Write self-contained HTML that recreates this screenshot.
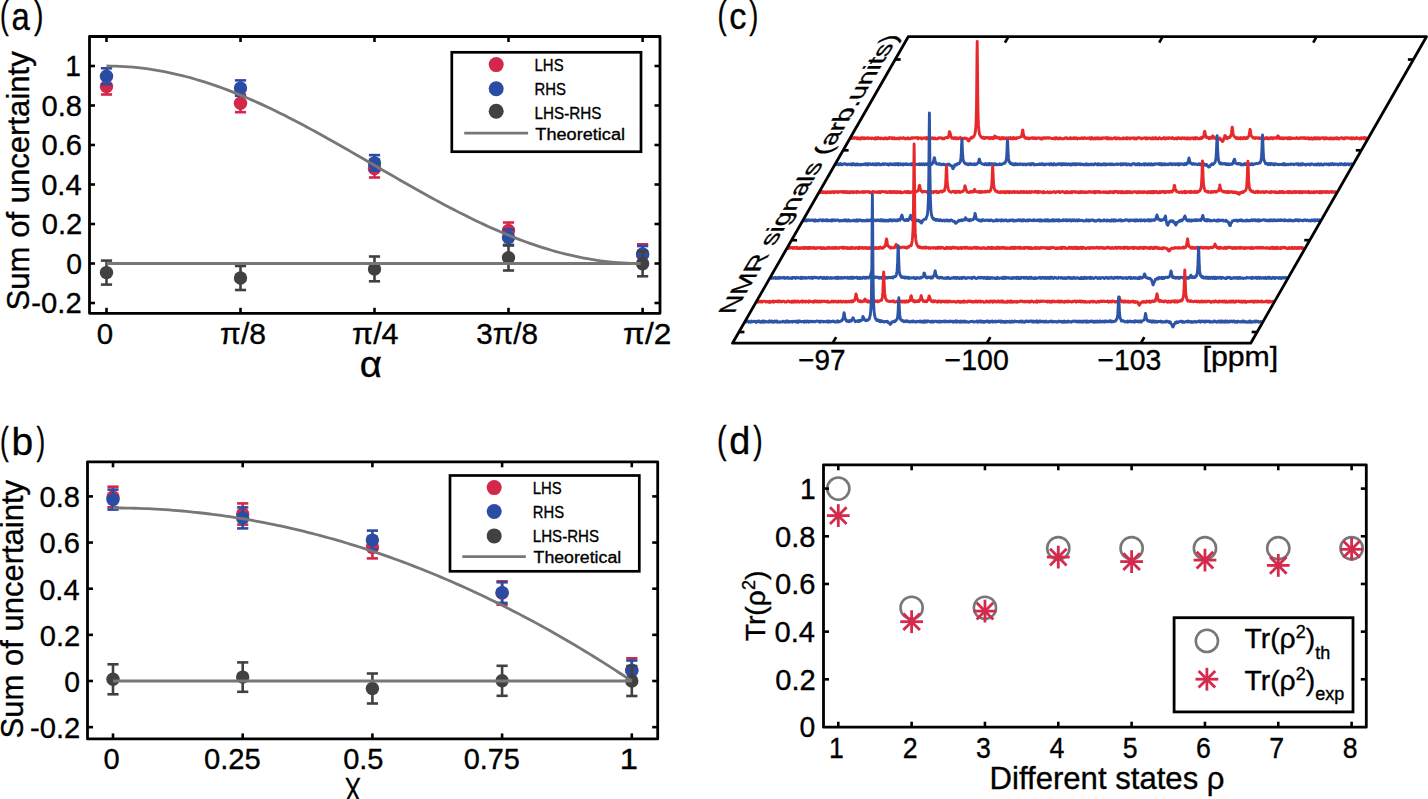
<!DOCTYPE html>
<html><head><meta charset="utf-8"><title>Figure</title>
<style>html,body{margin:0;padding:0;background:#fff;}svg{display:block;}text{font-family:"Liberation Sans", sans-serif;stroke:#000;stroke-width:0.35px;}</style>
</head><body>
<svg width="1428" height="799" viewBox="0 0 1428 799">
<rect width="1428" height="799" fill="#fff"/>
<line x1="106.50" y1="78.70" x2="106.50" y2="94.50" stroke="#D3284A" stroke-width="2.6" stroke-linecap="butt"/>
<line x1="100.90" y1="78.70" x2="112.10" y2="78.70" stroke="#D3284A" stroke-width="2.6" stroke-linecap="butt"/>
<line x1="100.90" y1="94.50" x2="112.10" y2="94.50" stroke="#D3284A" stroke-width="2.6" stroke-linecap="butt"/>
<circle cx="106.50" cy="86.60" r="6.7" fill="#D3284A"/>
<line x1="240.50" y1="94.40" x2="240.50" y2="112.20" stroke="#D3284A" stroke-width="2.6" stroke-linecap="butt"/>
<line x1="234.90" y1="94.40" x2="246.10" y2="94.40" stroke="#D3284A" stroke-width="2.6" stroke-linecap="butt"/>
<line x1="234.90" y1="112.20" x2="246.10" y2="112.20" stroke="#D3284A" stroke-width="2.6" stroke-linecap="butt"/>
<circle cx="240.50" cy="103.30" r="6.7" fill="#D3284A"/>
<line x1="374.50" y1="159.50" x2="374.50" y2="177.50" stroke="#D3284A" stroke-width="2.6" stroke-linecap="butt"/>
<line x1="368.90" y1="159.50" x2="380.10" y2="159.50" stroke="#D3284A" stroke-width="2.6" stroke-linecap="butt"/>
<line x1="368.90" y1="177.50" x2="380.10" y2="177.50" stroke="#D3284A" stroke-width="2.6" stroke-linecap="butt"/>
<circle cx="374.50" cy="168.50" r="6.7" fill="#D3284A"/>
<line x1="508.50" y1="222.50" x2="508.50" y2="238.50" stroke="#D3284A" stroke-width="2.6" stroke-linecap="butt"/>
<line x1="502.90" y1="222.50" x2="514.10" y2="222.50" stroke="#D3284A" stroke-width="2.6" stroke-linecap="butt"/>
<line x1="502.90" y1="238.50" x2="514.10" y2="238.50" stroke="#D3284A" stroke-width="2.6" stroke-linecap="butt"/>
<circle cx="508.50" cy="230.50" r="6.7" fill="#D3284A"/>
<line x1="642.60" y1="244.30" x2="642.60" y2="264.70" stroke="#D3284A" stroke-width="2.6" stroke-linecap="butt"/>
<line x1="637.00" y1="244.30" x2="648.20" y2="244.30" stroke="#D3284A" stroke-width="2.6" stroke-linecap="butt"/>
<line x1="637.00" y1="264.70" x2="648.20" y2="264.70" stroke="#D3284A" stroke-width="2.6" stroke-linecap="butt"/>
<circle cx="642.60" cy="254.50" r="6.7" fill="#D3284A"/>
<line x1="106.50" y1="68.30" x2="106.50" y2="84.30" stroke="#2A4DA3" stroke-width="2.6" stroke-linecap="butt"/>
<line x1="100.90" y1="68.30" x2="112.10" y2="68.30" stroke="#2A4DA3" stroke-width="2.6" stroke-linecap="butt"/>
<line x1="100.90" y1="84.30" x2="112.10" y2="84.30" stroke="#2A4DA3" stroke-width="2.6" stroke-linecap="butt"/>
<circle cx="106.50" cy="76.30" r="6.7" fill="#2A4DA3"/>
<line x1="240.50" y1="80.40" x2="240.50" y2="95.80" stroke="#2A4DA3" stroke-width="2.6" stroke-linecap="butt"/>
<line x1="234.90" y1="80.40" x2="246.10" y2="80.40" stroke="#2A4DA3" stroke-width="2.6" stroke-linecap="butt"/>
<line x1="234.90" y1="95.80" x2="246.10" y2="95.80" stroke="#2A4DA3" stroke-width="2.6" stroke-linecap="butt"/>
<circle cx="240.50" cy="88.10" r="6.7" fill="#2A4DA3"/>
<line x1="374.50" y1="155.10" x2="374.50" y2="170.70" stroke="#2A4DA3" stroke-width="2.6" stroke-linecap="butt"/>
<line x1="368.90" y1="155.10" x2="380.10" y2="155.10" stroke="#2A4DA3" stroke-width="2.6" stroke-linecap="butt"/>
<line x1="368.90" y1="170.70" x2="380.10" y2="170.70" stroke="#2A4DA3" stroke-width="2.6" stroke-linecap="butt"/>
<circle cx="374.50" cy="162.90" r="6.7" fill="#2A4DA3"/>
<line x1="508.50" y1="229.50" x2="508.50" y2="245.50" stroke="#2A4DA3" stroke-width="2.6" stroke-linecap="butt"/>
<line x1="502.90" y1="229.50" x2="514.10" y2="229.50" stroke="#2A4DA3" stroke-width="2.6" stroke-linecap="butt"/>
<line x1="502.90" y1="245.50" x2="514.10" y2="245.50" stroke="#2A4DA3" stroke-width="2.6" stroke-linecap="butt"/>
<circle cx="508.50" cy="237.50" r="6.7" fill="#2A4DA3"/>
<line x1="642.60" y1="246.00" x2="642.60" y2="262.00" stroke="#2A4DA3" stroke-width="2.6" stroke-linecap="butt"/>
<line x1="637.00" y1="246.00" x2="648.20" y2="246.00" stroke="#2A4DA3" stroke-width="2.6" stroke-linecap="butt"/>
<line x1="637.00" y1="262.00" x2="648.20" y2="262.00" stroke="#2A4DA3" stroke-width="2.6" stroke-linecap="butt"/>
<circle cx="642.60" cy="254.00" r="6.7" fill="#2A4DA3"/>
<line x1="106.50" y1="260.60" x2="106.50" y2="284.60" stroke="#414141" stroke-width="2.6" stroke-linecap="butt"/>
<line x1="100.90" y1="260.60" x2="112.10" y2="260.60" stroke="#414141" stroke-width="2.6" stroke-linecap="butt"/>
<line x1="100.90" y1="284.60" x2="112.10" y2="284.60" stroke="#414141" stroke-width="2.6" stroke-linecap="butt"/>
<circle cx="106.50" cy="272.60" r="6.7" fill="#414141"/>
<line x1="240.50" y1="266.00" x2="240.50" y2="290.00" stroke="#414141" stroke-width="2.6" stroke-linecap="butt"/>
<line x1="234.90" y1="266.00" x2="246.10" y2="266.00" stroke="#414141" stroke-width="2.6" stroke-linecap="butt"/>
<line x1="234.90" y1="290.00" x2="246.10" y2="290.00" stroke="#414141" stroke-width="2.6" stroke-linecap="butt"/>
<circle cx="240.50" cy="278.00" r="6.7" fill="#414141"/>
<line x1="374.50" y1="256.50" x2="374.50" y2="281.30" stroke="#414141" stroke-width="2.6" stroke-linecap="butt"/>
<line x1="368.90" y1="256.50" x2="380.10" y2="256.50" stroke="#414141" stroke-width="2.6" stroke-linecap="butt"/>
<line x1="368.90" y1="281.30" x2="380.10" y2="281.30" stroke="#414141" stroke-width="2.6" stroke-linecap="butt"/>
<circle cx="374.50" cy="268.90" r="6.7" fill="#414141"/>
<line x1="508.50" y1="244.90" x2="508.50" y2="270.50" stroke="#414141" stroke-width="2.6" stroke-linecap="butt"/>
<line x1="502.90" y1="244.90" x2="514.10" y2="244.90" stroke="#414141" stroke-width="2.6" stroke-linecap="butt"/>
<line x1="502.90" y1="270.50" x2="514.10" y2="270.50" stroke="#414141" stroke-width="2.6" stroke-linecap="butt"/>
<circle cx="508.50" cy="257.70" r="6.7" fill="#414141"/>
<line x1="642.60" y1="251.30" x2="642.60" y2="276.30" stroke="#414141" stroke-width="2.6" stroke-linecap="butt"/>
<line x1="637.00" y1="251.30" x2="648.20" y2="251.30" stroke="#414141" stroke-width="2.6" stroke-linecap="butt"/>
<line x1="637.00" y1="276.30" x2="648.20" y2="276.30" stroke="#414141" stroke-width="2.6" stroke-linecap="butt"/>
<circle cx="642.60" cy="263.80" r="6.7" fill="#414141"/>
<polyline points="106.50,66.00 110.95,66.03 115.40,66.14 119.85,66.30 124.30,66.54 128.75,66.84 133.20,67.22 137.65,67.65 142.10,68.16 146.55,68.73 151.00,69.36 155.45,70.07 159.90,70.83 164.35,71.66 168.80,72.56 173.25,73.52 177.70,74.54 182.15,75.62 186.60,76.76 191.05,77.97 195.50,79.23 199.95,80.55 204.40,81.93 208.85,83.37 213.30,84.86 217.75,86.41 222.20,88.01 226.65,89.66 231.10,91.36 235.55,93.12 240.00,94.92 244.45,96.77 248.90,98.67 253.35,100.62 257.80,102.60 262.25,104.63 266.70,106.71 271.15,108.82 275.60,110.97 280.05,113.15 284.50,115.37 288.95,117.63 293.40,119.92 297.85,122.24 302.30,124.58 306.75,126.96 311.20,129.36 315.65,131.79 320.10,134.23 324.55,136.70 329.00,139.19 333.45,141.70 337.90,144.22 342.35,146.75 346.80,149.30 351.25,151.86 355.70,154.43 360.15,157.00 364.60,159.58 369.05,162.17 373.50,164.75 377.95,167.33 382.40,169.92 386.85,172.50 391.30,175.07 395.75,177.64 400.20,180.20 404.65,182.75 409.10,185.28 413.55,187.80 418.00,190.31 422.45,192.80 426.90,195.27 431.35,197.71 435.80,200.14 440.25,202.54 444.70,204.92 449.15,207.26 453.60,209.58 458.05,211.87 462.50,214.12 466.95,216.35 471.40,218.53 475.85,220.68 480.30,222.79 484.75,224.87 489.20,226.90 493.65,228.88 498.10,230.83 502.55,232.73 507.00,234.58 511.45,236.38 515.90,238.14 520.35,239.84 524.80,241.49 529.25,243.09 533.70,244.64 538.15,246.13 542.60,247.57 547.05,248.95 551.50,250.27 555.95,251.53 560.40,252.74 564.85,253.88 569.30,254.96 573.75,255.98 578.20,256.94 582.65,257.84 587.10,258.67 591.55,259.43 596.00,260.14 600.45,260.77 604.90,261.34 609.35,261.85 613.80,262.28 618.25,262.66 622.70,262.96 627.15,263.20 631.60,263.36 636.05,263.47 640.50,263.50" fill="none" stroke="#777777" stroke-width="2.8" stroke-linejoin="round" />
<line x1="106.50" y1="263.50" x2="640.50" y2="263.50" stroke="#777777" stroke-width="2.8" stroke-linecap="butt"/>
<rect x="89.50" y="36.50" width="570.50" height="276.80" fill="none" stroke="#000" stroke-width="2.8" stroke-linejoin="round"/>
<line x1="106.50" y1="313.30" x2="106.50" y2="307.80" stroke="#000" stroke-width="2.6" stroke-linecap="butt"/>
<line x1="106.50" y1="36.50" x2="106.50" y2="42.00" stroke="#000" stroke-width="2.6" stroke-linecap="butt"/>
<line x1="240.50" y1="313.30" x2="240.50" y2="307.80" stroke="#000" stroke-width="2.6" stroke-linecap="butt"/>
<line x1="240.50" y1="36.50" x2="240.50" y2="42.00" stroke="#000" stroke-width="2.6" stroke-linecap="butt"/>
<line x1="374.50" y1="313.30" x2="374.50" y2="307.80" stroke="#000" stroke-width="2.6" stroke-linecap="butt"/>
<line x1="374.50" y1="36.50" x2="374.50" y2="42.00" stroke="#000" stroke-width="2.6" stroke-linecap="butt"/>
<line x1="508.50" y1="313.30" x2="508.50" y2="307.80" stroke="#000" stroke-width="2.6" stroke-linecap="butt"/>
<line x1="508.50" y1="36.50" x2="508.50" y2="42.00" stroke="#000" stroke-width="2.6" stroke-linecap="butt"/>
<line x1="642.60" y1="313.30" x2="642.60" y2="307.80" stroke="#000" stroke-width="2.6" stroke-linecap="butt"/>
<line x1="642.60" y1="36.50" x2="642.60" y2="42.00" stroke="#000" stroke-width="2.6" stroke-linecap="butt"/>
<line x1="89.50" y1="303.00" x2="95.00" y2="303.00" stroke="#000" stroke-width="2.6" stroke-linecap="butt"/>
<line x1="660.00" y1="303.00" x2="654.50" y2="303.00" stroke="#000" stroke-width="2.6" stroke-linecap="butt"/>
<line x1="89.50" y1="263.50" x2="95.00" y2="263.50" stroke="#000" stroke-width="2.6" stroke-linecap="butt"/>
<line x1="660.00" y1="263.50" x2="654.50" y2="263.50" stroke="#000" stroke-width="2.6" stroke-linecap="butt"/>
<line x1="89.50" y1="224.00" x2="95.00" y2="224.00" stroke="#000" stroke-width="2.6" stroke-linecap="butt"/>
<line x1="660.00" y1="224.00" x2="654.50" y2="224.00" stroke="#000" stroke-width="2.6" stroke-linecap="butt"/>
<line x1="89.50" y1="184.50" x2="95.00" y2="184.50" stroke="#000" stroke-width="2.6" stroke-linecap="butt"/>
<line x1="660.00" y1="184.50" x2="654.50" y2="184.50" stroke="#000" stroke-width="2.6" stroke-linecap="butt"/>
<line x1="89.50" y1="145.00" x2="95.00" y2="145.00" stroke="#000" stroke-width="2.6" stroke-linecap="butt"/>
<line x1="660.00" y1="145.00" x2="654.50" y2="145.00" stroke="#000" stroke-width="2.6" stroke-linecap="butt"/>
<line x1="89.50" y1="105.50" x2="95.00" y2="105.50" stroke="#000" stroke-width="2.6" stroke-linecap="butt"/>
<line x1="660.00" y1="105.50" x2="654.50" y2="105.50" stroke="#000" stroke-width="2.6" stroke-linecap="butt"/>
<line x1="89.50" y1="66.00" x2="95.00" y2="66.00" stroke="#000" stroke-width="2.6" stroke-linecap="butt"/>
<line x1="660.00" y1="66.00" x2="654.50" y2="66.00" stroke="#000" stroke-width="2.6" stroke-linecap="butt"/>
<rect x="451.8" y="52.3" width="189.2" height="99.4" fill="#fff" stroke="#000" stroke-width="2.7"/>
<circle cx="496.20" cy="64.60" r="7.5" fill="#D3284A"/>
<circle cx="496.20" cy="88.80" r="7.5" fill="#2A4DA3"/>
<circle cx="496.20" cy="111.30" r="7.5" fill="#414141"/>
<line x1="464.20" y1="133.20" x2="528.10" y2="133.20" stroke="#777777" stroke-width="2.8" stroke-linecap="butt"/>
<text x="534.58" y="70.80" font-size="17.3" textLength="29.01" lengthAdjust="spacingAndGlyphs" fill="#000" >LHS</text>
<text x="534.58" y="94.70" font-size="17.3" textLength="31.40" lengthAdjust="spacingAndGlyphs" fill="#000" >RHS</text>
<text x="534.55" y="118.60" font-size="17.3" textLength="66.85" lengthAdjust="spacingAndGlyphs" fill="#000" >LHS-RHS</text>
<text x="535.39" y="139.90" font-size="17.3" textLength="89.62" lengthAdjust="spacingAndGlyphs" fill="#000" >Theoretical</text>
<text x="65.30" y="76.30" font-size="29" textLength="15.68" lengthAdjust="spacingAndGlyphs" fill="#000" >1</text>
<text x="41.58" y="115.80" font-size="29" textLength="40.48" lengthAdjust="spacingAndGlyphs" fill="#000" >0.8</text>
<text x="41.60" y="155.30" font-size="29" textLength="40.48" lengthAdjust="spacingAndGlyphs" fill="#000" >0.6</text>
<text x="41.16" y="194.80" font-size="29" textLength="40.49" lengthAdjust="spacingAndGlyphs" fill="#000" >0.4</text>
<text x="41.79" y="234.30" font-size="29" textLength="40.48" lengthAdjust="spacingAndGlyphs" fill="#000" >0.2</text>
<text x="66.15" y="273.80" font-size="29" textLength="15.75" lengthAdjust="spacingAndGlyphs" fill="#000" >0</text>
<text x="31.33" y="313.30" font-size="29" textLength="50.34" lengthAdjust="spacingAndGlyphs" fill="#000" >-0.2</text>
<text x="96.85" y="343.60" font-size="29" textLength="16.40" lengthAdjust="spacingAndGlyphs" fill="#000" >0</text>
<text x="220.14" y="343.60" font-size="29" textLength="45.87" lengthAdjust="spacingAndGlyphs" fill="#000" >π/8</text>
<text x="352.12" y="343.60" font-size="29" textLength="46.47" lengthAdjust="spacingAndGlyphs" fill="#000" >π/4</text>
<text x="476.17" y="343.60" font-size="29" textLength="61.82" lengthAdjust="spacingAndGlyphs" fill="#000" >3π/8</text>
<text x="623.08" y="343.60" font-size="29" textLength="48.21" lengthAdjust="spacingAndGlyphs" fill="#000" >π/2</text>
<text x="359.69" y="376.60" font-size="36" textLength="22.11" lengthAdjust="spacingAndGlyphs" fill="#000" >α</text>
<text transform="translate(29.40,309.00) rotate(-90)" x="-1.41" y="0" font-size="31" textLength="259.17" lengthAdjust="spacingAndGlyphs" fill="#000">Sum of uncertainty</text>
<text x="-0.08" y="28.12" font-size="39.5" textLength="8.73" lengthAdjust="spacingAndGlyphs" fill="#000" >(</text>
<text x="33.93" y="28.12" font-size="39.5" textLength="9.42" lengthAdjust="spacingAndGlyphs" fill="#000" >)</text>
<text x="11.40" y="29.62" font-size="38.7" textLength="18.30" lengthAdjust="spacingAndGlyphs" fill="#000" >a</text>
<line x1="113.00" y1="486.70" x2="113.00" y2="507.30" stroke="#D3284A" stroke-width="2.6" stroke-linecap="butt"/>
<line x1="107.40" y1="486.70" x2="118.60" y2="486.70" stroke="#D3284A" stroke-width="2.6" stroke-linecap="butt"/>
<line x1="107.40" y1="507.30" x2="118.60" y2="507.30" stroke="#D3284A" stroke-width="2.6" stroke-linecap="butt"/>
<circle cx="113.00" cy="497.00" r="6.7" fill="#D3284A"/>
<line x1="242.70" y1="503.40" x2="242.70" y2="524.60" stroke="#D3284A" stroke-width="2.6" stroke-linecap="butt"/>
<line x1="237.10" y1="503.40" x2="248.30" y2="503.40" stroke="#D3284A" stroke-width="2.6" stroke-linecap="butt"/>
<line x1="237.10" y1="524.60" x2="248.30" y2="524.60" stroke="#D3284A" stroke-width="2.6" stroke-linecap="butt"/>
<circle cx="242.70" cy="514.00" r="6.7" fill="#D3284A"/>
<line x1="372.40" y1="536.80" x2="372.40" y2="558.40" stroke="#D3284A" stroke-width="2.6" stroke-linecap="butt"/>
<line x1="366.80" y1="536.80" x2="378.00" y2="536.80" stroke="#D3284A" stroke-width="2.6" stroke-linecap="butt"/>
<line x1="366.80" y1="558.40" x2="378.00" y2="558.40" stroke="#D3284A" stroke-width="2.6" stroke-linecap="butt"/>
<circle cx="372.40" cy="547.60" r="6.7" fill="#D3284A"/>
<line x1="502.10" y1="581.30" x2="502.10" y2="604.70" stroke="#D3284A" stroke-width="2.6" stroke-linecap="butt"/>
<line x1="496.50" y1="581.30" x2="507.70" y2="581.30" stroke="#D3284A" stroke-width="2.6" stroke-linecap="butt"/>
<line x1="496.50" y1="604.70" x2="507.70" y2="604.70" stroke="#D3284A" stroke-width="2.6" stroke-linecap="butt"/>
<circle cx="502.10" cy="593.00" r="6.7" fill="#D3284A"/>
<line x1="631.80" y1="658.30" x2="631.80" y2="682.70" stroke="#D3284A" stroke-width="2.6" stroke-linecap="butt"/>
<line x1="626.20" y1="658.30" x2="637.40" y2="658.30" stroke="#D3284A" stroke-width="2.6" stroke-linecap="butt"/>
<line x1="626.20" y1="682.70" x2="637.40" y2="682.70" stroke="#D3284A" stroke-width="2.6" stroke-linecap="butt"/>
<circle cx="631.80" cy="670.50" r="6.7" fill="#D3284A"/>
<line x1="113.00" y1="489.60" x2="113.00" y2="509.60" stroke="#2A4DA3" stroke-width="2.6" stroke-linecap="butt"/>
<line x1="107.40" y1="489.60" x2="118.60" y2="489.60" stroke="#2A4DA3" stroke-width="2.6" stroke-linecap="butt"/>
<line x1="107.40" y1="509.60" x2="118.60" y2="509.60" stroke="#2A4DA3" stroke-width="2.6" stroke-linecap="butt"/>
<circle cx="113.00" cy="499.60" r="6.7" fill="#2A4DA3"/>
<line x1="242.70" y1="507.40" x2="242.70" y2="528.40" stroke="#2A4DA3" stroke-width="2.6" stroke-linecap="butt"/>
<line x1="237.10" y1="507.40" x2="248.30" y2="507.40" stroke="#2A4DA3" stroke-width="2.6" stroke-linecap="butt"/>
<line x1="237.10" y1="528.40" x2="248.30" y2="528.40" stroke="#2A4DA3" stroke-width="2.6" stroke-linecap="butt"/>
<circle cx="242.70" cy="517.90" r="6.7" fill="#2A4DA3"/>
<line x1="372.40" y1="530.60" x2="372.40" y2="549.60" stroke="#2A4DA3" stroke-width="2.6" stroke-linecap="butt"/>
<line x1="366.80" y1="530.60" x2="378.00" y2="530.60" stroke="#2A4DA3" stroke-width="2.6" stroke-linecap="butt"/>
<line x1="366.80" y1="549.60" x2="378.00" y2="549.60" stroke="#2A4DA3" stroke-width="2.6" stroke-linecap="butt"/>
<circle cx="372.40" cy="540.10" r="6.7" fill="#2A4DA3"/>
<line x1="502.10" y1="582.30" x2="502.10" y2="602.90" stroke="#2A4DA3" stroke-width="2.6" stroke-linecap="butt"/>
<line x1="496.50" y1="582.30" x2="507.70" y2="582.30" stroke="#2A4DA3" stroke-width="2.6" stroke-linecap="butt"/>
<line x1="496.50" y1="602.90" x2="507.70" y2="602.90" stroke="#2A4DA3" stroke-width="2.6" stroke-linecap="butt"/>
<circle cx="502.10" cy="592.60" r="6.7" fill="#2A4DA3"/>
<line x1="631.80" y1="660.50" x2="631.80" y2="680.50" stroke="#2A4DA3" stroke-width="2.6" stroke-linecap="butt"/>
<line x1="626.20" y1="660.50" x2="637.40" y2="660.50" stroke="#2A4DA3" stroke-width="2.6" stroke-linecap="butt"/>
<line x1="626.20" y1="680.50" x2="637.40" y2="680.50" stroke="#2A4DA3" stroke-width="2.6" stroke-linecap="butt"/>
<circle cx="631.80" cy="670.50" r="6.7" fill="#2A4DA3"/>
<line x1="113.00" y1="664.30" x2="113.00" y2="694.30" stroke="#414141" stroke-width="2.6" stroke-linecap="butt"/>
<line x1="107.40" y1="664.30" x2="118.60" y2="664.30" stroke="#414141" stroke-width="2.6" stroke-linecap="butt"/>
<line x1="107.40" y1="694.30" x2="118.60" y2="694.30" stroke="#414141" stroke-width="2.6" stroke-linecap="butt"/>
<circle cx="113.00" cy="679.30" r="6.7" fill="#414141"/>
<line x1="242.70" y1="662.40" x2="242.70" y2="691.80" stroke="#414141" stroke-width="2.6" stroke-linecap="butt"/>
<line x1="237.10" y1="662.40" x2="248.30" y2="662.40" stroke="#414141" stroke-width="2.6" stroke-linecap="butt"/>
<line x1="237.10" y1="691.80" x2="248.30" y2="691.80" stroke="#414141" stroke-width="2.6" stroke-linecap="butt"/>
<circle cx="242.70" cy="677.10" r="6.7" fill="#414141"/>
<line x1="372.40" y1="673.50" x2="372.40" y2="703.50" stroke="#414141" stroke-width="2.6" stroke-linecap="butt"/>
<line x1="366.80" y1="673.50" x2="378.00" y2="673.50" stroke="#414141" stroke-width="2.6" stroke-linecap="butt"/>
<line x1="366.80" y1="703.50" x2="378.00" y2="703.50" stroke="#414141" stroke-width="2.6" stroke-linecap="butt"/>
<circle cx="372.40" cy="688.50" r="6.7" fill="#414141"/>
<line x1="502.10" y1="665.80" x2="502.10" y2="695.80" stroke="#414141" stroke-width="2.6" stroke-linecap="butt"/>
<line x1="496.50" y1="665.80" x2="507.70" y2="665.80" stroke="#414141" stroke-width="2.6" stroke-linecap="butt"/>
<line x1="496.50" y1="695.80" x2="507.70" y2="695.80" stroke="#414141" stroke-width="2.6" stroke-linecap="butt"/>
<circle cx="502.10" cy="680.80" r="6.7" fill="#414141"/>
<line x1="631.80" y1="666.00" x2="631.80" y2="696.00" stroke="#414141" stroke-width="2.6" stroke-linecap="butt"/>
<line x1="626.20" y1="666.00" x2="637.40" y2="666.00" stroke="#414141" stroke-width="2.6" stroke-linecap="butt"/>
<line x1="626.20" y1="696.00" x2="637.40" y2="696.00" stroke="#414141" stroke-width="2.6" stroke-linecap="butt"/>
<circle cx="631.80" cy="681.00" r="6.7" fill="#414141"/>
<polyline points="113.00,507.94 117.32,507.95 121.65,507.99 125.97,508.05 130.29,508.13 134.62,508.24 138.94,508.37 143.26,508.53 147.59,508.71 151.91,508.91 156.23,509.14 160.56,509.39 164.88,509.67 169.20,509.97 173.53,510.29 177.85,510.64 182.17,511.01 186.50,511.41 190.82,511.83 195.14,512.28 199.47,512.74 203.79,513.24 208.11,513.75 212.44,514.30 216.76,514.86 221.08,515.45 225.41,516.06 229.73,516.70 234.05,517.36 238.38,518.04 242.70,518.75 247.02,519.49 251.35,520.24 255.67,521.03 259.99,521.83 264.32,522.66 268.64,523.51 272.96,524.39 277.29,525.29 281.61,526.22 285.93,527.17 290.26,528.14 294.58,529.14 298.90,530.16 303.23,531.20 307.55,532.27 311.87,533.37 316.20,534.49 320.52,535.63 324.84,536.79 329.17,537.98 333.49,539.20 337.81,540.43 342.14,541.70 346.46,542.98 350.78,544.29 355.11,545.63 359.43,546.98 363.75,548.37 368.08,549.77 372.40,551.20 376.72,552.66 381.05,554.14 385.37,555.64 389.69,557.16 394.02,558.71 398.34,560.29 402.66,561.89 406.99,563.51 411.31,565.16 415.63,566.83 419.96,568.52 424.28,570.24 428.60,571.98 432.93,573.75 437.25,575.54 441.57,577.35 445.90,579.19 450.22,581.06 454.54,582.94 458.87,584.85 463.19,586.79 467.51,588.75 471.84,590.73 476.16,592.74 480.48,594.77 484.81,596.82 489.13,598.90 493.45,601.01 497.78,603.13 502.10,605.29 506.42,607.46 510.75,609.66 515.07,611.88 519.39,614.13 523.72,616.40 528.04,618.70 532.36,621.02 536.69,623.36 541.01,625.73 545.33,628.12 549.66,630.54 553.98,632.98 558.30,635.44 562.63,637.93 566.95,640.44 571.27,642.97 575.60,645.53 579.92,648.12 584.24,650.73 588.57,653.36 592.89,656.01 597.21,658.69 601.54,661.40 605.86,664.13 610.18,666.88 614.51,669.65 618.83,672.46 623.15,675.28 627.48,678.13 631.80,681.00" fill="none" stroke="#777777" stroke-width="2.8" stroke-linejoin="round" />
<line x1="113.00" y1="681.00" x2="631.80" y2="681.00" stroke="#777777" stroke-width="2.8" stroke-linecap="butt"/>
<rect x="87.50" y="461.80" width="570.20" height="277.10" fill="none" stroke="#000" stroke-width="2.8" stroke-linejoin="round"/>
<line x1="113.00" y1="738.90" x2="113.00" y2="733.40" stroke="#000" stroke-width="2.6" stroke-linecap="butt"/>
<line x1="113.00" y1="461.80" x2="113.00" y2="467.30" stroke="#000" stroke-width="2.6" stroke-linecap="butt"/>
<line x1="242.70" y1="738.90" x2="242.70" y2="733.40" stroke="#000" stroke-width="2.6" stroke-linecap="butt"/>
<line x1="242.70" y1="461.80" x2="242.70" y2="467.30" stroke="#000" stroke-width="2.6" stroke-linecap="butt"/>
<line x1="372.40" y1="738.90" x2="372.40" y2="733.40" stroke="#000" stroke-width="2.6" stroke-linecap="butt"/>
<line x1="372.40" y1="461.80" x2="372.40" y2="467.30" stroke="#000" stroke-width="2.6" stroke-linecap="butt"/>
<line x1="502.10" y1="738.90" x2="502.10" y2="733.40" stroke="#000" stroke-width="2.6" stroke-linecap="butt"/>
<line x1="502.10" y1="461.80" x2="502.10" y2="467.30" stroke="#000" stroke-width="2.6" stroke-linecap="butt"/>
<line x1="631.80" y1="738.90" x2="631.80" y2="733.40" stroke="#000" stroke-width="2.6" stroke-linecap="butt"/>
<line x1="631.80" y1="461.80" x2="631.80" y2="467.30" stroke="#000" stroke-width="2.6" stroke-linecap="butt"/>
<line x1="87.50" y1="727.15" x2="93.00" y2="727.15" stroke="#000" stroke-width="2.6" stroke-linecap="butt"/>
<line x1="657.70" y1="727.15" x2="652.20" y2="727.15" stroke="#000" stroke-width="2.6" stroke-linecap="butt"/>
<line x1="87.50" y1="681.00" x2="93.00" y2="681.00" stroke="#000" stroke-width="2.6" stroke-linecap="butt"/>
<line x1="657.70" y1="681.00" x2="652.20" y2="681.00" stroke="#000" stroke-width="2.6" stroke-linecap="butt"/>
<line x1="87.50" y1="634.85" x2="93.00" y2="634.85" stroke="#000" stroke-width="2.6" stroke-linecap="butt"/>
<line x1="657.70" y1="634.85" x2="652.20" y2="634.85" stroke="#000" stroke-width="2.6" stroke-linecap="butt"/>
<line x1="87.50" y1="588.70" x2="93.00" y2="588.70" stroke="#000" stroke-width="2.6" stroke-linecap="butt"/>
<line x1="657.70" y1="588.70" x2="652.20" y2="588.70" stroke="#000" stroke-width="2.6" stroke-linecap="butt"/>
<line x1="87.50" y1="542.55" x2="93.00" y2="542.55" stroke="#000" stroke-width="2.6" stroke-linecap="butt"/>
<line x1="657.70" y1="542.55" x2="652.20" y2="542.55" stroke="#000" stroke-width="2.6" stroke-linecap="butt"/>
<line x1="87.50" y1="496.40" x2="93.00" y2="496.40" stroke="#000" stroke-width="2.6" stroke-linecap="butt"/>
<line x1="657.70" y1="496.40" x2="652.20" y2="496.40" stroke="#000" stroke-width="2.6" stroke-linecap="butt"/>
<rect x="450.0" y="475.5" width="189.3" height="95.8" fill="#fff" stroke="#000" stroke-width="2.7"/>
<circle cx="494.20" cy="487.60" r="7.5" fill="#D3284A"/>
<circle cx="494.20" cy="511.50" r="7.5" fill="#2A4DA3"/>
<circle cx="494.20" cy="535.90" r="7.5" fill="#414141"/>
<line x1="462.30" y1="556.70" x2="525.80" y2="556.70" stroke="#777777" stroke-width="2.8" stroke-linecap="butt"/>
<text x="532.78" y="493.50" font-size="17.3" textLength="28.90" lengthAdjust="spacingAndGlyphs" fill="#000" >LHS</text>
<text x="532.78" y="518.30" font-size="17.3" textLength="31.30" lengthAdjust="spacingAndGlyphs" fill="#000" >RHS</text>
<text x="532.76" y="542.20" font-size="17.3" textLength="66.33" lengthAdjust="spacingAndGlyphs" fill="#000" >LHS-RHS</text>
<text x="533.60" y="563.30" font-size="17.3" textLength="87.58" lengthAdjust="spacingAndGlyphs" fill="#000" >Theoretical</text>
<text x="39.58" y="507.30" font-size="29" textLength="40.48" lengthAdjust="spacingAndGlyphs" fill="#000" >0.8</text>
<text x="39.60" y="553.45" font-size="29" textLength="40.48" lengthAdjust="spacingAndGlyphs" fill="#000" >0.6</text>
<text x="39.16" y="599.60" font-size="29" textLength="40.49" lengthAdjust="spacingAndGlyphs" fill="#000" >0.4</text>
<text x="39.79" y="645.75" font-size="29" textLength="40.48" lengthAdjust="spacingAndGlyphs" fill="#000" >0.2</text>
<text x="64.15" y="691.90" font-size="29" textLength="15.75" lengthAdjust="spacingAndGlyphs" fill="#000" >0</text>
<text x="29.93" y="738.05" font-size="29" textLength="50.34" lengthAdjust="spacingAndGlyphs" fill="#000" >-0.2</text>
<text x="103.56" y="769.40" font-size="29" textLength="16.17" lengthAdjust="spacingAndGlyphs" fill="#000" >0</text>
<text x="203.96" y="769.40" font-size="29" textLength="56.76" lengthAdjust="spacingAndGlyphs" fill="#000" >0.25</text>
<text x="343.17" y="769.40" font-size="29" textLength="40.35" lengthAdjust="spacingAndGlyphs" fill="#000" >0.5</text>
<text x="463.67" y="769.40" font-size="29" textLength="56.24" lengthAdjust="spacingAndGlyphs" fill="#000" >0.75</text>
<text x="619.81" y="769.40" font-size="29" textLength="18.19" lengthAdjust="spacingAndGlyphs" fill="#000" >1</text>
<text x="344.54" y="802.00" font-size="35" textLength="16.69" lengthAdjust="spacingAndGlyphs" fill="#000" >X</text>
<text transform="translate(23.20,737.00) rotate(-90)" x="-1.41" y="0" font-size="31" textLength="258.47" lengthAdjust="spacingAndGlyphs" fill="#000">Sum of uncertainty</text>
<text x="-0.08" y="454.38" font-size="39.71" textLength="8.73" lengthAdjust="spacingAndGlyphs" fill="#000" >(</text>
<text x="36.45" y="454.38" font-size="39.71" textLength="8.67" lengthAdjust="spacingAndGlyphs" fill="#000" >)</text>
<text x="11.59" y="454.62" font-size="39.08" textLength="21.64" lengthAdjust="spacingAndGlyphs" fill="#000" >b</text>
<polyline points="850.49,138.05 850.99,137.81 851.49,138.51 851.99,137.70 852.49,138.35 852.99,138.11 853.49,137.68 853.99,138.31 854.49,137.65 854.99,138.21 855.49,137.70 855.99,137.72 856.49,138.19 856.99,138.76 857.49,137.77 857.99,137.91 858.49,138.48 858.99,138.92 859.49,138.41 859.99,138.15 860.49,138.96 860.99,137.66 861.49,138.80 861.99,138.00 862.49,137.80 862.99,137.76 863.49,138.03 863.99,138.74 864.49,137.85 864.99,138.41 865.49,138.49 865.99,138.12 866.49,138.36 866.99,137.69 867.49,137.68 867.99,137.89 868.49,138.55 868.99,138.20 869.49,138.04 869.99,138.42 870.49,138.23 870.99,138.02 871.49,138.71 871.99,138.58 872.49,137.94 872.99,138.40 873.49,138.33 873.99,138.82 874.49,138.62 874.99,138.00 875.49,138.97 875.99,137.76 876.49,138.18 876.99,138.66 877.49,137.81 877.99,138.28 878.49,137.65 878.99,138.53 879.49,138.67 879.99,138.40 880.49,138.82 880.99,138.04 881.49,138.57 881.99,138.43 882.49,138.41 882.99,138.24 883.49,138.77 883.99,138.92 884.49,138.26 884.99,138.53 885.49,137.68 885.99,138.58 886.49,138.50 886.99,138.99 887.49,138.75 887.99,137.99 888.49,138.14 888.99,138.53 889.49,137.63 889.99,138.24 890.49,137.83 890.99,137.76 891.49,137.68 891.99,138.67 892.49,137.78 892.99,137.94 893.49,138.14 893.99,138.82 894.49,137.71 894.99,138.22 895.49,138.36 895.99,138.83 896.49,138.74 896.99,138.80 897.49,137.98 897.99,138.18 898.49,138.10 898.99,138.83 899.49,138.94 899.99,137.81 900.49,137.84 900.99,137.92 901.49,137.92 901.99,138.27 902.49,138.42 902.99,137.96 903.49,137.60 903.99,138.18 904.49,138.11 904.99,138.39 905.49,138.93 905.99,138.56 906.49,138.32 906.99,138.46 907.49,138.54 907.99,137.67 908.49,138.85 908.99,138.68 909.49,138.82 909.99,138.71 910.49,138.14 910.99,138.15 911.49,137.74 911.99,138.48 912.49,137.68 912.99,137.69 913.49,137.88 913.99,137.82 914.49,138.07 914.99,137.66 915.49,137.59 915.99,137.80 916.49,137.73 916.99,138.10 917.49,137.63 917.99,138.81 918.49,138.45 918.99,137.80 919.49,137.94 919.99,138.08 920.49,138.10 920.99,137.76 921.49,138.78 921.99,138.98 922.49,138.24 922.99,138.26 923.49,137.71 923.99,137.73 924.49,138.07 924.99,137.96 925.49,138.75 925.99,137.81 926.49,137.62 926.99,138.92 927.49,138.32 927.99,137.79 928.49,138.34 928.99,137.62 929.49,138.32 929.99,138.95 930.49,138.79 930.99,138.55 931.49,137.94 931.99,138.09 932.49,137.81 932.99,138.66 933.49,138.32 933.99,138.66 934.49,138.03 934.99,137.88 935.49,138.71 935.99,138.95 936.49,138.76 936.99,138.69 937.49,138.71 937.99,138.59 938.49,137.87 938.99,138.28 939.49,138.05 939.99,137.59 940.49,137.58 940.99,137.93 941.49,137.89 941.99,138.49 942.49,138.85 942.99,138.12 943.49,138.80 943.99,138.85 944.49,138.78 944.99,137.92 945.49,137.68 945.99,137.62 946.49,137.49 946.99,137.37 947.49,137.73 947.99,137.71 948.49,136.81 948.70,135.73 948.99,134.80 949.10,134.43 949.40,131.66 949.49,132.01 949.70,131.85 949.99,132.58 950.00,132.59 950.30,133.98 950.49,134.51 950.70,136.16 950.99,136.27 951.49,137.65 951.99,138.26 952.49,137.66 952.99,137.79 953.49,138.63 953.99,138.38 954.49,137.64 954.99,137.61 955.49,137.67 955.99,138.74 956.49,138.61 956.99,137.70 957.49,138.66 957.99,138.88 958.49,138.44 958.99,138.01 959.49,138.30 959.99,137.72 960.49,137.56 960.99,138.90 961.49,138.46 961.99,138.29 962.49,138.87 962.99,138.19 963.49,138.81 963.99,138.77 964.49,137.94 964.99,138.04 965.49,138.17 965.99,138.19 966.49,138.84 966.99,138.63 967.49,139.25 967.70,139.07 967.99,140.50 968.10,139.85 968.40,140.29 968.49,140.52 968.70,141.02 968.99,140.20 969.00,140.89 969.30,139.96 969.49,139.75 969.70,139.46 969.99,138.41 970.49,138.53 970.99,137.83 971.49,137.30 971.99,138.16 972.49,137.01 972.99,137.11 973.49,137.04 973.99,136.21 974.49,134.97 974.99,133.69 975.49,130.81 975.99,124.62 976.20,118.41 976.49,106.28 976.60,98.25 976.90,66.71 976.99,56.28 977.20,41.36 977.49,65.85 977.50,67.38 977.80,99.16 977.99,110.51 978.20,119.09 978.49,125.67 978.99,131.32 979.49,134.18 979.99,135.24 980.49,136.17 980.99,136.63 981.49,137.63 981.99,137.54 982.49,137.98 982.99,138.21 983.49,137.36 983.99,137.86 984.49,138.47 984.99,138.38 985.49,137.44 985.99,137.45 986.49,137.93 986.99,137.44 987.49,137.69 987.99,137.48 988.49,138.33 988.99,138.50 989.49,138.66 989.99,137.63 990.49,138.41 990.99,138.33 991.49,137.60 991.99,138.61 992.49,138.69 992.99,137.57 993.49,138.45 993.99,137.36 994.00,137.48 994.40,137.68 994.49,137.32 994.70,136.02 994.99,136.13 995.00,136.24 995.30,136.27 995.49,136.40 995.60,136.75 995.99,137.81 996.00,136.84 996.49,137.90 996.99,137.90 997.49,137.40 997.99,137.89 998.49,138.33 998.99,138.19 999.49,137.58 999.99,138.88 1000.49,138.62 1000.99,138.88 1001.49,137.67 1001.99,137.90 1002.49,137.59 1002.99,138.63 1003.49,137.92 1003.99,137.72 1004.49,138.13 1004.99,138.82 1005.49,138.69 1005.99,137.91 1006.49,137.76 1006.99,138.83 1007.49,138.35 1007.99,138.53 1008.49,137.67 1008.99,137.63 1009.49,138.51 1009.99,138.14 1010.49,137.65 1010.99,138.86 1011.49,138.43 1011.99,138.66 1012.49,137.65 1012.99,138.73 1013.49,137.62 1013.99,138.73 1014.49,138.15 1014.99,137.98 1015.49,138.27 1015.99,138.78 1016.49,137.84 1016.99,137.63 1017.49,138.16 1017.99,137.72 1018.49,137.49 1018.99,137.50 1019.49,137.24 1019.99,137.30 1020.49,137.20 1020.99,136.72 1021.49,136.43 1021.70,135.11 1021.99,134.07 1022.10,132.96 1022.40,131.18 1022.49,130.19 1022.70,129.94 1022.99,130.65 1023.00,131.72 1023.30,133.48 1023.49,134.06 1023.70,135.37 1023.99,136.88 1024.49,136.54 1024.99,137.96 1025.49,137.65 1025.99,137.89 1026.49,138.46 1026.99,137.90 1027.49,138.11 1027.99,138.39 1028.49,138.83 1028.99,137.96 1029.49,138.66 1029.99,138.50 1030.49,138.41 1030.99,138.09 1031.49,138.02 1031.99,137.62 1032.49,137.73 1032.99,137.65 1033.49,138.59 1033.99,137.91 1034.49,137.79 1034.99,137.68 1035.49,138.74 1035.99,138.79 1036.49,138.51 1036.99,137.97 1037.49,137.91 1037.99,137.98 1038.49,138.22 1038.99,137.80 1039.49,138.20 1039.99,137.95 1040.49,138.93 1040.99,138.94 1041.49,138.35 1041.99,137.92 1042.49,138.93 1042.99,138.02 1043.49,138.08 1043.99,137.59 1044.49,138.12 1044.99,138.25 1045.49,138.29 1045.99,137.87 1046.49,138.29 1046.99,137.59 1047.49,137.96 1047.99,137.71 1048.49,138.15 1048.99,137.65 1049.49,137.62 1049.99,138.01 1050.49,137.92 1050.99,138.41 1051.49,138.33 1051.99,138.64 1052.49,138.51 1052.99,138.59 1053.49,138.82 1053.99,138.14 1054.49,138.05 1054.99,138.97 1055.49,137.80 1055.99,138.61 1056.49,138.49 1056.99,137.65 1057.49,138.76 1057.99,138.84 1058.49,138.47 1058.99,138.62 1059.49,138.73 1059.99,137.79 1060.49,138.33 1060.99,138.30 1061.49,138.76 1061.99,138.72 1062.49,138.75 1062.99,138.41 1063.49,138.84 1063.99,138.55 1064.49,138.56 1064.99,137.92 1065.49,137.64 1065.99,137.78 1066.49,138.10 1066.99,137.74 1067.49,138.76 1067.99,138.38 1068.49,138.47 1068.99,138.47 1069.49,138.55 1069.99,138.28 1070.49,137.60 1070.99,138.71 1071.49,138.64 1071.99,138.30 1072.49,138.34 1072.99,138.52 1073.49,137.69 1073.99,138.63 1074.49,137.95 1074.99,137.70 1075.49,137.97 1075.99,138.62 1076.49,137.88 1076.99,138.63 1077.49,138.96 1077.99,138.29 1078.49,138.13 1078.99,138.27 1079.49,138.55 1079.99,138.67 1080.49,138.46 1080.99,138.50 1081.49,137.70 1081.99,137.80 1082.49,137.95 1082.99,138.64 1083.49,138.02 1083.99,138.39 1084.49,137.61 1084.99,137.68 1085.49,137.97 1085.99,138.54 1086.49,138.57 1086.99,138.54 1087.49,138.00 1087.99,138.32 1088.49,138.25 1088.99,138.25 1089.49,137.76 1089.99,138.85 1090.49,137.88 1090.99,138.97 1091.49,138.91 1091.99,137.62 1092.49,138.24 1092.99,138.74 1093.49,138.95 1093.99,138.23 1094.49,137.97 1094.99,137.89 1095.49,138.92 1095.99,137.89 1096.49,138.41 1096.99,137.80 1097.49,138.33 1097.99,138.93 1098.49,137.78 1098.99,138.75 1099.49,138.31 1099.99,138.84 1100.49,138.58 1100.99,137.92 1101.49,138.85 1101.99,138.28 1102.49,137.63 1102.99,137.60 1103.49,138.29 1103.99,138.23 1104.49,138.02 1104.99,137.79 1105.49,138.08 1105.99,138.04 1106.49,138.77 1106.99,137.60 1107.49,138.65 1107.99,138.77 1108.49,137.77 1108.99,138.89 1109.49,138.60 1109.99,138.86 1110.49,138.00 1110.99,138.12 1111.49,138.15 1111.99,139.00 1112.49,138.42 1112.99,138.10 1113.49,138.20 1113.99,137.98 1114.49,137.66 1114.99,137.74 1115.49,138.77 1115.99,138.00 1116.49,138.91 1116.99,137.95 1117.49,137.97 1117.99,138.31 1118.49,137.86 1118.99,138.12 1119.49,138.94 1119.99,138.84 1120.49,138.73 1120.99,138.48 1121.49,138.88 1121.99,138.91 1122.49,138.37 1122.99,138.60 1123.49,137.67 1123.99,138.62 1124.49,138.23 1124.99,138.65 1125.49,138.50 1125.99,138.00 1126.49,137.67 1126.99,138.89 1127.49,137.78 1127.99,138.26 1128.49,138.08 1128.99,138.01 1129.49,138.63 1129.99,138.96 1130.49,137.96 1130.99,138.52 1131.49,138.02 1131.99,138.38 1132.49,138.15 1132.99,137.83 1133.49,137.82 1133.99,137.89 1134.49,138.87 1134.99,138.29 1135.49,137.91 1135.99,138.87 1136.49,138.99 1136.99,138.23 1137.49,137.79 1137.99,137.87 1138.49,137.72 1138.99,138.08 1139.49,137.72 1139.99,137.93 1140.49,137.96 1140.99,138.39 1141.49,138.84 1141.99,138.65 1142.49,138.17 1142.99,138.18 1143.49,138.33 1143.99,138.12 1144.49,138.07 1144.99,137.68 1145.49,137.99 1145.99,138.95 1146.49,137.77 1146.99,138.30 1147.49,138.48 1147.99,138.80 1148.49,137.90 1148.99,137.98 1149.49,137.94 1149.99,138.16 1150.49,138.22 1150.99,138.93 1151.49,138.78 1151.99,138.82 1152.49,137.63 1152.99,137.64 1153.49,138.59 1153.99,138.85 1154.49,138.26 1154.99,138.42 1155.49,137.60 1155.99,138.14 1156.49,138.89 1156.99,138.75 1157.49,138.79 1157.99,138.96 1158.49,137.94 1158.99,137.75 1159.49,137.81 1159.99,138.33 1160.49,138.55 1160.99,138.91 1161.49,138.61 1161.99,138.50 1162.49,138.67 1162.99,138.24 1163.49,138.37 1163.99,137.65 1164.49,138.69 1164.99,137.92 1165.49,138.88 1165.99,138.50 1166.49,138.02 1166.99,137.77 1167.49,137.95 1167.99,138.49 1168.49,138.57 1168.99,137.75 1169.49,137.69 1169.99,138.33 1170.49,138.41 1170.99,138.14 1171.49,137.91 1171.99,138.44 1172.49,137.61 1172.99,138.02 1173.49,138.24 1173.99,138.94 1174.49,138.50 1174.99,138.83 1175.49,138.26 1175.99,137.92 1176.49,137.94 1176.99,138.94 1177.49,138.58 1177.99,138.02 1178.49,137.62 1178.99,138.29 1179.49,138.54 1179.99,138.18 1180.49,137.95 1180.99,138.52 1181.49,138.88 1181.99,137.91 1182.49,137.64 1182.99,138.06 1183.49,138.18 1183.99,138.54 1184.49,137.86 1184.99,138.70 1185.49,138.62 1185.99,138.29 1186.49,137.87 1186.99,138.94 1187.49,138.02 1187.99,138.73 1188.49,137.90 1188.99,137.89 1189.49,138.64 1189.99,137.99 1190.49,138.91 1190.99,138.27 1191.49,137.84 1191.99,137.88 1192.49,138.15 1192.99,138.50 1193.49,138.89 1193.99,137.77 1194.49,138.11 1194.99,137.85 1195.49,138.91 1195.99,137.74 1196.49,137.61 1196.99,137.61 1197.49,138.07 1197.99,138.77 1198.49,138.73 1198.99,138.50 1199.49,138.85 1199.99,138.73 1200.49,137.85 1200.99,137.59 1201.49,138.55 1201.99,138.16 1202.49,136.94 1202.99,137.44 1203.49,136.26 1203.70,135.70 1203.99,134.52 1204.10,133.74 1204.40,131.81 1204.49,131.76 1204.70,131.38 1204.99,133.09 1205.00,131.98 1205.30,134.85 1205.49,134.70 1205.70,135.67 1205.99,137.04 1206.49,137.73 1206.99,137.53 1207.49,137.18 1207.99,137.89 1208.49,137.82 1208.99,138.63 1209.49,137.63 1209.99,137.87 1210.49,138.59 1210.99,137.31 1211.49,137.71 1211.99,137.97 1212.00,137.90 1212.40,136.39 1212.49,136.24 1212.70,135.92 1212.99,136.85 1213.00,135.93 1213.30,136.89 1213.49,137.43 1213.60,136.83 1213.99,137.24 1214.00,138.21 1214.49,138.06 1214.99,137.72 1215.49,138.46 1215.99,137.96 1216.49,137.95 1216.99,137.61 1217.49,138.70 1217.99,138.97 1218.49,138.62 1218.99,139.13 1219.49,137.94 1219.99,138.37 1220.49,138.92 1220.99,139.93 1221.49,140.45 1221.60,139.79 1221.99,140.14 1222.00,140.40 1222.30,140.83 1222.49,141.53 1222.60,140.49 1222.90,141.13 1222.99,140.91 1223.20,140.67 1223.49,140.02 1223.60,139.55 1223.99,138.27 1224.00,138.23 1224.40,137.17 1224.49,137.47 1224.70,135.82 1224.99,135.41 1225.00,136.19 1225.30,135.77 1225.49,135.93 1225.60,136.12 1225.99,137.48 1226.00,137.17 1226.49,138.45 1226.99,138.45 1227.49,138.63 1227.99,137.58 1228.49,137.25 1228.99,137.14 1229.49,137.49 1229.99,137.42 1230.49,136.39 1230.99,134.76 1231.20,134.08 1231.49,132.46 1231.60,131.59 1231.90,128.82 1231.99,128.21 1232.20,127.13 1232.49,127.85 1232.50,128.95 1232.80,131.06 1232.99,132.98 1233.20,134.01 1233.49,135.75 1233.99,136.17 1234.49,136.83 1234.99,137.16 1235.49,137.24 1235.99,138.39 1236.49,138.05 1236.99,137.76 1237.49,137.90 1237.99,138.77 1238.49,138.12 1238.99,137.75 1239.49,138.57 1239.99,138.37 1240.49,138.85 1240.99,137.61 1241.49,138.13 1241.99,138.61 1242.49,138.63 1242.99,138.73 1243.49,137.50 1243.99,137.84 1244.49,137.57 1244.99,137.64 1245.49,138.70 1245.99,138.10 1246.49,138.51 1246.99,137.61 1247.49,138.12 1247.99,137.23 1248.49,136.39 1248.99,135.94 1249.10,135.77 1249.49,132.49 1249.50,133.11 1249.80,130.95 1249.99,129.37 1250.10,129.40 1250.40,130.28 1250.49,131.02 1250.70,132.63 1250.99,134.81 1251.10,135.36 1251.49,135.91 1251.99,136.42 1252.49,137.26 1252.99,137.98 1253.49,137.44 1253.99,137.71 1254.49,137.62 1254.99,138.50 1255.49,138.19 1255.99,137.54 1256.49,137.61 1256.99,138.04 1257.49,138.27 1257.99,138.40 1258.49,137.65 1258.99,137.76 1259.49,138.51 1259.99,138.11 1260.49,137.94 1260.99,137.98 1261.49,138.89 1261.99,137.99 1262.49,138.35 1262.99,138.06 1263.49,138.14 1263.99,138.77 1264.49,138.96 1264.99,138.07 1265.49,137.84 1265.99,138.59 1266.49,137.85 1266.99,137.58 1267.49,138.83 1267.99,138.16 1268.49,138.72 1268.99,138.14 1269.49,138.80 1269.99,138.21 1270.49,137.79 1270.99,137.58 1271.49,138.33 1271.99,138.45 1272.49,138.82 1272.99,137.67 1273.49,138.40 1273.99,138.04 1274.49,138.21 1274.99,137.68 1275.49,137.82 1275.99,138.07 1276.49,138.49 1276.99,137.03 1277.00,137.56 1277.40,137.50 1277.49,137.58 1277.70,136.14 1277.99,135.77 1278.00,136.91 1278.30,137.23 1278.49,136.86 1278.60,136.45 1278.99,138.16 1279.00,137.41 1279.49,138.45 1279.99,138.21 1280.49,138.58 1280.99,137.70 1281.49,138.60 1281.99,137.83 1282.49,138.10 1282.99,138.73 1283.49,138.72 1283.99,137.82 1284.49,137.87 1284.99,138.13 1285.49,138.30 1285.99,138.11 1286.49,137.75 1286.99,137.93 1287.49,138.60 1287.99,138.84 1288.49,137.64 1288.99,138.37 1289.49,138.65 1289.99,137.64 1290.49,138.76 1290.99,137.75 1291.49,138.43 1291.99,138.36 1292.49,138.47 1292.99,138.02 1293.49,138.18 1293.99,138.41 1294.49,138.19 1294.99,138.51 1295.49,138.22 1295.99,138.21 1296.49,137.63 1296.99,138.46 1297.49,138.28 1297.99,137.92 1298.49,138.66 1298.99,138.69 1299.49,138.24 1299.99,137.85 1300.49,138.26 1300.99,137.74 1301.49,137.77 1301.99,138.20 1302.49,137.72 1302.99,138.21 1303.49,138.31 1303.99,137.65 1304.49,138.49 1304.99,137.71 1305.49,138.62 1305.99,138.68 1306.49,138.31 1306.99,137.67 1307.49,138.30 1307.99,138.12 1308.49,138.93 1308.99,137.79 1309.49,138.80 1309.99,138.99 1310.49,138.62 1310.99,138.74 1311.49,137.87 1311.99,138.97 1312.49,138.29 1312.99,138.94 1313.49,138.88 1313.99,137.83 1314.49,138.70 1314.99,138.90 1315.49,137.69 1315.99,138.09 1316.49,138.66 1316.99,137.82 1317.49,138.85 1317.99,137.98 1318.49,138.74 1318.99,137.80 1319.49,138.30 1319.99,138.89 1320.49,137.89 1320.99,137.97 1321.49,138.31 1321.99,138.04 1322.49,137.65 1322.99,137.85 1323.49,137.82 1323.99,138.91 1324.49,138.55 1324.99,138.85 1325.49,137.83 1325.99,138.70 1326.49,137.76 1326.99,138.34 1327.49,138.49 1327.99,138.10 1328.49,138.82 1328.99,138.38 1329.49,138.41 1329.99,138.83 1330.49,137.74 1330.99,138.99 1331.49,138.48 1331.99,138.15 1332.49,138.71 1332.99,137.97 1333.49,138.98 1333.99,138.41 1334.49,138.10 1334.99,138.67 1335.49,138.22 1335.99,137.85 1336.49,138.64 1336.99,137.67 1337.49,138.75 1337.99,137.95 1338.49,138.49 1338.99,138.98 1339.49,138.42 1339.99,138.53 1340.49,138.04 1340.99,137.60 1341.49,137.65 1341.99,137.81 1342.49,138.46 1342.99,138.20 1343.49,138.32 1343.99,138.85 1344.49,137.78 1344.99,137.92 1345.49,138.51 1345.99,137.63 1346.49,137.60 1346.99,138.10 1347.49,137.75 1347.99,138.10 1348.49,137.91 1348.99,138.42 1349.49,138.42 1349.99,137.88 1350.49,138.47 1350.99,138.26 1351.49,137.79 1351.99,138.91 1352.49,137.94 1352.99,137.81 1353.49,137.73 1353.99,138.49 1354.49,138.82 1354.99,138.69 1355.49,138.16 1355.99,137.97 1356.49,137.61 1356.99,138.50 1357.49,138.39 1357.99,138.09 1358.49,138.50 1358.99,138.22 1359.49,138.91 1359.99,138.63 1360.49,137.95 1360.99,138.86 1361.49,137.66 1361.99,138.34 1362.49,138.17 1362.99,137.93 1363.49,137.68 1363.99,138.69 1364.49,137.62 1364.99,138.37 1365.49,138.92 1365.99,137.80 1366.49,137.88 1366.99,138.45" fill="none" stroke="#E8292B" stroke-width="2.9" stroke-linejoin="round" />
<polyline points="835.58,164.31 836.08,164.50 836.58,164.74 837.08,163.84 837.58,164.03 838.08,164.02 838.58,163.67 839.08,164.84 839.58,164.70 840.08,164.60 840.58,163.61 841.08,164.78 841.58,164.64 842.08,164.25 842.58,164.64 843.08,164.23 843.58,163.92 844.08,163.75 844.58,163.92 845.08,163.65 845.58,164.07 846.08,164.65 846.58,164.57 847.08,164.78 847.58,164.60 848.08,163.97 848.58,164.37 849.08,164.21 849.58,164.70 850.08,164.33 850.58,163.97 851.08,164.50 851.58,164.95 852.08,163.90 852.58,164.83 853.08,163.62 853.58,163.96 854.08,163.93 854.58,164.64 855.08,164.92 855.58,164.64 856.08,164.06 856.58,164.83 857.08,164.06 857.58,163.93 858.08,164.87 858.58,164.48 859.08,164.57 859.58,164.53 860.08,164.97 860.58,164.26 861.08,164.77 861.58,164.58 862.08,164.80 862.58,164.21 863.08,164.61 863.58,164.40 864.08,164.03 864.58,163.90 865.08,164.47 865.58,163.71 866.08,164.87 866.58,163.80 867.08,163.64 867.58,163.75 868.08,164.90 868.58,164.08 869.08,163.80 869.58,163.64 870.08,163.66 870.58,164.57 871.08,164.49 871.58,164.57 872.08,164.63 872.58,163.69 873.08,164.42 873.58,164.11 874.08,164.74 874.58,164.75 875.08,164.85 875.58,163.69 876.08,164.81 876.58,164.88 877.08,164.92 877.58,163.75 878.08,163.89 878.58,163.75 879.08,163.65 879.58,164.78 880.08,164.73 880.58,164.49 881.08,164.75 881.58,164.48 882.08,164.00 882.58,163.74 883.08,163.73 883.58,164.66 884.08,163.88 884.58,164.04 885.08,164.19 885.58,163.63 886.08,163.96 886.58,163.99 887.08,164.60 887.58,164.11 888.08,164.05 888.58,164.95 889.08,164.30 889.58,164.79 890.08,164.46 890.58,163.64 891.08,164.17 891.58,164.21 892.08,164.68 892.58,164.08 893.08,164.58 893.58,164.35 894.08,163.90 894.58,164.80 895.08,163.72 895.58,164.74 896.08,163.83 896.58,163.60 897.08,163.88 897.58,164.66 898.08,164.96 898.58,163.60 899.08,164.28 899.58,164.28 900.08,164.71 900.58,163.85 901.08,164.29 901.58,164.08 902.08,164.76 902.58,163.96 903.08,164.92 903.58,163.99 904.08,163.90 904.58,164.57 905.08,164.29 905.58,163.75 906.08,164.49 906.58,163.71 907.08,164.70 907.58,164.57 908.08,164.69 908.58,164.47 909.08,164.09 909.58,164.15 910.08,164.14 910.58,164.84 911.08,163.71 911.58,164.84 912.08,163.63 912.58,163.88 913.08,163.96 913.58,164.85 914.08,164.29 914.58,164.12 915.08,164.83 915.58,163.92 916.08,164.23 916.58,164.33 917.08,164.64 917.58,164.64 918.08,164.49 918.58,164.07 919.08,164.04 919.58,163.80 920.08,164.76 920.58,164.51 921.08,164.62 921.58,163.81 922.08,164.19 922.58,164.66 923.08,164.38 923.58,163.74 924.08,164.21 924.58,164.80 925.08,163.89 925.58,163.82 926.08,163.97 926.58,164.52 927.08,164.71 927.58,163.74 928.08,163.72 928.58,163.84 929.08,163.92 929.58,164.17 930.08,163.62 930.58,163.80 931.08,163.53 931.58,164.50 932.08,163.95 932.58,162.69 933.08,163.14 933.30,161.37 933.58,160.70 933.70,160.96 934.00,159.03 934.08,158.55 934.30,157.61 934.58,158.09 934.60,158.81 934.90,159.73 935.08,160.73 935.30,161.77 935.58,161.97 936.08,163.17 936.58,164.07 937.08,164.13 937.58,163.98 938.08,164.25 938.58,164.06 939.08,163.65 939.58,164.33 940.08,164.07 940.58,164.56 941.08,164.81 941.58,164.16 942.08,164.37 942.58,164.63 943.08,164.18 943.58,163.92 944.08,164.62 944.58,164.86 945.08,164.72 945.58,164.63 946.08,164.86 946.58,164.64 947.08,164.61 947.58,164.38 948.08,164.23 948.58,164.72 949.08,164.06 949.58,164.61 950.08,165.27 950.58,165.41 951.08,165.64 951.58,165.67 952.00,166.60 952.08,166.79 952.40,167.65 952.58,167.68 952.70,168.22 953.00,168.77 953.08,167.71 953.30,168.18 953.58,167.88 953.60,167.30 954.00,166.64 954.08,167.17 954.58,165.09 955.08,165.28 955.58,164.40 956.08,165.02 956.58,165.06 957.08,164.30 957.58,163.56 958.08,164.04 958.58,163.77 959.08,163.70 959.58,162.91 960.08,162.20 960.58,160.66 960.90,157.93 961.08,155.70 961.30,152.75 961.58,144.86 961.60,145.03 961.90,139.71 962.08,142.27 962.20,144.23 962.50,152.78 962.58,153.44 962.90,157.24 963.08,159.00 963.58,161.43 964.08,161.93 964.58,163.05 965.08,163.37 965.58,163.96 966.08,163.61 966.58,163.59 967.08,163.60 967.58,164.37 968.08,164.69 968.58,164.14 969.08,163.73 969.58,164.56 970.08,164.00 970.58,163.76 971.08,163.65 971.58,164.56 972.08,164.60 972.58,164.36 973.08,164.12 973.58,164.24 974.08,163.76 974.58,164.78 975.08,163.89 975.58,164.25 976.08,164.45 976.58,164.35 977.08,163.70 977.58,163.18 978.08,162.96 978.30,161.94 978.58,162.13 978.70,161.01 979.00,160.45 979.08,159.33 979.30,159.09 979.58,159.54 979.60,159.85 979.90,160.78 980.08,161.17 980.30,162.78 980.58,162.69 981.08,163.16 981.58,163.51 982.08,163.90 982.58,163.92 983.08,164.27 983.58,164.35 984.08,163.96 984.58,164.77 985.08,164.68 985.58,163.58 986.08,164.67 986.58,164.79 987.08,164.62 987.58,163.72 988.08,164.70 988.58,164.42 989.08,163.56 989.58,163.55 990.08,164.87 990.58,164.46 991.08,163.89 991.58,163.68 992.08,163.74 992.58,163.87 993.08,164.62 993.58,164.02 994.08,163.75 994.58,164.80 995.08,164.63 995.58,163.76 996.08,164.76 996.58,164.36 997.08,164.60 997.58,164.43 998.08,164.74 998.58,164.58 999.08,164.64 999.58,163.73 1000.08,164.40 1000.58,164.15 1001.08,164.42 1001.58,163.96 1002.08,164.53 1002.58,164.01 1003.08,163.52 1003.58,163.36 1004.08,163.05 1004.58,163.29 1005.08,162.25 1005.58,162.06 1006.08,160.08 1006.50,157.80 1006.58,156.97 1006.90,152.10 1007.08,148.33 1007.20,144.00 1007.50,140.27 1007.58,140.19 1007.80,144.78 1008.08,151.88 1008.10,152.52 1008.50,157.63 1008.58,158.41 1009.08,161.85 1009.58,161.82 1010.08,163.23 1010.58,163.59 1011.08,162.97 1011.58,163.93 1012.08,164.14 1012.58,164.56 1013.08,163.78 1013.58,164.73 1014.08,164.11 1014.58,164.10 1015.08,164.70 1015.58,163.51 1016.08,164.48 1016.58,164.36 1017.08,163.97 1017.58,164.72 1018.08,164.03 1018.58,164.19 1019.08,164.27 1019.58,164.61 1020.08,163.84 1020.58,164.15 1021.08,164.14 1021.58,164.33 1022.08,164.71 1022.58,163.97 1023.08,164.72 1023.58,164.13 1024.08,164.27 1024.58,163.95 1025.08,164.28 1025.58,164.93 1026.08,164.49 1026.58,164.68 1027.08,164.04 1027.58,164.02 1028.08,164.00 1028.58,164.40 1029.08,164.47 1029.58,164.68 1030.08,163.64 1030.58,164.59 1031.08,164.82 1031.58,164.35 1032.08,163.65 1032.58,164.00 1033.08,163.59 1033.58,163.85 1034.08,164.88 1034.58,164.44 1035.08,164.51 1035.58,164.69 1036.08,164.86 1036.58,164.44 1037.08,164.45 1037.58,164.47 1038.08,164.56 1038.58,164.42 1039.08,164.54 1039.58,163.89 1040.08,164.52 1040.58,164.23 1041.08,164.66 1041.58,163.73 1042.08,163.84 1042.58,163.64 1043.08,164.68 1043.58,164.87 1044.08,164.51 1044.58,164.11 1045.08,164.74 1045.58,164.69 1046.08,164.38 1046.58,163.95 1047.08,164.02 1047.58,164.18 1048.08,164.04 1048.58,164.20 1049.08,164.49 1049.58,164.90 1050.08,163.67 1050.58,164.39 1051.08,163.65 1051.58,163.76 1052.08,164.73 1052.58,164.40 1053.08,164.88 1053.58,164.22 1054.08,163.61 1054.58,164.14 1055.08,164.42 1055.58,164.91 1056.08,164.97 1056.58,164.26 1057.08,164.17 1057.58,163.74 1058.08,164.50 1058.58,163.89 1059.08,163.81 1059.58,163.62 1060.08,163.60 1060.58,164.55 1061.08,163.77 1061.58,164.95 1062.08,163.72 1062.58,164.81 1063.08,163.78 1063.58,163.62 1064.08,164.60 1064.58,163.93 1065.08,164.62 1065.58,163.86 1066.08,163.67 1066.58,164.68 1067.08,164.59 1067.58,164.79 1068.08,164.62 1068.58,163.71 1069.08,164.48 1069.58,164.59 1070.08,164.24 1070.58,164.90 1071.08,163.95 1071.58,164.95 1072.08,164.60 1072.58,163.61 1073.08,163.62 1073.58,164.51 1074.08,164.74 1074.58,163.71 1075.08,164.03 1075.58,164.62 1076.08,163.83 1076.58,164.80 1077.08,164.28 1077.58,163.68 1078.08,164.11 1078.58,164.40 1079.08,164.21 1079.58,164.54 1080.08,163.80 1080.58,164.71 1081.08,164.11 1081.58,164.50 1082.08,164.48 1082.58,164.18 1083.08,164.14 1083.58,164.70 1084.08,164.92 1084.58,164.70 1085.08,164.39 1085.58,164.01 1086.08,163.68 1086.58,164.96 1087.08,164.58 1087.58,164.76 1088.08,164.06 1088.58,164.45 1089.08,164.97 1089.58,164.76 1090.08,164.44 1090.58,164.03 1091.08,164.20 1091.58,164.84 1092.08,164.12 1092.58,164.56 1093.08,164.44 1093.58,164.85 1094.08,164.73 1094.58,163.99 1095.08,163.60 1095.58,163.97 1096.08,164.19 1096.58,164.42 1097.08,164.74 1097.58,164.84 1098.08,163.66 1098.58,164.76 1099.08,164.73 1099.58,164.81 1100.08,164.40 1100.58,163.98 1101.08,164.79 1101.58,164.73 1102.08,164.56 1102.58,164.88 1103.08,164.08 1103.58,163.72 1104.08,164.37 1104.58,164.71 1105.08,163.88 1105.58,164.65 1106.08,164.90 1106.58,163.92 1107.08,164.45 1107.58,164.55 1108.08,164.25 1108.58,163.89 1109.08,163.95 1109.58,164.65 1110.08,164.71 1110.58,164.24 1111.08,163.72 1111.58,164.73 1112.08,164.68 1112.58,163.92 1113.08,164.41 1113.58,164.85 1114.08,164.84 1114.58,164.33 1115.08,164.26 1115.58,164.42 1116.08,163.86 1116.58,163.87 1117.08,163.85 1117.58,164.58 1118.08,164.11 1118.58,164.39 1119.08,164.16 1119.58,164.32 1120.08,163.81 1120.58,163.66 1121.08,164.99 1121.58,164.12 1122.08,163.75 1122.58,164.48 1123.08,164.70 1123.58,163.82 1124.08,164.43 1124.58,164.08 1125.08,164.32 1125.58,163.63 1126.08,163.64 1126.58,164.98 1127.08,164.81 1127.58,164.28 1128.08,164.39 1128.58,163.96 1129.08,164.69 1129.58,164.19 1130.08,164.92 1130.58,164.67 1131.08,164.74 1131.58,164.95 1132.08,163.95 1132.58,163.65 1133.08,163.88 1133.58,163.85 1134.08,163.71 1134.58,163.67 1135.08,164.38 1135.58,164.82 1136.08,164.24 1136.58,164.92 1137.08,164.87 1137.58,163.69 1138.08,164.43 1138.58,164.15 1139.08,163.76 1139.58,164.94 1140.08,163.96 1140.58,164.39 1141.08,164.49 1141.58,164.94 1142.08,164.53 1142.58,164.15 1143.08,164.22 1143.58,163.82 1144.08,164.95 1144.58,164.98 1145.08,163.91 1145.58,163.65 1146.08,163.95 1146.58,164.09 1147.08,164.86 1147.58,164.86 1148.08,164.77 1148.58,163.66 1149.08,164.70 1149.58,164.59 1150.08,164.50 1150.58,164.97 1151.08,163.67 1151.58,163.80 1152.08,164.65 1152.58,164.91 1153.08,164.54 1153.58,164.01 1154.08,164.42 1154.58,164.66 1155.08,163.74 1155.58,164.05 1156.08,163.95 1156.58,163.77 1157.08,164.27 1157.58,163.83 1158.08,163.93 1158.58,163.79 1159.08,164.54 1159.58,163.61 1160.08,164.60 1160.58,163.87 1161.08,163.64 1161.58,164.89 1162.08,163.90 1162.58,164.90 1163.08,164.81 1163.58,164.84 1164.08,163.79 1164.58,164.22 1165.08,163.73 1165.58,164.89 1166.08,164.77 1166.58,164.47 1167.08,164.22 1167.58,164.07 1168.08,164.74 1168.58,164.26 1169.08,164.47 1169.58,163.79 1170.08,163.90 1170.58,163.67 1171.08,164.59 1171.58,164.36 1172.08,163.79 1172.58,164.80 1173.08,163.96 1173.58,164.16 1174.08,163.80 1174.58,163.96 1175.08,164.75 1175.58,164.05 1176.08,163.81 1176.58,164.26 1177.08,164.02 1177.58,164.84 1178.08,163.73 1178.58,164.94 1179.08,163.64 1179.58,164.81 1180.08,164.49 1180.58,163.85 1181.08,164.21 1181.58,163.94 1182.08,163.89 1182.58,163.80 1183.08,164.02 1183.58,164.88 1184.08,164.86 1184.58,164.73 1185.08,163.53 1185.58,163.74 1186.08,164.50 1186.58,163.18 1187.08,163.86 1187.58,162.76 1188.00,162.91 1188.08,161.34 1188.40,161.25 1188.58,159.73 1188.70,158.88 1189.00,157.90 1189.08,159.13 1189.30,159.42 1189.58,160.29 1189.60,160.73 1190.00,162.82 1190.08,162.05 1190.58,163.35 1191.08,163.14 1191.58,163.41 1192.08,164.36 1192.58,164.35 1193.08,163.69 1193.58,163.56 1194.08,163.60 1194.58,164.35 1195.08,164.21 1195.58,163.91 1196.08,163.83 1196.58,164.41 1197.08,164.55 1197.58,164.70 1198.08,164.39 1198.58,163.86 1199.08,163.68 1199.58,164.62 1200.08,164.17 1200.58,164.62 1201.08,163.69 1201.58,164.76 1202.08,164.11 1202.58,164.83 1203.08,164.88 1203.58,164.39 1204.08,163.75 1204.58,165.05 1205.08,164.50 1205.58,165.15 1206.08,164.43 1206.58,164.52 1207.08,165.74 1207.58,165.58 1207.80,165.58 1208.08,166.28 1208.20,166.76 1208.50,166.30 1208.58,167.09 1208.80,167.06 1209.08,167.02 1209.10,166.44 1209.40,166.89 1209.58,166.75 1209.80,166.49 1210.08,165.35 1210.58,165.39 1211.08,164.58 1211.58,164.85 1212.08,163.68 1212.58,164.64 1213.08,164.56 1213.58,163.69 1214.08,163.41 1214.58,162.97 1215.08,162.19 1215.58,159.94 1216.08,157.82 1216.10,156.57 1216.50,149.92 1216.58,147.79 1216.80,141.61 1217.08,136.82 1217.10,135.69 1217.40,141.38 1217.58,147.58 1217.70,149.91 1218.08,156.04 1218.10,157.06 1218.58,160.49 1219.08,162.00 1219.58,163.06 1220.08,162.67 1220.58,164.02 1221.08,163.99 1221.58,163.17 1222.08,163.37 1222.58,163.95 1223.08,164.01 1223.58,163.74 1224.08,163.55 1224.58,163.97 1225.08,163.61 1225.58,164.26 1226.08,164.64 1226.58,163.65 1227.08,164.25 1227.58,164.49 1228.08,163.67 1228.58,164.59 1229.08,164.73 1229.58,163.94 1230.08,163.96 1230.58,164.51 1231.08,164.00 1231.58,163.73 1232.08,164.33 1232.58,163.81 1233.08,162.64 1233.40,161.84 1233.58,161.43 1233.80,160.69 1234.08,160.10 1234.10,159.77 1234.40,159.14 1234.58,159.31 1234.70,159.83 1235.00,160.16 1235.08,161.16 1235.40,162.85 1235.58,163.23 1236.08,162.96 1236.58,163.55 1237.08,164.04 1237.58,163.77 1238.08,164.08 1238.58,163.48 1239.08,164.03 1239.58,164.15 1240.08,163.49 1240.58,163.68 1241.08,164.85 1241.58,164.59 1242.08,164.82 1242.58,164.40 1243.08,164.65 1243.58,164.76 1244.08,164.76 1244.58,163.57 1245.08,164.42 1245.58,163.90 1246.08,164.48 1246.58,163.91 1247.08,164.29 1247.58,164.82 1248.08,164.39 1248.58,163.87 1249.08,164.25 1249.58,164.12 1250.08,164.84 1250.58,163.91 1251.08,163.93 1251.58,164.40 1252.08,163.65 1252.58,164.31 1253.08,164.80 1253.58,164.17 1254.08,163.81 1254.58,164.07 1255.08,164.14 1255.58,163.57 1256.08,163.51 1256.58,163.47 1257.08,163.64 1257.58,163.73 1258.08,163.46 1258.58,163.25 1259.08,162.83 1259.58,163.16 1260.08,163.06 1260.58,161.82 1261.08,159.92 1261.50,156.69 1261.58,155.06 1261.90,149.84 1262.08,144.41 1262.20,140.76 1262.50,134.95 1262.58,135.28 1262.80,140.43 1263.08,148.71 1263.10,149.15 1263.50,156.50 1263.58,157.18 1264.08,160.70 1264.58,161.35 1265.08,162.57 1265.58,163.72 1266.08,163.12 1266.58,163.75 1267.08,163.78 1267.58,163.59 1268.08,164.64 1268.58,163.72 1269.08,164.43 1269.58,163.61 1270.08,163.50 1270.58,164.65 1271.08,164.07 1271.58,163.55 1272.08,164.02 1272.58,164.11 1273.08,164.53 1273.58,163.66 1274.08,163.83 1274.58,164.87 1275.08,164.56 1275.58,163.75 1276.08,164.01 1276.58,164.04 1277.08,164.49 1277.58,164.41 1278.08,164.74 1278.58,164.70 1279.08,164.28 1279.58,164.59 1280.08,164.60 1280.58,164.63 1281.08,164.23 1281.58,164.67 1282.08,164.56 1282.58,164.85 1283.08,163.75 1283.58,164.79 1284.08,163.58 1284.58,164.65 1285.08,164.40 1285.58,164.27 1286.08,164.93 1286.58,164.38 1287.08,164.16 1287.58,164.68 1288.08,164.80 1288.58,164.43 1289.08,164.11 1289.58,164.22 1290.08,164.22 1290.58,164.60 1291.08,163.99 1291.58,164.13 1292.08,164.36 1292.58,164.12 1293.08,164.04 1293.58,164.69 1294.08,164.78 1294.58,164.29 1295.08,164.21 1295.58,163.85 1296.08,164.01 1296.58,163.79 1297.08,164.39 1297.58,164.40 1298.08,163.71 1298.58,164.88 1299.08,164.04 1299.58,164.77 1300.08,164.76 1300.58,164.93 1301.08,163.88 1301.58,164.19 1302.08,164.87 1302.58,163.61 1303.08,163.66 1303.58,164.38 1304.08,164.29 1304.58,164.88 1305.08,164.68 1305.58,164.35 1306.08,164.99 1306.58,164.32 1307.08,164.32 1307.58,164.55 1308.08,164.14 1308.58,164.09 1309.08,164.43 1309.58,164.09 1310.08,164.92 1310.58,164.54 1311.08,164.33 1311.58,163.73 1312.08,164.12 1312.58,164.16 1313.08,164.38 1313.58,164.40 1314.08,164.83 1314.58,164.94 1315.08,164.28 1315.58,164.21 1316.08,164.47 1316.58,164.99 1317.08,164.08 1317.58,164.34 1318.08,164.74 1318.58,163.83 1319.08,164.04 1319.58,164.97 1320.08,164.75 1320.58,164.31 1321.08,163.75 1321.58,164.85 1322.08,164.56 1322.58,164.74 1323.08,164.98 1323.58,164.84 1324.08,164.19 1324.58,163.81 1325.08,164.00 1325.58,164.31 1326.08,164.30 1326.58,163.86 1327.08,163.85 1327.58,164.48 1328.08,164.44 1328.58,164.09 1329.08,164.99 1329.58,164.49 1330.08,163.66 1330.58,164.17 1331.08,164.70 1331.58,164.03 1332.08,164.56 1332.58,163.60 1333.08,164.02 1333.58,164.78 1334.08,164.42 1334.58,164.53 1335.08,163.87 1335.58,164.29 1336.08,164.37 1336.58,163.97 1337.08,164.50 1337.58,164.34 1338.08,164.99 1338.58,164.40 1339.08,164.17 1339.58,163.77 1340.08,163.82 1340.58,164.66 1341.08,163.75 1341.58,163.74 1342.08,163.84 1342.58,164.33 1343.08,164.75 1343.58,164.46 1344.08,164.73 1344.58,163.68 1345.08,163.62 1345.58,164.68 1346.08,164.05 1346.58,164.60 1347.08,164.09 1347.58,163.83 1348.08,163.97 1348.58,163.74 1349.08,164.86 1349.58,164.41 1350.08,164.09 1350.58,164.23 1351.08,164.14 1351.58,163.67 1352.08,164.84" fill="none" stroke="#2C55A8" stroke-width="2.9" stroke-linejoin="round" />
<polyline points="819.64,192.21 820.14,192.74 820.64,192.01 821.14,192.27 821.64,191.75 822.14,191.46 822.64,192.70 823.14,192.59 823.64,191.84 824.14,192.66 824.64,192.54 825.14,191.82 825.64,192.24 826.14,192.74 826.64,192.09 827.14,192.73 827.64,191.74 828.14,191.94 828.64,192.40 829.14,191.71 829.64,191.83 830.14,192.62 830.64,192.08 831.14,192.51 831.64,191.74 832.14,191.64 832.64,191.90 833.14,191.66 833.64,192.76 834.14,191.80 834.64,192.18 835.14,191.56 835.64,192.15 836.14,191.94 836.64,191.96 837.14,191.49 837.64,191.57 838.14,192.55 838.64,191.89 839.14,191.74 839.64,191.67 840.14,191.79 840.64,191.73 841.14,191.45 841.64,192.33 842.14,191.88 842.64,191.62 843.14,192.39 843.64,191.53 844.14,191.78 844.64,192.57 845.14,191.58 845.64,192.02 846.14,192.57 846.64,192.52 847.14,191.62 847.64,191.89 848.14,192.41 848.64,191.92 849.14,192.74 849.64,191.69 850.14,192.73 850.64,192.10 851.14,191.72 851.64,192.03 852.14,191.58 852.64,192.39 853.14,191.76 853.64,192.66 854.14,192.22 854.64,191.91 855.14,191.74 855.64,192.25 856.14,191.69 856.64,192.62 857.14,191.57 857.64,192.11 858.14,192.16 858.64,191.78 859.14,192.48 859.64,191.94 860.14,192.32 860.64,192.19 861.14,191.83 861.64,191.94 862.14,191.52 862.64,191.64 863.14,192.59 863.64,191.85 864.14,192.32 864.64,191.55 865.14,192.18 865.64,191.90 866.14,192.10 866.64,191.81 867.14,191.49 867.64,191.83 868.14,191.71 868.64,191.57 869.14,192.40 869.64,191.79 870.14,191.96 870.64,192.67 871.14,192.48 871.64,192.63 872.14,192.60 872.64,191.58 873.14,191.78 873.64,191.44 874.14,192.35 874.64,192.32 875.14,191.89 875.64,191.97 876.14,192.32 876.64,192.37 877.14,191.74 877.64,192.58 878.14,191.89 878.64,192.27 879.14,191.65 879.64,191.56 880.14,192.67 880.64,192.42 881.14,192.39 881.64,191.45 882.14,191.45 882.64,191.62 883.14,191.67 883.64,191.82 884.14,191.93 884.64,191.45 885.14,191.83 885.64,192.29 886.14,191.64 886.64,192.57 887.14,192.19 887.64,192.40 888.14,191.75 888.64,192.00 889.14,192.35 889.64,191.88 890.14,191.39 890.64,192.56 891.14,192.48 891.64,191.79 892.14,191.45 892.64,192.59 893.14,192.24 893.64,191.46 894.14,191.73 894.64,191.54 895.14,192.50 895.64,191.68 896.14,192.67 896.64,192.44 897.14,191.51 897.64,192.36 898.14,191.94 898.64,192.43 899.14,192.54 899.64,191.78 900.14,191.51 900.64,192.71 901.14,191.98 901.64,192.68 902.14,192.35 902.64,192.41 903.14,192.54 903.64,192.26 904.14,192.01 904.64,191.45 905.14,192.35 905.64,191.97 906.14,192.09 906.64,192.67 907.14,191.54 907.64,192.43 908.14,191.42 908.64,192.34 909.14,192.48 909.64,191.72 910.14,192.11 910.64,192.70 911.14,192.23 911.64,192.09 912.14,191.67 912.64,191.39 913.14,191.80 913.64,191.85 914.14,191.54 914.64,191.66 915.14,191.38 915.64,192.13 916.14,192.00 916.64,191.28 917.14,191.10 917.64,191.15 918.14,190.42 918.50,190.25 918.64,188.93 918.90,187.66 919.14,187.09 919.20,185.72 919.50,185.37 919.64,185.28 919.80,186.66 920.10,188.00 920.14,188.52 920.50,189.17 920.64,190.26 921.14,191.04 921.64,191.28 922.14,191.94 922.64,192.18 923.14,191.26 923.64,191.57 924.14,191.71 924.64,191.52 925.14,191.34 925.64,191.67 926.14,191.56 926.64,192.28 927.14,191.93 927.64,191.47 928.14,191.77 928.64,191.98 929.14,191.83 929.64,191.56 930.14,191.43 930.64,191.34 931.14,192.71 931.64,192.38 932.14,191.44 932.64,192.33 933.14,192.69 933.64,192.11 934.14,191.47 934.64,191.99 935.14,191.91 935.64,191.56 936.14,192.05 936.64,191.29 937.14,192.56 937.64,192.16 938.14,192.13 938.64,192.54 939.14,192.12 939.64,191.54 940.14,191.50 940.64,191.31 941.14,191.10 941.64,192.07 942.14,192.07 942.64,191.18 943.14,190.84 943.64,191.18 944.14,190.98 944.64,190.22 945.14,187.37 945.50,185.60 945.64,184.02 945.90,179.42 946.14,172.69 946.20,170.84 946.50,166.53 946.64,167.19 946.80,171.09 947.10,179.15 947.14,179.75 947.50,185.66 947.64,186.08 948.14,188.37 948.64,190.28 949.14,190.98 949.64,191.61 950.14,191.67 950.64,192.10 951.14,192.27 951.64,191.71 952.14,191.78 952.64,191.34 953.14,191.57 953.64,191.99 954.14,191.31 954.64,192.18 955.14,191.46 955.64,191.86 956.14,192.60 956.64,191.37 957.14,191.31 957.64,191.86 958.14,191.51 958.64,192.25 959.14,191.23 959.64,192.39 960.14,192.39 960.64,192.26 961.14,191.72 961.64,191.45 962.14,191.88 962.64,191.51 963.14,191.09 963.64,190.42 964.00,189.80 964.14,189.68 964.40,188.84 964.64,187.73 964.70,186.40 965.00,185.76 965.14,186.17 965.30,186.96 965.60,188.17 965.64,188.15 966.00,189.30 966.14,189.99 966.64,190.95 967.14,192.05 967.64,192.16 968.14,192.22 968.64,192.45 969.14,192.48 969.64,192.03 970.14,192.32 970.64,191.27 971.14,192.13 971.64,192.01 972.14,191.53 972.64,191.82 973.14,192.18 973.50,191.27 973.64,191.36 973.90,190.52 974.14,190.17 974.20,190.83 974.50,189.36 974.64,189.65 974.80,190.55 975.10,190.73 975.14,190.29 975.50,191.53 975.64,191.24 976.14,191.79 976.64,191.69 977.14,191.92 977.64,192.01 978.14,191.80 978.64,191.42 979.14,191.52 979.64,192.52 980.14,192.05 980.64,191.44 981.14,192.49 981.64,191.64 982.14,191.41 982.64,192.01 983.14,191.62 983.64,191.94 984.14,192.02 984.64,191.55 985.14,192.01 985.64,191.35 986.14,191.88 986.64,191.95 987.14,191.19 987.64,191.59 988.14,191.04 988.64,191.44 989.14,191.87 989.64,191.19 990.14,191.03 990.64,190.41 991.14,188.19 991.64,186.45 991.70,185.51 992.10,178.53 992.14,178.63 992.40,171.14 992.64,165.88 992.70,166.73 993.00,171.38 993.14,175.59 993.30,178.58 993.64,184.96 993.70,184.59 994.14,187.88 994.64,189.64 995.14,189.93 995.64,191.18 996.14,190.92 996.64,191.22 997.14,191.91 997.64,191.61 998.14,192.32 998.64,192.00 999.14,192.39 999.64,191.99 1000.14,192.51 1000.64,192.46 1001.14,191.50 1001.64,192.32 1002.14,191.77 1002.64,192.37 1003.14,192.26 1003.64,192.47 1004.14,191.49 1004.64,191.85 1005.14,192.36 1005.64,192.66 1006.14,192.35 1006.64,191.41 1007.14,192.19 1007.64,191.49 1008.14,192.12 1008.64,192.48 1009.14,191.52 1009.64,192.66 1010.14,192.31 1010.64,191.72 1011.14,191.64 1011.64,191.99 1012.14,192.54 1012.64,192.18 1013.14,191.53 1013.64,191.40 1014.14,191.53 1014.64,192.50 1015.14,191.64 1015.64,192.15 1016.14,191.78 1016.64,192.34 1017.14,191.91 1017.64,191.58 1018.14,192.61 1018.64,192.14 1019.14,192.35 1019.64,192.51 1020.14,192.71 1020.64,191.40 1021.14,191.86 1021.64,191.60 1022.14,192.09 1022.64,192.61 1023.14,192.51 1023.64,191.44 1024.14,191.64 1024.64,192.53 1025.14,192.34 1025.64,191.94 1026.14,192.05 1026.64,191.61 1027.14,192.57 1027.64,191.94 1028.14,192.61 1028.64,192.24 1029.14,191.50 1029.64,191.85 1030.14,191.69 1030.64,192.64 1031.14,192.22 1031.64,191.45 1032.14,191.63 1032.64,191.90 1033.14,192.05 1033.64,192.20 1034.14,191.93 1034.64,191.89 1035.14,191.40 1035.64,192.20 1036.14,191.86 1036.64,191.42 1037.14,192.04 1037.64,192.77 1038.14,191.46 1038.64,191.60 1039.14,192.33 1039.64,191.77 1040.14,191.78 1040.64,192.09 1041.14,191.76 1041.64,192.19 1042.14,192.13 1042.64,192.73 1043.14,192.78 1043.64,191.44 1044.14,192.18 1044.64,192.47 1045.14,192.61 1045.64,192.48 1046.14,192.28 1046.64,192.28 1047.14,191.90 1047.64,191.79 1048.14,192.51 1048.64,192.62 1049.14,192.71 1049.64,192.35 1050.14,191.82 1050.64,192.46 1051.14,192.43 1051.64,192.11 1052.14,192.28 1052.64,191.89 1053.14,192.17 1053.64,191.96 1054.14,191.48 1054.64,191.87 1055.14,191.85 1055.64,192.78 1056.14,192.07 1056.64,191.91 1057.14,191.74 1057.64,191.72 1058.14,191.88 1058.64,191.59 1059.14,191.41 1059.64,192.61 1060.14,192.03 1060.64,192.02 1061.14,192.19 1061.64,191.82 1062.14,191.63 1062.64,191.49 1063.14,191.82 1063.64,191.83 1064.14,192.41 1064.64,192.17 1065.14,192.71 1065.64,191.87 1066.14,192.69 1066.64,192.21 1067.14,191.51 1067.64,191.65 1068.14,192.21 1068.64,192.78 1069.14,191.90 1069.64,192.48 1070.14,192.00 1070.64,192.61 1071.14,191.49 1071.64,192.07 1072.14,192.65 1072.64,191.78 1073.14,191.76 1073.64,191.43 1074.14,191.63 1074.64,191.77 1075.14,192.38 1075.64,191.70 1076.14,191.96 1076.64,191.68 1077.14,192.24 1077.64,192.61 1078.14,192.30 1078.64,191.67 1079.14,192.42 1079.64,192.74 1080.14,192.24 1080.64,191.51 1081.14,192.53 1081.64,192.62 1082.14,191.87 1082.64,191.59 1083.14,191.66 1083.64,192.15 1084.14,192.62 1084.64,192.29 1085.14,192.69 1085.64,191.69 1086.14,191.85 1086.64,192.45 1087.14,192.30 1087.64,191.96 1088.14,192.35 1088.64,191.87 1089.14,191.48 1089.64,191.98 1090.14,191.46 1090.64,192.27 1091.14,191.86 1091.64,192.09 1092.14,192.23 1092.64,191.76 1093.14,192.04 1093.64,191.42 1094.14,192.69 1094.64,192.19 1095.14,192.78 1095.64,191.47 1096.14,192.26 1096.64,192.41 1097.14,191.86 1097.64,191.53 1098.14,191.61 1098.64,191.60 1099.14,192.47 1099.64,191.52 1100.14,192.54 1100.64,191.99 1101.14,192.15 1101.64,192.22 1102.14,192.17 1102.64,192.32 1103.14,192.24 1103.64,191.86 1104.14,192.43 1104.64,191.76 1105.14,192.39 1105.64,192.46 1106.14,192.48 1106.64,191.83 1107.14,192.48 1107.64,192.76 1108.14,192.03 1108.64,191.79 1109.14,192.13 1109.64,192.71 1110.14,191.58 1110.64,191.41 1111.14,192.06 1111.64,192.31 1112.14,192.48 1112.64,191.90 1113.14,192.78 1113.64,191.71 1114.14,192.45 1114.64,191.52 1115.14,191.43 1115.64,191.58 1116.14,191.48 1116.64,192.10 1117.14,192.17 1117.64,191.65 1118.14,192.71 1118.64,191.91 1119.14,191.60 1119.64,191.64 1120.14,192.43 1120.64,192.69 1121.14,191.62 1121.64,191.44 1122.14,192.48 1122.64,191.73 1123.14,192.77 1123.64,192.09 1124.14,192.29 1124.64,191.88 1125.14,192.52 1125.64,192.04 1126.14,191.85 1126.64,192.66 1127.14,191.55 1127.64,192.42 1128.14,191.49 1128.64,192.30 1129.14,191.96 1129.64,192.60 1130.14,191.48 1130.64,192.18 1131.14,191.97 1131.64,192.68 1132.14,192.72 1132.64,192.27 1133.14,191.71 1133.64,191.75 1134.14,191.76 1134.64,192.00 1135.14,191.72 1135.64,191.68 1136.14,192.46 1136.64,192.29 1137.14,191.81 1137.64,192.78 1138.14,191.70 1138.64,192.19 1139.14,191.61 1139.64,192.60 1140.14,192.61 1140.64,191.77 1141.14,192.44 1141.64,192.54 1142.14,191.79 1142.64,191.86 1143.14,192.07 1143.64,192.64 1144.14,191.62 1144.64,192.35 1145.14,192.23 1145.64,192.02 1146.14,192.20 1146.64,192.63 1147.14,191.68 1147.64,192.63 1148.14,191.89 1148.64,192.48 1149.14,192.60 1149.64,191.64 1150.14,192.60 1150.64,192.78 1151.14,191.80 1151.64,191.42 1152.14,191.54 1152.64,192.75 1153.14,191.40 1153.64,192.66 1154.14,191.59 1154.64,192.41 1155.14,191.52 1155.64,191.62 1156.14,192.34 1156.64,191.51 1157.14,191.86 1157.64,192.66 1158.14,192.38 1158.64,192.61 1159.14,192.75 1159.64,191.42 1160.14,191.70 1160.64,192.48 1161.14,192.34 1161.64,191.42 1162.14,192.07 1162.64,191.69 1163.14,191.96 1163.64,191.51 1164.14,191.38 1164.64,192.74 1165.14,191.79 1165.64,192.57 1166.14,191.50 1166.64,192.01 1167.14,191.51 1167.64,191.91 1168.14,191.55 1168.64,192.24 1169.14,191.46 1169.64,192.26 1170.14,191.89 1170.64,191.29 1171.14,191.55 1171.64,191.63 1172.14,192.03 1172.64,190.87 1173.14,189.98 1173.40,190.40 1173.64,189.41 1173.80,188.44 1174.10,186.16 1174.14,185.82 1174.40,185.25 1174.64,185.59 1174.70,185.84 1175.00,188.13 1175.14,188.66 1175.40,189.82 1175.64,190.15 1176.14,190.38 1176.64,191.69 1177.14,191.84 1177.64,191.81 1178.14,191.89 1178.64,192.15 1179.14,192.59 1179.64,192.47 1180.14,192.27 1180.64,191.84 1181.14,191.74 1181.64,191.89 1182.14,192.67 1182.64,191.86 1183.14,191.86 1183.64,191.89 1184.14,191.52 1184.64,192.72 1185.14,191.33 1185.64,192.18 1186.14,192.62 1186.64,191.68 1187.14,192.18 1187.64,191.85 1188.14,191.66 1188.64,191.60 1189.14,191.48 1189.64,192.49 1190.14,192.40 1190.64,192.57 1191.14,191.36 1191.64,192.26 1192.14,191.73 1192.64,192.17 1193.14,192.02 1193.64,191.68 1194.14,192.58 1194.64,191.20 1195.14,192.22 1195.64,192.34 1196.14,191.82 1196.64,191.89 1197.14,192.39 1197.64,191.24 1198.14,191.68 1198.64,191.68 1199.14,190.94 1199.64,191.06 1200.14,190.03 1200.64,189.17 1201.14,187.13 1201.50,184.04 1201.64,181.57 1201.90,176.61 1202.14,169.09 1202.20,166.65 1202.50,160.94 1202.64,162.09 1202.80,167.61 1203.10,176.39 1203.14,177.77 1203.50,183.82 1203.64,185.27 1204.14,188.00 1204.64,189.30 1205.14,191.14 1205.64,191.01 1206.14,191.28 1206.64,191.47 1207.14,191.99 1207.64,191.28 1208.14,191.26 1208.64,192.22 1209.14,191.75 1209.64,192.03 1210.14,192.32 1210.64,192.43 1211.14,192.41 1211.64,191.26 1212.14,191.74 1212.64,192.38 1213.14,192.36 1213.64,191.38 1214.14,191.41 1214.64,191.53 1215.14,191.30 1215.64,191.62 1216.14,192.19 1216.64,191.72 1217.14,191.50 1217.64,190.77 1218.14,190.80 1218.64,190.83 1218.80,189.98 1219.14,188.31 1219.20,188.06 1219.50,186.87 1219.64,186.20 1219.80,185.06 1220.10,186.71 1220.14,186.48 1220.40,188.12 1220.64,188.81 1220.80,189.54 1221.14,190.29 1221.64,190.97 1222.14,190.78 1222.64,191.22 1223.14,191.85 1223.64,191.21 1224.14,191.43 1224.64,192.22 1225.14,191.63 1225.64,191.72 1226.14,191.62 1226.64,192.47 1227.14,191.44 1227.64,192.21 1228.14,192.53 1228.64,191.62 1229.14,191.94 1229.64,192.46 1230.14,192.22 1230.64,191.88 1231.14,191.43 1231.64,192.00 1232.14,191.90 1232.64,192.39 1233.14,191.82 1233.64,191.99 1234.14,192.35 1234.64,192.61 1235.14,192.00 1235.64,192.10 1236.14,192.45 1236.64,193.05 1237.14,192.21 1237.64,193.59 1238.00,193.52 1238.14,193.17 1238.40,193.84 1238.64,193.57 1238.70,193.25 1239.00,194.30 1239.14,193.74 1239.30,193.86 1239.60,193.56 1239.64,194.09 1240.00,193.52 1240.14,192.36 1240.64,192.77 1241.14,192.32 1241.64,192.14 1242.14,192.52 1242.64,191.79 1243.14,191.74 1243.64,192.17 1244.14,191.34 1244.64,191.15 1245.14,190.78 1245.64,190.55 1246.14,189.13 1246.64,186.69 1246.90,183.72 1247.14,179.46 1247.30,176.74 1247.60,167.17 1247.64,166.13 1247.90,161.21 1248.14,164.64 1248.20,166.70 1248.50,175.88 1248.64,180.17 1248.90,183.28 1249.14,185.62 1249.64,189.15 1250.14,190.11 1250.64,190.06 1251.14,191.33 1251.64,191.62 1252.14,191.47 1252.64,190.99 1253.14,191.97 1253.64,191.65 1254.14,191.94 1254.64,192.56 1255.14,192.34 1255.64,192.44 1256.14,191.44 1256.64,191.72 1257.14,192.00 1257.64,191.29 1258.14,192.68 1258.64,191.69 1259.14,191.68 1259.64,191.76 1260.14,191.68 1260.64,192.53 1261.14,192.11 1261.64,192.06 1262.14,191.93 1262.64,191.42 1263.14,191.78 1263.64,192.57 1264.14,192.48 1264.64,192.56 1265.14,191.72 1265.64,191.65 1266.14,191.44 1266.64,192.12 1267.14,191.89 1267.64,192.02 1268.14,192.06 1268.64,192.19 1269.14,191.89 1269.64,192.50 1270.14,191.66 1270.64,192.66 1271.14,192.16 1271.64,191.45 1272.14,191.82 1272.64,192.13 1273.14,191.95 1273.64,192.17 1274.14,191.84 1274.64,191.77 1275.14,192.50 1275.64,191.79 1276.14,192.38 1276.64,192.51 1277.14,192.21 1277.64,192.02 1278.14,192.70 1278.64,192.01 1279.14,192.62 1279.64,191.47 1280.14,191.99 1280.64,192.28 1281.14,191.46 1281.64,192.60 1282.14,191.49 1282.64,192.22 1283.14,191.64 1283.64,192.68 1284.14,192.18 1284.64,192.51 1285.14,192.09 1285.64,192.33 1286.14,192.34 1286.64,191.80 1287.14,191.69 1287.64,192.57 1288.14,191.60 1288.64,192.68 1289.14,191.68 1289.64,191.53 1290.14,191.53 1290.64,192.49 1291.14,192.72 1291.64,191.97 1292.14,192.32 1292.64,191.75 1293.14,192.66 1293.64,192.35 1294.14,191.61 1294.64,191.47 1295.14,192.37 1295.64,191.45 1296.14,192.56 1296.64,191.80 1297.14,191.72 1297.64,192.21 1298.14,191.84 1298.64,192.18 1299.14,191.61 1299.64,192.67 1300.14,191.85 1300.64,192.57 1301.14,191.61 1301.64,192.51 1302.14,192.77 1302.64,191.94 1303.14,191.44 1303.64,191.93 1304.14,192.29 1304.64,191.71 1305.14,192.16 1305.64,191.53 1306.14,192.05 1306.64,192.42 1307.14,192.00 1307.64,192.35 1308.14,191.56 1308.64,192.56 1309.14,191.57 1309.64,192.69 1310.14,192.79 1310.64,192.71 1311.14,192.13 1311.64,191.80 1312.14,191.88 1312.64,192.45 1313.14,192.09 1313.64,192.70 1314.14,191.53 1314.64,192.07 1315.14,192.61 1315.64,192.23 1316.14,192.15 1316.64,191.52 1317.14,191.59 1317.64,191.78 1318.14,192.65 1318.64,192.58 1319.14,191.71 1319.64,192.69 1320.14,191.44 1320.64,192.24 1321.14,192.75 1321.64,191.88 1322.14,192.72 1322.64,192.32 1323.14,191.47 1323.64,191.86 1324.14,192.03 1324.64,191.74 1325.14,192.44 1325.64,191.65 1326.14,192.50 1326.64,191.81 1327.14,191.49 1327.64,192.18 1328.14,191.53 1328.64,192.17 1329.14,192.50 1329.64,192.23 1330.14,192.04 1330.64,191.44 1331.14,192.12 1331.64,191.53 1332.14,192.30 1332.64,191.58 1333.14,192.21 1333.64,191.89 1334.14,191.92 1334.64,192.33 1335.14,191.63 1335.64,191.64 1336.14,192.72" fill="none" stroke="#E8292B" stroke-width="2.9" stroke-linejoin="round" />
<polyline points="803.41,220.16 803.91,220.88 804.41,220.92 804.91,220.37 805.41,219.91 805.91,219.83 806.41,220.93 806.91,219.86 807.41,220.39 807.91,220.45 808.41,219.86 808.91,220.35 809.41,219.93 809.91,220.45 810.41,220.41 810.91,220.21 811.41,219.97 811.91,220.26 812.41,219.98 812.91,219.88 813.41,220.03 813.91,220.92 814.41,220.40 814.91,220.94 815.41,219.72 815.91,221.02 816.41,220.38 816.91,220.81 817.41,220.50 817.91,220.66 818.41,220.02 818.91,220.75 819.41,219.91 819.91,220.07 820.41,219.74 820.91,220.25 821.41,220.42 821.91,220.11 822.41,220.94 822.91,219.82 823.41,220.51 823.91,220.02 824.41,220.53 824.91,220.79 825.41,220.69 825.91,219.78 826.41,220.04 826.91,220.54 827.41,221.07 827.91,219.75 828.41,220.56 828.91,220.67 829.41,220.84 829.91,220.18 830.41,220.83 830.91,220.34 831.41,220.99 831.91,219.71 832.41,221.01 832.91,220.27 833.41,220.27 833.91,219.82 834.41,220.04 834.91,220.72 835.41,220.65 835.91,219.91 836.41,220.18 836.91,219.89 837.41,219.97 837.91,220.00 838.41,220.16 838.91,221.06 839.41,221.09 839.91,220.80 840.41,220.37 840.91,220.39 841.41,220.79 841.91,220.97 842.41,220.75 842.91,220.59 843.41,219.97 843.91,220.57 844.41,220.88 844.91,220.80 845.41,219.82 845.91,220.70 846.41,220.18 846.91,219.92 847.41,221.05 847.91,220.64 848.41,220.74 848.91,219.88 849.41,220.85 849.91,221.01 850.41,220.96 850.91,220.74 851.41,220.86 851.91,220.82 852.41,220.52 852.91,220.30 853.41,220.85 853.91,220.79 854.41,220.91 854.91,220.11 855.41,221.04 855.91,220.44 856.41,221.02 856.91,219.86 857.41,221.05 857.91,220.80 858.41,220.05 858.91,220.87 859.41,220.02 859.91,219.97 860.41,220.33 860.91,220.02 861.41,220.38 861.91,220.96 862.41,220.65 862.91,220.69 863.41,220.24 863.91,220.79 864.41,220.80 864.91,220.65 865.41,221.01 865.91,220.85 866.41,220.26 866.91,219.81 867.41,220.60 867.91,220.86 868.41,220.17 868.91,220.52 869.41,220.86 869.91,220.80 870.41,219.70 870.91,220.37 871.41,219.71 871.91,219.84 872.41,220.83 872.91,220.27 873.41,220.53 873.91,220.33 874.41,220.16 874.91,219.99 875.41,220.18 875.91,220.87 876.41,220.55 876.91,220.09 877.41,219.81 877.91,220.06 878.41,220.67 878.91,220.30 879.41,220.61 879.91,220.81 880.41,219.85 880.91,220.64 881.41,219.74 881.91,220.83 882.41,219.94 882.91,220.06 883.41,221.02 883.91,220.18 884.41,219.99 884.91,220.92 885.41,220.53 885.91,220.92 886.41,220.22 886.91,220.37 887.41,221.01 887.91,220.38 888.41,221.05 888.91,219.93 889.41,220.83 889.91,219.89 890.41,220.40 890.91,219.66 891.41,219.90 891.91,220.97 892.41,220.28 892.91,220.77 893.41,219.98 893.91,220.12 894.41,219.76 894.91,220.38 895.41,220.81 895.91,220.30 896.41,220.09 896.91,220.84 897.41,220.76 897.91,220.40 898.41,219.52 898.91,220.19 899.41,219.79 899.91,220.26 900.41,218.94 900.80,218.63 900.91,218.28 901.20,216.88 901.41,216.11 901.50,215.94 901.80,215.51 901.91,215.06 902.10,215.49 902.40,217.71 902.41,216.48 902.80,218.86 902.91,218.90 903.41,219.44 903.91,219.64 904.41,220.24 904.91,220.54 905.41,220.37 905.91,220.43 906.41,219.43 906.91,219.82 907.41,219.51 907.91,220.57 908.41,220.34 908.91,219.02 909.41,219.06 909.60,218.69 909.91,217.07 910.00,217.24 910.30,216.53 910.41,216.00 910.60,215.22 910.90,216.56 910.91,215.95 911.20,217.46 911.41,218.02 911.60,219.27 911.91,219.36 912.41,220.06 912.91,220.13 913.41,219.86 913.91,220.76 914.41,220.47 914.91,220.49 915.41,219.95 915.91,219.82 916.41,220.43 916.91,220.82 917.41,220.83 917.91,220.27 918.41,220.09 918.91,220.77 919.41,221.52 919.91,220.90 920.20,222.01 920.41,221.48 920.60,221.90 920.90,221.84 920.91,222.19 921.20,222.41 921.41,223.14 921.50,223.06 921.80,221.62 921.91,221.63 922.20,222.11 922.41,220.79 922.91,220.44 923.41,220.21 923.91,219.43 924.41,219.34 924.91,219.20 925.41,218.79 925.91,219.05 926.41,217.28 926.91,215.92 927.41,214.66 927.91,209.48 928.40,199.44 928.41,198.68 928.80,176.80 928.91,164.93 929.10,140.93 929.40,113.32 929.41,113.00 929.70,141.49 929.91,168.42 930.00,176.74 930.40,198.63 930.41,199.23 930.91,210.45 931.41,214.24 931.91,216.05 932.41,217.73 932.91,217.96 933.41,219.16 933.91,218.48 934.41,219.82 934.91,219.64 935.41,219.48 935.91,220.41 936.41,219.55 936.91,219.59 937.41,219.40 937.91,220.12 938.41,220.44 938.91,220.37 939.41,220.03 939.91,220.61 940.41,219.65 940.91,219.95 941.41,220.44 941.91,220.90 942.41,220.45 942.91,220.55 943.41,220.67 943.91,220.15 944.41,220.93 944.91,220.66 945.41,220.11 945.91,220.19 946.41,220.78 946.91,220.15 947.41,219.93 947.91,220.90 948.41,220.44 948.91,220.44 949.41,220.66 949.91,221.01 950.41,219.96 950.91,220.27 951.41,219.93 951.91,220.47 952.41,220.66 952.91,221.25 953.41,221.15 953.91,221.25 954.41,221.38 954.80,222.01 954.91,221.73 955.20,222.88 955.41,223.04 955.50,223.19 955.80,222.35 955.91,223.06 956.10,223.07 956.40,222.40 956.41,222.94 956.80,222.47 956.91,222.12 957.41,221.77 957.91,221.23 958.41,221.36 958.91,220.19 959.41,220.90 959.91,220.83 960.41,220.65 960.91,220.14 961.41,219.81 961.91,220.52 962.41,220.79 962.91,219.96 963.41,219.79 963.91,219.66 964.41,219.19 964.50,219.93 964.90,219.84 964.91,219.57 965.20,218.47 965.41,218.69 965.50,217.78 965.80,219.13 965.91,218.60 966.10,218.46 966.41,219.74 966.50,219.14 966.91,219.61 967.41,219.47 967.91,220.09 968.41,220.28 968.91,220.65 969.41,219.58 969.91,220.67 970.41,219.65 970.91,219.77 971.41,220.29 971.91,219.80 972.41,219.66 972.91,219.77 973.41,218.88 973.91,218.88 974.10,217.57 974.41,217.21 974.50,216.73 974.80,214.66 974.91,213.42 975.10,214.08 975.40,213.95 975.41,214.69 975.70,216.20 975.91,216.70 976.10,218.16 976.41,219.06 976.91,219.53 977.41,219.61 977.91,219.96 978.41,220.19 978.91,219.76 979.41,220.71 979.91,220.93 980.41,220.69 980.91,220.93 981.41,220.06 981.91,220.99 982.41,219.72 982.91,220.30 983.41,219.83 983.91,220.28 984.41,220.61 984.91,220.65 985.41,220.30 985.91,220.14 986.41,219.93 986.91,220.23 987.41,220.07 987.91,219.94 988.41,220.70 988.91,220.40 989.41,220.29 989.91,219.95 990.41,220.66 990.91,219.96 991.41,220.05 991.91,220.47 992.41,220.66 992.91,221.05 993.41,220.73 993.91,221.01 994.41,220.97 994.91,220.70 995.41,220.69 995.91,219.77 996.41,219.98 996.91,219.71 997.41,220.90 997.91,220.70 998.41,220.57 998.91,220.06 999.41,220.19 999.91,219.92 1000.41,220.58 1000.91,221.08 1001.41,220.12 1001.91,219.75 1002.41,219.94 1002.91,220.19 1003.41,220.95 1003.91,220.82 1004.41,220.33 1004.91,219.84 1005.41,219.84 1005.91,219.91 1006.41,220.78 1006.91,220.35 1007.41,221.08 1007.91,220.97 1008.41,220.81 1008.91,220.36 1009.41,220.84 1009.91,219.87 1010.41,219.85 1010.91,220.48 1011.41,220.41 1011.91,219.99 1012.41,220.05 1012.91,219.72 1013.41,220.97 1013.91,220.69 1014.41,221.02 1014.91,221.07 1015.41,220.31 1015.91,220.72 1016.41,220.23 1016.91,220.83 1017.41,220.87 1017.91,219.88 1018.41,219.71 1018.91,220.00 1019.41,220.52 1019.91,220.23 1020.41,219.71 1020.91,220.86 1021.41,220.80 1021.91,220.35 1022.41,219.76 1022.91,220.94 1023.41,220.44 1023.91,219.80 1024.41,220.15 1024.91,220.57 1025.41,220.94 1025.91,220.37 1026.41,220.59 1026.91,219.98 1027.41,220.04 1027.91,220.96 1028.41,220.23 1028.91,219.84 1029.41,220.52 1029.91,219.87 1030.41,219.98 1030.91,220.34 1031.41,220.52 1031.91,220.59 1032.41,220.69 1032.91,220.31 1033.41,219.79 1033.91,220.71 1034.41,219.77 1034.91,220.36 1035.41,220.26 1035.91,220.64 1036.41,220.70 1036.91,220.03 1037.41,220.61 1037.91,220.67 1038.41,220.36 1038.91,219.90 1039.41,220.97 1039.91,220.54 1040.41,219.79 1040.91,220.03 1041.41,221.08 1041.91,220.02 1042.41,220.25 1042.91,220.80 1043.41,220.85 1043.91,220.59 1044.41,220.74 1044.91,219.75 1045.41,219.83 1045.91,221.06 1046.41,220.82 1046.91,219.75 1047.41,219.77 1047.91,220.03 1048.41,221.00 1048.91,220.01 1049.41,220.64 1049.91,221.00 1050.41,220.59 1050.91,220.99 1051.41,220.07 1051.91,219.91 1052.41,219.72 1052.91,220.76 1053.41,219.84 1053.91,221.06 1054.41,220.69 1054.91,219.96 1055.41,220.83 1055.91,219.93 1056.41,220.42 1056.91,219.85 1057.41,220.80 1057.91,220.94 1058.41,220.98 1058.91,219.70 1059.41,220.89 1059.91,220.48 1060.41,220.85 1060.91,220.40 1061.41,220.57 1061.91,220.53 1062.41,220.82 1062.91,219.81 1063.41,219.77 1063.91,220.46 1064.41,220.11 1064.91,220.25 1065.41,219.71 1065.91,220.74 1066.41,219.73 1066.91,220.86 1067.41,220.84 1067.91,220.34 1068.41,219.87 1068.91,220.61 1069.41,219.99 1069.91,220.30 1070.41,219.85 1070.91,221.07 1071.41,220.46 1071.91,220.19 1072.41,219.83 1072.91,220.72 1073.41,220.89 1073.91,220.89 1074.41,219.84 1074.91,220.21 1075.41,220.12 1075.91,220.77 1076.41,219.91 1076.91,220.55 1077.41,221.07 1077.91,220.78 1078.41,219.71 1078.91,219.80 1079.41,219.86 1079.91,220.67 1080.41,220.54 1080.91,220.43 1081.41,220.34 1081.91,220.27 1082.41,220.56 1082.91,220.61 1083.41,220.98 1083.91,220.73 1084.41,220.81 1084.91,220.98 1085.41,220.87 1085.91,220.70 1086.41,219.74 1086.91,220.65 1087.41,220.89 1087.91,220.30 1088.41,220.93 1088.91,219.95 1089.41,221.02 1089.91,220.32 1090.41,220.69 1090.91,220.05 1091.41,220.12 1091.91,220.19 1092.41,220.15 1092.91,219.83 1093.41,220.32 1093.91,221.07 1094.41,220.62 1094.91,221.01 1095.41,220.77 1095.91,220.87 1096.41,221.09 1096.91,220.75 1097.41,220.08 1097.91,220.05 1098.41,220.28 1098.91,219.73 1099.41,220.02 1099.91,220.94 1100.41,220.99 1100.91,220.16 1101.41,220.78 1101.91,220.79 1102.41,220.95 1102.91,220.81 1103.41,220.45 1103.91,219.85 1104.41,220.86 1104.91,220.14 1105.41,220.58 1105.91,220.21 1106.41,220.45 1106.91,221.05 1107.41,219.93 1107.91,220.44 1108.41,220.61 1108.91,220.45 1109.41,221.01 1109.91,220.27 1110.41,220.98 1110.91,220.67 1111.41,221.06 1111.91,219.83 1112.41,220.00 1112.91,220.10 1113.41,220.97 1113.91,219.72 1114.41,220.07 1114.91,220.70 1115.41,221.09 1115.91,219.95 1116.41,220.31 1116.91,220.66 1117.41,220.67 1117.91,220.75 1118.41,220.76 1118.91,220.05 1119.41,220.06 1119.91,219.74 1120.41,220.67 1120.91,219.99 1121.41,220.06 1121.91,221.05 1122.41,220.60 1122.91,220.53 1123.41,220.62 1123.91,220.54 1124.41,220.67 1124.91,220.13 1125.41,219.79 1125.91,219.80 1126.41,219.72 1126.91,220.21 1127.41,219.90 1127.91,219.86 1128.41,220.39 1128.91,221.06 1129.41,220.66 1129.91,220.08 1130.41,220.78 1130.91,219.95 1131.41,219.84 1131.91,220.13 1132.41,220.27 1132.91,220.67 1133.41,220.32 1133.91,220.72 1134.41,219.83 1134.91,221.01 1135.41,220.18 1135.91,220.87 1136.41,219.74 1136.91,220.86 1137.41,220.02 1137.91,220.90 1138.41,220.82 1138.91,220.64 1139.41,220.09 1139.91,219.71 1140.41,219.97 1140.91,220.97 1141.41,219.92 1141.91,220.62 1142.41,220.52 1142.91,220.62 1143.41,219.95 1143.91,219.90 1144.41,219.83 1144.91,221.07 1145.41,220.23 1145.91,220.60 1146.41,220.49 1146.91,220.00 1147.41,219.78 1147.91,219.70 1148.41,220.87 1148.91,219.86 1149.41,221.02 1149.91,220.17 1150.41,220.67 1150.91,219.84 1151.41,220.73 1151.91,219.97 1152.41,220.10 1152.91,220.29 1153.41,219.66 1153.91,219.78 1154.41,220.43 1154.91,219.52 1155.41,219.29 1155.91,219.07 1156.00,218.11 1156.40,216.72 1156.41,216.70 1156.70,215.63 1156.91,214.93 1157.00,215.25 1157.30,215.76 1157.41,216.83 1157.60,216.53 1157.91,218.51 1158.00,218.98 1158.41,218.90 1158.91,219.08 1159.41,219.90 1159.91,219.59 1160.41,220.16 1160.91,220.57 1161.41,219.73 1161.91,219.78 1162.41,220.27 1162.91,219.78 1163.41,219.71 1163.91,219.66 1164.30,218.62 1164.41,218.29 1164.70,217.80 1164.91,217.10 1165.00,217.43 1165.30,216.38 1165.41,215.94 1165.60,216.97 1165.90,219.46 1165.91,219.29 1166.30,221.71 1166.41,222.35 1166.50,222.57 1166.90,223.05 1166.91,224.27 1167.20,224.51 1167.41,224.47 1167.50,224.44 1167.80,225.29 1167.91,224.21 1168.10,223.66 1168.41,223.22 1168.50,223.95 1168.91,222.53 1169.41,222.27 1169.91,220.96 1170.41,221.26 1170.91,220.94 1171.41,220.72 1171.91,221.36 1172.41,221.00 1172.91,220.78 1173.41,222.22 1173.91,221.88 1174.41,222.06 1174.80,222.50 1174.91,223.63 1175.20,224.04 1175.41,223.75 1175.50,224.50 1175.80,225.09 1175.91,224.77 1176.10,224.15 1176.40,223.98 1176.41,224.10 1176.80,223.34 1176.91,222.40 1177.41,222.53 1177.91,222.20 1178.41,221.57 1178.91,221.51 1179.41,220.66 1179.91,221.28 1180.41,220.17 1180.91,220.14 1181.41,220.57 1181.91,220.89 1182.41,219.59 1182.91,219.55 1183.41,218.87 1183.80,218.82 1183.91,218.14 1184.20,217.34 1184.41,217.30 1184.50,216.74 1184.80,216.61 1184.91,215.96 1185.10,216.86 1185.40,217.06 1185.41,218.42 1185.80,218.49 1185.91,219.04 1186.41,219.69 1186.91,220.59 1187.41,220.10 1187.91,220.89 1188.41,220.43 1188.91,219.90 1189.41,220.79 1189.91,219.92 1190.41,221.05 1190.91,220.30 1191.41,219.98 1191.91,221.02 1192.41,220.12 1192.91,220.24 1193.41,220.15 1193.91,220.61 1194.41,219.70 1194.91,220.19 1195.41,219.89 1195.91,220.82 1196.41,219.65 1196.91,220.49 1197.41,219.99 1197.91,220.24 1198.41,220.37 1198.91,220.55 1199.41,219.70 1199.91,219.77 1200.41,219.48 1200.91,220.44 1201.41,218.90 1201.80,218.29 1201.91,218.57 1202.20,217.79 1202.41,217.40 1202.50,215.92 1202.80,215.54 1202.91,215.55 1203.10,216.66 1203.40,217.61 1203.41,217.59 1203.80,219.34 1203.91,219.24 1204.41,220.12 1204.91,220.55 1205.41,219.75 1205.91,220.79 1206.41,220.10 1206.91,219.65 1207.41,220.89 1207.91,219.77 1208.41,219.67 1208.91,220.06 1209.41,220.07 1209.91,221.03 1210.41,220.90 1210.91,220.28 1211.41,220.43 1211.91,220.89 1212.41,220.83 1212.91,220.62 1213.41,220.43 1213.91,219.88 1214.41,220.06 1214.91,220.64 1215.41,220.55 1215.91,220.85 1216.41,220.99 1216.91,221.08 1217.41,220.01 1217.91,219.85 1218.41,221.01 1218.91,220.56 1219.41,220.02 1219.91,220.74 1220.41,220.14 1220.91,220.12 1221.41,220.32 1221.91,220.55 1222.41,220.78 1222.91,219.96 1223.41,220.91 1223.91,220.78 1224.41,220.60 1224.91,220.93 1225.41,221.17 1225.91,220.15 1226.41,220.92 1226.91,221.37 1227.41,221.66 1227.91,221.95 1228.41,221.88 1228.91,223.87 1229.00,223.81 1229.40,223.98 1229.41,224.29 1229.70,225.60 1229.91,224.77 1230.00,225.07 1230.30,225.60 1230.41,225.32 1230.60,223.98 1230.91,223.94 1231.00,223.22 1231.41,222.83 1231.91,222.29 1232.41,220.96 1232.91,220.81 1233.41,220.61 1233.91,220.55 1234.41,220.13 1234.91,220.20 1235.41,220.53 1235.91,220.51 1236.41,220.00 1236.91,220.68 1237.41,221.16 1237.91,220.63 1238.41,220.31 1238.91,220.79 1239.41,220.40 1239.91,220.03 1240.41,220.45 1240.91,219.79 1241.41,220.71 1241.91,219.98 1242.41,220.27 1242.91,221.10 1243.41,220.82 1243.91,220.91 1244.41,220.64 1244.91,220.62 1245.41,220.72 1245.91,221.08 1246.41,220.00 1246.91,220.80 1247.41,220.15 1247.91,220.08 1248.41,220.87 1248.91,220.56 1249.41,220.91 1249.91,220.95 1250.41,220.54 1250.91,220.00 1251.41,219.74 1251.91,220.47 1252.41,220.73 1252.91,220.10 1253.41,219.81 1253.91,219.72 1254.41,219.96 1254.91,220.69 1255.41,219.72 1255.91,220.03 1256.41,220.08 1256.91,220.71 1257.41,221.09 1257.91,219.74 1258.41,219.87 1258.91,221.02 1259.41,221.07 1259.91,219.92 1260.41,220.18 1260.91,220.44 1261.41,220.16 1261.91,220.29 1262.41,220.38 1262.91,220.07 1263.41,219.78 1263.91,219.82 1264.41,219.93 1264.91,219.83 1265.41,220.58 1265.91,220.68 1266.41,220.07 1266.91,220.81 1267.41,220.73 1267.91,220.18 1268.41,220.39 1268.91,219.97 1269.41,221.01 1269.91,220.49 1270.41,219.78 1270.91,219.92 1271.41,220.67 1271.91,220.24 1272.41,220.71 1272.91,220.03 1273.41,220.82 1273.91,220.83 1274.41,219.84 1274.91,220.52 1275.41,219.97 1275.91,220.69 1276.41,220.83 1276.91,220.81 1277.41,220.03 1277.91,219.83 1278.41,220.63 1278.91,220.49 1279.41,219.90 1279.91,219.97 1280.41,220.52 1280.91,219.85 1281.41,220.59 1281.91,220.04 1282.41,220.06 1282.91,220.30 1283.41,220.45 1283.91,220.72 1284.41,219.75 1284.91,220.72 1285.41,220.01 1285.91,220.11 1286.41,220.60 1286.91,220.67 1287.41,220.56 1287.91,220.96 1288.41,219.99 1288.91,220.14 1289.41,220.63 1289.91,220.07 1290.41,219.92 1290.91,220.02 1291.41,220.78 1291.91,220.86 1292.41,220.70 1292.91,221.04 1293.41,220.81 1293.91,220.14 1294.41,220.14 1294.91,220.71 1295.41,219.78 1295.91,220.55 1296.41,219.83 1296.91,219.77 1297.41,220.42 1297.91,219.91 1298.41,221.01 1298.91,220.93 1299.41,220.35 1299.91,219.98 1300.41,219.87 1300.91,220.41 1301.41,220.43 1301.91,220.21 1302.41,220.70 1302.91,220.44 1303.41,220.79 1303.91,219.85 1304.41,219.80 1304.91,220.24 1305.41,220.38 1305.91,220.06 1306.41,220.64 1306.91,220.01 1307.41,220.15 1307.91,220.37 1308.41,220.70 1308.91,220.78 1309.41,220.22 1309.91,220.33 1310.41,221.00 1310.91,221.01 1311.41,220.57 1311.91,219.85 1312.41,220.34 1312.91,220.59 1313.41,220.09 1313.91,219.75 1314.41,221.07 1314.91,220.97 1315.41,219.88 1315.91,220.35 1316.41,220.57 1316.91,220.12 1317.41,219.80 1317.91,220.75 1318.41,220.78 1318.91,220.31 1319.41,219.82 1319.91,220.25" fill="none" stroke="#2C55A8" stroke-width="2.9" stroke-linejoin="round" />
<polyline points="787.64,247.33 788.15,248.55 788.65,247.27 789.15,247.60 789.65,248.27 790.15,247.39 790.65,247.35 791.15,247.30 791.65,247.43 792.15,247.94 792.65,248.36 793.15,247.43 793.65,247.44 794.15,248.27 794.65,247.79 795.15,247.67 795.65,247.37 796.15,247.54 796.65,248.56 797.15,247.36 797.65,247.56 798.15,248.23 798.66,248.45 799.16,248.46 799.66,247.86 800.16,248.54 800.66,248.04 801.16,247.60 801.66,247.85 802.16,248.20 802.66,248.22 803.16,247.38 803.66,247.47 804.16,248.54 804.66,247.35 805.16,248.34 805.66,247.67 806.16,247.54 806.66,247.55 807.16,247.85 807.66,248.58 808.16,247.40 808.66,248.39 809.17,247.65 809.67,247.44 810.17,248.24 810.67,247.67 811.17,247.46 811.67,247.78 812.17,248.35 812.67,248.40 813.17,248.00 813.67,247.21 814.17,248.26 814.67,248.05 815.17,248.46 815.67,248.53 816.17,247.65 816.67,248.38 817.17,248.34 817.67,247.57 818.17,247.71 818.67,247.72 819.18,247.69 819.68,247.73 820.18,247.35 820.68,247.51 821.18,248.47 821.68,247.77 822.18,248.09 822.68,248.44 823.18,248.25 823.68,247.54 824.18,248.48 824.68,248.32 825.18,248.58 825.68,248.21 826.18,248.25 826.68,248.33 827.18,247.55 827.68,248.11 828.18,247.73 828.68,248.37 829.18,247.38 829.69,247.95 830.19,247.67 830.69,248.34 831.19,247.68 831.69,248.38 832.19,248.38 832.69,248.42 833.19,247.39 833.69,248.51 834.19,248.24 834.69,248.14 835.19,248.11 835.69,247.26 836.19,248.41 836.69,247.96 837.19,247.83 837.69,247.67 838.19,248.29 838.69,248.29 839.20,248.41 839.70,247.49 840.20,247.67 840.70,247.54 841.20,247.33 841.70,247.65 842.20,247.23 842.70,248.31 843.20,247.51 843.70,247.29 844.20,247.29 844.70,248.23 845.20,247.47 845.70,247.84 846.20,247.75 846.70,248.31 847.20,248.53 847.70,247.62 848.20,248.08 848.70,248.44 849.21,247.85 849.71,248.45 850.21,248.22 850.71,247.62 851.21,248.41 851.71,247.99 852.21,247.34 852.71,248.01 853.21,248.35 853.71,247.91 854.21,247.86 854.71,247.77 855.21,248.42 855.71,248.12 856.21,247.48 856.71,247.69 857.21,247.69 857.71,248.53 858.21,248.16 858.71,247.36 859.21,248.46 859.72,247.23 860.22,248.01 860.72,247.79 861.22,248.19 861.72,247.78 862.22,247.31 862.72,247.91 863.22,248.33 863.72,248.28 864.22,247.68 864.72,247.49 865.22,248.22 865.72,248.30 866.22,247.48 866.72,248.41 867.22,248.56 867.72,247.78 868.22,247.70 868.72,248.16 869.22,248.47 869.72,247.45 870.23,247.59 870.73,247.62 871.23,248.19 871.73,247.42 872.23,247.92 872.73,247.86 873.23,248.09 873.73,247.35 874.23,248.49 874.73,248.54 875.23,247.93 875.73,248.25 876.23,247.39 876.73,248.40 877.23,247.89 877.73,248.17 878.23,248.32 878.73,247.60 879.23,248.37 879.73,247.35 880.24,247.08 880.74,247.73 881.24,248.25 881.74,248.21 882.24,248.24 882.74,247.54 883.24,248.02 883.74,247.33 884.24,246.48 884.74,246.67 885.24,245.95 885.50,244.54 885.74,243.61 885.90,242.09 886.20,239.86 886.24,239.79 886.50,238.97 886.74,239.74 886.80,239.60 887.10,241.73 887.24,243.12 887.50,244.94 887.74,245.81 888.24,246.08 888.74,246.59 889.24,247.23 889.74,246.91 890.24,247.61 890.75,248.10 891.25,247.15 891.75,247.71 892.25,247.91 892.75,247.94 893.25,247.86 893.75,247.80 894.25,247.07 894.75,247.64 895.20,247.35 895.25,246.06 895.60,246.68 895.75,245.63 895.90,244.77 896.20,244.36 896.25,245.39 896.50,245.60 896.75,245.45 896.80,246.00 897.20,246.95 897.25,247.52 897.75,247.00 898.25,247.80 898.75,247.18 899.25,247.17 899.75,247.15 900.25,247.52 900.75,247.82 901.25,247.38 901.75,247.18 902.26,247.26 902.76,247.06 903.26,247.20 903.76,247.36 904.26,247.60 904.76,247.12 905.26,247.51 905.76,247.41 906.26,248.11 906.76,247.37 907.26,247.95 907.76,247.19 908.26,246.70 908.76,247.10 909.26,246.28 909.76,246.05 910.26,245.55 910.76,245.88 911.26,245.40 911.76,243.19 912.27,240.49 912.77,234.97 913.10,226.88 913.27,220.61 913.50,205.11 913.77,175.36 913.80,171.93 914.10,143.99 914.27,153.75 914.40,171.91 914.70,205.59 914.77,210.34 915.10,227.27 915.27,232.39 915.77,239.19 916.27,242.55 916.77,244.08 917.27,245.44 917.77,246.23 918.27,246.75 918.77,247.34 919.27,246.43 919.77,246.90 920.27,247.71 920.77,247.72 921.27,247.52 921.77,247.70 922.27,247.28 922.78,248.17 923.28,247.66 923.78,247.48 924.28,247.20 924.78,247.13 925.28,248.24 925.78,248.13 926.28,247.06 926.78,247.49 927.28,247.72 927.78,247.75 928.28,247.58 928.78,248.33 929.28,247.57 929.78,247.84 930.28,248.40 930.78,248.00 931.28,247.78 931.78,247.58 932.28,247.66 932.79,247.97 933.29,248.23 933.79,247.49 934.29,247.65 934.79,247.68 935.29,247.65 935.79,248.42 936.29,247.90 936.79,247.53 937.29,247.61 937.79,248.30 938.29,247.38 938.79,248.12 939.29,247.19 939.79,247.43 940.29,247.24 940.79,248.29 941.29,247.37 941.79,247.48 942.29,247.25 942.79,247.54 943.30,248.19 943.80,248.18 944.30,248.44 944.80,248.50 945.30,247.94 945.80,248.46 946.30,247.30 946.80,248.47 947.30,247.78 947.80,247.45 948.30,248.22 948.80,248.38 949.30,247.72 949.80,247.31 950.30,248.40 950.80,248.23 951.30,248.02 951.80,248.55 952.30,247.23 952.80,247.26 953.30,247.36 953.81,247.21 954.31,248.17 954.81,248.06 955.31,247.34 955.81,247.41 956.31,247.44 956.81,248.04 957.31,248.13 957.81,248.54 958.31,247.69 958.81,248.56 959.31,247.79 959.81,247.73 960.31,247.54 960.81,247.51 961.31,248.55 961.81,248.58 962.31,248.18 962.82,247.43 963.32,247.44 963.82,247.40 964.32,247.68 964.82,248.22 965.32,247.27 965.82,247.93 966.32,248.14 966.82,247.24 967.32,247.81 967.82,248.30 968.32,248.00 968.82,247.82 969.32,248.42 969.82,248.03 970.32,247.66 970.82,247.75 971.32,248.51 971.82,248.39 972.32,248.47 972.82,247.98 973.33,247.39 973.83,247.44 974.33,247.73 974.83,248.16 975.33,247.20 975.83,248.32 976.33,248.29 976.83,247.91 977.33,247.20 977.83,248.31 978.33,247.77 978.83,248.13 979.33,247.99 979.83,248.21 980.33,247.77 980.83,248.54 981.33,248.53 981.83,248.49 982.33,248.05 982.83,247.64 983.33,247.72 983.84,247.57 984.34,248.46 984.84,248.30 985.34,248.30 985.84,248.34 986.34,248.58 986.84,248.16 987.34,247.64 987.84,248.26 988.34,247.56 988.84,248.05 989.34,247.42 989.84,248.40 990.34,247.88 990.84,247.58 991.34,248.49 991.84,247.31 992.34,248.50 992.84,248.25 993.34,247.40 993.85,248.26 994.35,248.00 994.85,248.47 995.35,248.02 995.85,247.79 996.35,248.50 996.85,247.32 997.35,248.28 997.85,247.34 998.35,247.58 998.85,247.35 999.35,248.42 999.85,247.81 1000.35,248.21 1000.85,247.56 1001.35,248.22 1001.85,248.10 1002.35,247.33 1002.85,247.89 1003.35,248.21 1003.85,247.50 1004.36,248.11 1004.86,247.59 1005.36,247.72 1005.86,248.48 1006.36,248.52 1006.86,248.59 1007.36,247.79 1007.86,248.00 1008.36,248.33 1008.86,248.26 1009.36,247.84 1009.86,248.41 1010.36,247.76 1010.86,248.53 1011.36,247.86 1011.86,247.36 1012.36,248.25 1012.86,247.40 1013.36,248.15 1013.86,247.27 1014.36,248.58 1014.87,247.95 1015.37,248.23 1015.87,247.38 1016.37,248.09 1016.87,247.72 1017.37,247.55 1017.87,248.34 1018.37,247.24 1018.87,247.87 1019.37,247.32 1019.87,248.39 1020.37,248.45 1020.87,247.25 1021.37,247.85 1021.87,247.85 1022.37,248.20 1022.87,248.22 1023.37,247.68 1023.87,248.50 1024.37,247.46 1024.88,247.39 1025.38,248.34 1025.88,247.37 1026.38,247.46 1026.88,247.90 1027.38,247.67 1027.88,247.43 1028.38,248.50 1028.88,247.86 1029.38,248.30 1029.88,247.55 1030.38,248.48 1030.88,247.51 1031.38,248.47 1031.88,248.06 1032.38,248.56 1032.88,248.28 1033.38,248.08 1033.88,247.94 1034.38,248.39 1034.88,247.82 1035.38,247.34 1035.88,248.48 1036.39,248.33 1036.89,248.15 1037.39,248.24 1037.89,247.52 1038.39,247.85 1038.89,248.35 1039.39,248.54 1039.89,248.49 1040.39,247.42 1040.89,248.16 1041.39,247.97 1041.89,247.77 1042.39,247.43 1042.89,247.39 1043.39,247.86 1043.89,247.89 1044.39,247.57 1044.89,247.71 1045.39,247.97 1045.89,248.26 1046.40,248.02 1046.90,247.43 1047.40,248.44 1047.90,247.71 1048.40,248.54 1048.90,248.57 1049.40,247.39 1049.90,248.01 1050.40,248.55 1050.90,247.74 1051.40,247.96 1051.90,247.64 1052.40,247.24 1052.90,247.48 1053.40,247.37 1053.90,247.60 1054.40,248.08 1054.90,247.99 1055.40,248.53 1055.90,248.16 1056.40,247.71 1056.91,248.53 1057.41,248.09 1057.91,247.96 1058.41,248.41 1058.91,248.14 1059.41,247.70 1059.91,248.05 1060.41,247.62 1060.91,248.56 1061.41,247.54 1061.91,248.56 1062.41,247.29 1062.91,247.21 1063.41,247.97 1063.91,247.49 1064.41,247.91 1064.91,247.36 1065.41,248.37 1065.91,248.14 1066.41,248.16 1066.91,248.50 1067.42,248.59 1067.92,248.15 1068.42,248.20 1068.92,247.20 1069.42,247.27 1069.92,247.80 1070.42,248.56 1070.92,247.64 1071.42,247.99 1071.92,247.21 1072.42,247.78 1072.92,248.46 1073.42,248.02 1073.92,248.35 1074.42,247.22 1074.92,247.48 1075.42,247.45 1075.92,248.36 1076.42,247.34 1076.92,248.50 1077.43,247.57 1077.93,248.43 1078.43,247.92 1078.93,247.65 1079.43,248.55 1079.93,247.77 1080.43,248.18 1080.93,247.29 1081.43,248.36 1081.93,248.57 1082.43,247.35 1082.93,248.24 1083.43,247.58 1083.93,247.41 1084.43,247.71 1084.93,248.13 1085.43,248.53 1085.93,248.59 1086.43,248.59 1086.93,248.07 1087.43,248.11 1087.94,247.42 1088.44,248.22 1088.94,247.97 1089.44,247.70 1089.94,248.46 1090.44,247.56 1090.94,247.40 1091.44,247.42 1091.94,247.41 1092.44,248.02 1092.94,248.32 1093.44,247.42 1093.94,247.90 1094.44,248.00 1094.94,247.98 1095.44,247.78 1095.94,247.96 1096.44,247.22 1096.94,247.28 1097.44,247.79 1097.94,247.53 1098.45,248.26 1098.95,247.54 1099.45,248.35 1099.95,247.54 1100.45,247.33 1100.95,247.87 1101.45,247.74 1101.95,247.67 1102.45,248.27 1102.95,247.51 1103.45,248.14 1103.95,248.37 1104.45,247.83 1104.95,247.90 1105.45,248.49 1105.95,248.05 1106.45,247.45 1106.95,247.30 1107.45,247.31 1107.95,247.66 1108.46,247.32 1108.96,248.11 1109.46,247.79 1109.96,247.63 1110.46,247.92 1110.96,248.51 1111.46,247.54 1111.96,247.42 1112.46,247.63 1112.96,247.65 1113.46,248.47 1113.96,248.19 1114.46,247.80 1114.96,247.43 1115.46,247.26 1115.96,247.37 1116.46,248.39 1116.96,248.11 1117.46,247.42 1117.96,248.08 1118.46,247.28 1118.97,247.91 1119.47,247.67 1119.97,247.34 1120.47,248.24 1120.97,248.20 1121.47,247.92 1121.97,247.44 1122.47,248.14 1122.97,247.81 1123.47,248.13 1123.97,247.33 1124.47,248.46 1124.97,247.21 1125.47,247.51 1125.97,247.76 1126.47,247.48 1126.97,247.32 1127.47,248.16 1127.97,248.59 1128.47,247.67 1128.97,247.57 1129.48,248.14 1129.98,247.51 1130.48,247.76 1130.98,248.16 1131.48,247.80 1131.98,247.42 1132.48,247.30 1132.98,247.96 1133.48,248.59 1133.98,248.49 1134.48,247.34 1134.98,247.90 1135.48,247.89 1135.98,247.47 1136.48,248.14 1136.98,247.90 1137.48,248.33 1137.98,247.61 1138.48,248.51 1138.98,248.34 1139.49,247.87 1139.99,247.40 1140.49,247.88 1140.99,247.38 1141.49,248.16 1141.99,248.18 1142.49,248.01 1142.99,248.57 1143.49,247.27 1143.99,248.21 1144.49,248.33 1144.99,247.36 1145.49,247.66 1145.99,247.28 1146.49,248.02 1146.99,248.22 1147.49,247.69 1147.99,248.18 1148.49,247.72 1148.99,248.21 1149.49,247.60 1150.00,248.58 1150.50,247.82 1151.00,247.22 1151.50,247.34 1152.00,248.23 1152.50,248.42 1153.00,248.11 1153.50,247.43 1154.00,248.44 1154.50,248.22 1155.00,247.38 1155.50,247.75 1156.00,248.16 1156.50,247.23 1157.00,247.29 1157.50,247.73 1158.00,248.46 1158.50,248.63 1159.01,247.69 1159.51,248.52 1160.01,248.36 1160.51,248.47 1161.01,248.09 1161.51,248.64 1162.01,248.20 1162.51,248.64 1163.01,248.12 1163.51,247.63 1164.01,248.11 1164.51,248.11 1165.01,247.96 1165.51,248.10 1166.01,248.41 1166.51,248.70 1167.01,248.46 1167.51,248.98 1167.90,249.77 1168.01,249.94 1168.30,250.24 1168.51,250.87 1168.60,250.29 1168.90,250.93 1169.01,250.55 1169.20,251.11 1169.50,250.64 1169.52,250.73 1169.90,249.79 1170.02,249.26 1170.52,249.66 1171.02,248.72 1171.52,248.30 1172.02,248.03 1172.52,248.08 1173.02,248.44 1173.52,248.54 1174.02,248.03 1174.52,248.35 1175.02,247.59 1175.52,247.91 1176.02,247.76 1176.52,247.67 1177.02,247.73 1177.52,248.27 1178.02,248.23 1178.52,247.48 1179.02,247.51 1179.52,248.26 1180.03,248.07 1180.53,248.08 1181.03,248.01 1181.53,248.07 1182.03,247.45 1182.53,247.12 1183.03,247.49 1183.53,246.97 1184.03,248.19 1184.53,247.45 1185.03,247.46 1185.53,247.54 1186.03,246.69 1186.53,244.60 1186.60,244.48 1187.00,241.94 1187.03,242.67 1187.30,240.57 1187.53,239.07 1187.60,238.83 1187.90,239.92 1188.03,241.22 1188.20,242.78 1188.53,244.97 1188.60,245.19 1189.03,246.51 1189.53,246.66 1190.04,247.03 1190.54,247.10 1191.04,248.17 1191.54,247.15 1192.04,247.18 1192.54,247.40 1193.04,248.33 1193.54,248.26 1194.04,247.55 1194.54,248.29 1195.04,248.36 1195.54,247.72 1196.04,247.40 1196.54,248.22 1197.04,247.67 1197.54,247.32 1198.04,248.42 1198.54,247.77 1199.04,247.72 1199.54,248.00 1200.04,247.52 1200.55,247.19 1201.05,247.71 1201.55,247.70 1202.05,247.18 1202.55,247.69 1203.05,248.24 1203.55,247.64 1204.05,248.12 1204.55,248.04 1205.05,247.43 1205.55,247.20 1206.05,248.11 1206.55,248.02 1207.05,247.57 1207.55,247.44 1208.05,248.35 1208.55,248.42 1209.05,247.47 1209.55,247.95 1210.05,247.92 1210.55,247.55 1211.06,247.13 1211.56,247.50 1212.06,247.89 1212.56,247.74 1213.06,247.47 1213.56,246.64 1214.00,246.27 1214.06,246.31 1214.40,245.70 1214.56,245.18 1214.70,245.53 1215.00,243.96 1215.06,245.20 1215.30,244.60 1215.56,246.21 1215.60,245.46 1216.00,246.79 1216.06,246.59 1216.56,246.61 1217.06,247.91 1217.56,248.06 1218.06,247.38 1218.56,248.14 1219.06,247.76 1219.56,248.49 1220.06,247.20 1220.56,247.67 1221.07,247.46 1221.57,248.03 1222.07,248.25 1222.57,248.34 1223.07,247.94 1223.57,247.71 1224.07,248.29 1224.57,247.32 1225.07,247.54 1225.57,248.23 1226.07,247.80 1226.57,248.57 1227.07,247.31 1227.57,247.83 1228.07,247.48 1228.57,247.19 1229.07,247.32 1229.57,247.32 1230.07,247.71 1230.57,247.80 1231.07,247.90 1231.58,247.60 1232.08,248.17 1232.58,247.91 1233.08,248.57 1233.58,247.43 1234.08,247.91 1234.58,247.88 1235.08,247.71 1235.58,248.40 1236.08,247.49 1236.58,248.42 1237.08,247.70 1237.58,247.66 1238.08,248.06 1238.58,247.98 1239.08,247.59 1239.58,247.31 1240.08,248.53 1240.58,247.71 1241.08,247.36 1241.58,248.12 1242.09,247.94 1242.59,247.66 1243.09,247.66 1243.59,248.38 1244.09,247.67 1244.59,247.78 1245.09,248.54 1245.59,247.70 1246.09,247.76 1246.59,247.42 1247.09,248.12 1247.59,248.13 1248.09,247.82 1248.59,247.77 1249.09,247.52 1249.59,248.30 1250.09,247.84 1250.59,248.36 1251.09,247.72 1251.59,248.22 1252.10,247.24 1252.60,247.51 1253.10,248.54 1253.60,248.15 1254.10,248.14 1254.60,247.89 1255.10,247.86 1255.60,247.47 1256.10,247.44 1256.60,248.10 1257.10,248.17 1257.60,247.56 1258.10,248.10 1258.60,247.39 1259.10,248.06 1259.60,247.44 1260.10,247.91 1260.60,247.64 1261.10,247.97 1261.60,247.39 1262.10,247.88 1262.61,248.06 1263.11,247.39 1263.61,247.63 1264.11,248.15 1264.61,247.96 1265.11,248.06 1265.61,248.29 1266.11,248.00 1266.61,247.51 1267.11,247.82 1267.61,248.36 1268.11,247.99 1268.61,248.25 1269.11,247.71 1269.61,247.83 1270.11,248.56 1270.61,248.35 1271.11,248.11 1271.61,247.35 1272.11,248.06 1272.61,247.25 1273.12,248.51 1273.62,248.56 1274.12,248.22 1274.62,247.57 1275.12,248.38 1275.62,247.45 1276.12,248.36 1276.62,247.93 1277.12,247.22 1277.62,248.45 1278.12,247.82 1278.62,248.36 1279.12,248.16 1279.62,247.94 1280.12,248.41 1280.62,247.48 1281.12,248.46 1281.62,247.67 1282.12,247.24 1282.62,247.67 1283.12,247.29 1283.62,247.30 1284.13,248.07 1284.63,247.37 1285.13,247.42 1285.63,247.61 1286.13,247.59 1286.63,248.49 1287.13,248.47 1287.63,248.42 1288.13,248.59 1288.63,247.82 1289.13,248.31 1289.63,247.59 1290.13,248.50 1290.63,248.33 1291.13,248.22 1291.63,247.52 1292.13,247.33 1292.63,248.49 1293.13,247.97 1293.63,248.06 1294.13,248.41 1294.64,247.40 1295.14,248.18 1295.64,247.85 1296.14,248.30 1296.64,247.84 1297.14,247.47 1297.64,248.54 1298.14,247.59 1298.64,248.24 1299.14,248.36 1299.64,247.55 1300.14,248.17 1300.64,247.75 1301.14,247.51 1301.64,247.50 1302.14,248.54 1302.64,247.71 1303.14,247.91 1303.64,247.90 1304.14,247.24" fill="none" stroke="#E8292B" stroke-width="2.9" stroke-linejoin="round" />
<polyline points="770.44,278.25 770.94,278.24 771.44,278.42 771.94,277.70 772.44,277.49 772.94,277.69 773.44,278.22 773.94,278.12 774.44,277.77 774.94,277.93 775.44,277.41 775.94,278.48 776.44,277.86 776.94,277.91 777.44,278.30 777.94,277.48 778.44,278.21 778.94,277.69 779.44,278.34 779.94,277.33 780.44,277.58 780.94,278.09 781.44,277.87 781.94,277.73 782.44,278.01 782.94,277.50 783.44,277.81 783.94,277.20 784.44,278.32 784.94,277.55 785.44,278.36 785.94,277.97 786.44,278.04 786.94,278.07 787.44,277.37 787.94,278.29 788.44,277.61 788.94,278.41 789.44,278.30 789.94,278.15 790.44,278.34 790.94,277.81 791.44,278.14 791.94,278.53 792.44,277.46 792.94,277.34 793.44,277.77 793.94,277.91 794.44,277.41 794.94,277.51 795.44,278.41 795.94,277.74 796.44,277.41 796.94,277.45 797.44,278.01 797.94,277.46 798.44,277.86 798.94,277.95 799.44,277.81 799.94,277.90 800.44,278.37 800.94,277.22 801.44,278.50 801.94,277.48 802.44,277.25 802.94,278.27 803.44,278.00 803.94,277.95 804.44,277.50 804.94,278.29 805.44,277.63 805.94,278.22 806.44,277.52 806.94,278.00 807.44,278.10 807.94,277.72 808.44,277.87 808.94,277.29 809.44,278.10 809.94,278.16 810.44,277.41 810.94,277.97 811.44,278.22 811.94,277.34 812.44,278.37 812.94,278.42 813.44,277.27 813.94,277.54 814.44,277.31 814.94,277.55 815.44,277.32 815.94,277.88 816.44,277.55 816.94,277.62 817.44,277.84 817.94,277.72 818.44,278.30 818.94,278.21 819.44,277.36 819.94,277.51 820.44,277.21 820.94,277.66 821.44,277.35 821.94,278.17 822.44,278.29 822.94,278.59 823.44,277.49 823.94,277.25 824.44,278.26 824.94,277.77 825.44,278.50 825.94,277.74 826.44,277.63 826.94,277.30 827.44,278.52 827.94,277.91 828.44,277.81 828.94,277.81 829.44,278.27 829.94,278.36 830.44,277.86 830.94,277.44 831.44,277.76 831.94,278.44 832.44,277.77 832.94,278.12 833.44,277.98 833.94,277.84 834.44,278.00 834.94,277.54 835.44,277.97 835.94,278.40 836.44,277.31 836.94,277.71 837.44,278.43 837.94,278.56 838.44,277.21 838.94,278.07 839.44,278.08 839.94,278.37 840.44,277.85 840.94,277.38 841.44,277.61 841.94,278.19 842.44,278.21 842.94,277.48 843.44,278.09 843.94,278.11 844.44,278.11 844.94,277.22 845.44,277.81 845.94,277.64 846.44,278.03 846.94,277.66 847.44,277.37 847.94,278.13 848.44,277.59 848.94,278.29 849.44,277.62 849.94,277.95 850.44,278.32 850.94,277.35 851.44,278.21 851.94,277.28 852.44,278.49 852.94,277.22 853.44,278.20 853.94,277.70 854.44,277.43 854.94,277.73 855.44,277.88 855.94,277.76 856.44,277.35 856.94,277.91 857.44,277.59 857.94,278.53 858.44,277.71 858.94,277.78 859.44,277.49 859.94,278.52 860.44,277.61 860.94,278.06 861.44,278.32 861.94,277.70 862.44,278.21 862.94,277.53 863.44,277.29 863.94,277.19 864.44,277.75 864.94,278.33 865.44,277.38 865.94,277.70 866.44,278.13 866.94,277.41 867.44,277.20 867.94,277.66 868.44,277.44 868.94,278.02 869.44,277.74 869.94,276.39 870.44,275.96 870.50,275.61 870.90,273.57 870.94,273.94 871.20,273.29 871.44,271.64 871.50,272.00 871.80,273.00 871.94,272.82 872.10,274.82 872.44,275.01 872.50,275.44 872.94,276.91 873.44,276.43 873.94,277.19 874.44,276.99 874.94,277.57 875.44,276.99 875.94,277.22 876.44,277.35 876.94,277.17 877.44,277.20 877.94,277.36 878.44,277.82 878.94,277.30 879.44,278.26 879.94,277.70 880.44,277.47 880.94,277.46 881.44,278.30 881.94,277.19 882.44,278.16 882.94,277.26 883.44,278.44 883.94,277.69 884.44,277.95 884.94,278.32 885.44,277.25 885.94,277.19 886.44,278.07 886.94,277.91 887.44,278.09 887.94,277.46 888.44,277.76 888.94,277.31 889.44,277.64 889.94,277.41 890.44,277.81 890.94,277.38 891.44,277.32 891.94,277.79 892.44,276.95 892.94,277.89 893.44,277.37 893.94,276.87 894.44,276.53 894.94,276.82 895.44,276.41 895.94,276.03 896.44,274.29 896.94,271.68 897.20,269.76 897.44,264.92 897.60,262.16 897.90,252.20 897.94,250.86 898.20,245.71 898.44,249.37 898.50,252.09 898.80,261.65 898.94,264.53 899.20,269.90 899.44,271.90 899.94,274.85 900.44,275.78 900.94,275.80 901.44,277.31 901.94,276.61 902.44,276.91 902.94,277.53 903.44,277.03 903.94,277.48 904.44,277.88 904.94,277.06 905.44,277.89 905.94,277.14 906.44,277.68 906.94,277.94 907.44,278.01 907.94,277.12 908.44,277.34 908.94,278.42 909.44,277.63 909.94,277.69 910.44,277.62 910.94,278.08 911.44,278.14 911.94,278.02 912.44,277.68 912.94,277.91 913.44,277.84 913.94,277.38 914.44,278.45 914.94,278.47 915.44,278.20 915.94,278.50 916.44,277.76 916.94,278.28 917.44,277.43 917.94,278.13 918.44,278.08 918.94,278.37 919.44,278.21 919.94,278.24 920.44,277.35 920.94,278.02 921.44,277.49 921.94,277.12 922.44,276.93 922.94,277.01 923.20,276.61 923.44,275.96 923.60,275.16 923.90,273.25 923.94,273.07 924.20,273.15 924.44,273.10 924.50,273.48 924.80,274.36 924.94,274.94 925.20,276.42 925.44,276.17 925.94,277.58 926.44,277.11 926.94,277.98 927.44,277.30 927.94,277.30 928.44,277.51 928.94,276.99 929.44,277.59 929.94,277.50 930.44,276.97 930.94,278.13 931.44,277.40 931.94,276.80 932.44,278.03 932.94,276.80 933.44,276.46 933.94,275.41 934.20,274.85 934.44,274.79 934.60,273.83 934.90,272.01 934.94,271.43 935.20,270.77 935.44,272.37 935.50,271.83 935.80,274.41 935.94,274.98 936.20,274.90 936.44,276.55 936.94,276.14 937.44,277.49 937.94,277.84 938.44,277.81 938.94,277.69 939.44,278.11 939.94,277.23 940.44,277.80 940.94,277.44 941.44,277.65 941.94,277.37 942.44,278.10 942.94,277.92 943.44,278.22 943.94,278.02 944.44,277.98 944.94,278.44 945.44,278.29 945.94,277.95 946.44,277.62 946.94,278.46 947.44,277.68 947.94,277.31 948.44,277.63 948.94,278.16 949.44,278.48 949.94,278.08 950.44,278.10 950.94,278.49 951.44,278.27 951.94,277.80 952.44,277.83 952.94,278.24 953.44,277.63 953.94,277.34 954.44,278.05 954.94,278.32 955.44,277.53 955.94,278.14 956.44,278.43 956.94,277.36 957.44,277.38 957.94,277.88 958.44,277.65 958.94,278.52 959.44,278.58 959.94,277.81 960.44,278.30 960.94,278.07 961.44,277.43 961.94,278.55 962.44,277.43 962.94,277.30 963.44,277.82 963.94,277.22 964.44,277.86 964.94,277.77 965.44,278.53 965.94,277.77 966.44,278.38 966.94,278.28 967.44,278.01 967.94,277.53 968.44,277.62 968.94,277.88 969.44,277.75 969.94,278.10 970.44,277.90 970.94,277.65 971.44,278.04 971.94,278.59 972.44,277.48 972.94,277.66 973.44,277.21 973.94,277.33 974.44,277.27 974.94,277.79 975.44,278.37 975.94,278.17 976.44,278.55 976.94,278.37 977.44,278.01 977.94,278.01 978.44,277.21 978.94,277.73 979.44,277.56 979.94,278.06 980.44,277.29 980.94,277.95 981.44,277.72 981.94,277.88 982.44,277.76 982.94,277.34 983.44,278.22 983.94,278.32 984.44,278.03 984.94,277.36 985.44,278.03 985.94,278.42 986.44,278.58 986.94,278.26 987.44,277.26 987.94,278.43 988.44,278.13 988.94,277.58 989.44,278.48 989.94,278.35 990.44,278.45 990.94,277.54 991.44,278.00 991.94,277.73 992.44,277.61 992.94,278.26 993.44,278.06 993.94,277.66 994.44,277.96 994.94,278.50 995.44,277.99 995.94,278.48 996.44,277.99 996.94,278.59 997.44,277.24 997.94,277.84 998.44,277.97 998.94,278.21 999.44,278.55 999.94,278.07 1000.44,277.87 1000.94,278.09 1001.44,277.94 1001.94,278.18 1002.44,278.52 1002.94,277.22 1003.44,277.65 1003.94,278.42 1004.44,277.28 1004.94,278.30 1005.44,277.24 1005.94,278.11 1006.44,278.32 1006.94,277.53 1007.44,277.73 1007.94,277.51 1008.44,278.18 1008.94,277.94 1009.44,278.05 1009.94,277.65 1010.44,278.02 1010.94,278.53 1011.44,278.29 1011.94,278.53 1012.44,277.54 1012.94,277.92 1013.44,277.74 1013.94,277.68 1014.44,278.32 1014.94,277.44 1015.44,277.98 1015.94,278.28 1016.44,278.51 1016.94,277.22 1017.44,277.58 1017.94,277.89 1018.44,278.51 1018.94,277.43 1019.44,278.38 1019.94,277.75 1020.44,277.97 1020.94,278.50 1021.44,277.29 1021.94,277.66 1022.44,277.42 1022.94,277.39 1023.44,277.62 1023.94,278.18 1024.44,278.01 1024.94,277.37 1025.44,278.32 1025.94,277.91 1026.44,277.40 1026.94,278.35 1027.44,278.35 1027.94,277.50 1028.44,278.51 1028.94,278.33 1029.44,277.52 1029.94,277.20 1030.44,278.41 1030.94,278.35 1031.44,277.34 1031.94,278.27 1032.44,278.28 1032.94,278.09 1033.44,278.36 1033.94,278.58 1034.44,277.66 1034.94,278.37 1035.44,278.49 1035.94,277.64 1036.44,278.16 1036.94,278.16 1037.44,278.39 1037.94,277.99 1038.44,277.58 1038.94,277.55 1039.44,277.96 1039.94,277.39 1040.44,278.40 1040.94,278.44 1041.44,277.54 1041.94,278.17 1042.44,278.14 1042.94,277.37 1043.44,278.29 1043.94,278.27 1044.44,277.63 1044.94,277.34 1045.44,277.59 1045.94,278.28 1046.44,277.85 1046.94,278.34 1047.44,277.42 1047.94,277.35 1048.44,277.69 1048.94,278.43 1049.44,277.43 1049.94,277.30 1050.44,278.25 1050.94,277.33 1051.44,278.13 1051.94,277.32 1052.44,277.54 1052.94,278.13 1053.44,278.42 1053.94,277.77 1054.44,277.83 1054.94,277.24 1055.44,277.68 1055.94,277.54 1056.44,278.30 1056.94,278.20 1057.44,278.30 1057.94,277.94 1058.44,278.18 1058.94,277.38 1059.44,277.74 1059.94,277.61 1060.44,277.59 1060.94,278.23 1061.44,277.50 1061.94,277.65 1062.44,277.59 1062.94,278.41 1063.44,278.09 1063.94,277.87 1064.44,277.73 1064.94,278.49 1065.44,278.51 1065.94,277.83 1066.44,277.99 1066.94,278.41 1067.44,277.56 1067.94,277.56 1068.44,277.34 1068.94,277.90 1069.44,278.28 1069.94,277.42 1070.44,277.80 1070.94,278.59 1071.44,277.87 1071.94,277.73 1072.44,278.37 1072.94,278.45 1073.44,277.73 1073.94,277.37 1074.44,278.09 1074.94,278.24 1075.44,278.49 1075.94,278.12 1076.44,277.63 1076.94,277.92 1077.44,277.60 1077.94,277.82 1078.44,277.85 1078.94,278.48 1079.44,278.47 1079.94,278.50 1080.44,277.87 1080.94,278.55 1081.44,277.39 1081.94,278.49 1082.44,278.10 1082.94,278.42 1083.44,277.78 1083.94,278.59 1084.44,277.23 1084.94,278.39 1085.44,278.35 1085.94,277.72 1086.44,278.36 1086.94,277.50 1087.44,278.25 1087.94,277.86 1088.44,277.78 1088.94,277.48 1089.44,278.32 1089.94,278.22 1090.44,277.32 1090.94,278.57 1091.44,277.51 1091.94,277.73 1092.44,277.78 1092.94,278.01 1093.44,278.45 1093.94,278.52 1094.44,278.09 1094.94,277.71 1095.44,277.35 1095.94,277.30 1096.44,277.93 1096.94,278.02 1097.44,277.83 1097.94,278.58 1098.44,277.78 1098.94,277.69 1099.44,277.79 1099.94,277.44 1100.44,278.52 1100.94,278.03 1101.44,277.96 1101.94,277.80 1102.44,277.55 1102.94,277.64 1103.44,277.89 1103.94,277.83 1104.44,278.57 1104.94,277.99 1105.44,277.49 1105.94,277.28 1106.44,277.42 1106.94,277.69 1107.44,278.30 1107.94,278.45 1108.44,277.53 1108.94,278.29 1109.44,277.82 1109.94,277.95 1110.44,277.95 1110.94,277.26 1111.44,277.29 1111.94,278.14 1112.44,278.17 1112.94,277.73 1113.44,278.49 1113.94,278.35 1114.44,277.62 1114.94,277.30 1115.44,277.98 1115.94,278.12 1116.44,277.52 1116.94,277.26 1117.44,277.88 1117.94,277.25 1118.44,278.23 1118.94,278.08 1119.44,277.59 1119.94,277.83 1120.44,277.53 1120.94,277.46 1121.44,277.46 1121.94,278.35 1122.44,277.84 1122.94,278.21 1123.44,277.69 1123.94,278.33 1124.44,278.04 1124.94,278.12 1125.44,277.75 1125.94,277.99 1126.44,277.47 1126.94,278.57 1127.44,278.15 1127.94,277.95 1128.44,278.10 1128.94,277.35 1129.44,277.67 1129.94,277.53 1130.44,278.39 1130.94,277.22 1131.44,277.83 1131.94,278.42 1132.44,278.30 1132.94,278.21 1133.44,277.63 1133.94,277.53 1134.44,278.19 1134.94,277.62 1135.44,278.22 1135.94,277.69 1136.44,278.27 1136.94,278.00 1137.44,278.34 1137.94,278.58 1138.44,277.72 1138.94,278.57 1139.44,277.19 1139.94,278.39 1140.44,277.19 1140.94,277.89 1141.44,277.62 1141.94,278.09 1142.44,277.34 1142.94,276.98 1143.44,277.34 1143.60,276.79 1143.94,276.34 1144.00,275.81 1144.30,274.28 1144.44,274.97 1144.60,274.05 1144.90,274.91 1144.94,274.38 1145.20,275.53 1145.44,276.72 1145.60,277.16 1145.94,277.44 1146.44,277.54 1146.94,278.16 1147.44,278.22 1147.94,277.70 1148.44,278.28 1148.94,278.50 1149.44,278.85 1149.94,278.33 1150.44,278.80 1150.94,279.31 1151.44,279.68 1151.94,281.15 1152.20,282.44 1152.44,283.04 1152.60,283.00 1152.90,284.63 1152.94,283.86 1153.20,285.01 1153.44,283.93 1153.50,283.75 1153.80,283.11 1153.94,283.00 1154.20,281.81 1154.44,281.95 1154.94,280.90 1155.44,279.27 1155.94,279.46 1156.44,279.08 1156.94,278.68 1157.44,278.10 1157.94,278.96 1158.44,278.89 1158.94,277.50 1159.44,277.90 1159.94,277.84 1160.44,277.64 1160.94,277.93 1161.44,278.56 1161.94,277.32 1162.44,278.43 1162.94,277.68 1163.44,277.24 1163.94,278.46 1164.44,277.57 1164.94,277.46 1165.44,277.30 1165.94,277.62 1166.44,277.23 1166.94,277.27 1167.44,277.30 1167.94,277.65 1168.44,277.31 1168.94,276.84 1169.44,276.66 1169.94,275.99 1170.00,275.75 1170.40,273.49 1170.44,274.06 1170.70,272.38 1170.94,271.14 1171.00,270.98 1171.30,271.73 1171.44,272.29 1171.60,274.25 1171.94,275.39 1172.00,274.86 1172.44,277.04 1172.94,277.55 1173.44,276.66 1173.94,277.76 1174.44,277.22 1174.94,277.71 1175.44,278.17 1175.94,277.53 1176.44,277.76 1176.94,278.01 1177.44,277.36 1177.94,277.98 1178.44,277.71 1178.94,278.49 1179.44,277.39 1179.94,278.12 1180.44,277.18 1180.94,277.51 1181.44,277.29 1181.94,277.34 1182.44,277.86 1182.94,277.37 1183.44,278.23 1183.94,277.25 1184.44,277.98 1184.94,278.31 1185.44,277.27 1185.94,277.38 1186.44,278.14 1186.94,277.70 1187.44,278.33 1187.94,277.46 1188.44,277.49 1188.94,278.18 1189.44,277.17 1189.94,277.73 1190.00,277.58 1190.40,276.09 1190.44,276.51 1190.70,276.62 1190.94,275.19 1191.00,276.20 1191.30,276.35 1191.44,276.55 1191.60,276.60 1191.94,276.32 1192.00,277.57 1192.44,276.63 1192.94,277.70 1193.44,277.63 1193.94,277.02 1194.44,277.44 1194.94,276.90 1195.44,277.13 1195.94,275.73 1196.44,276.27 1196.94,274.16 1197.44,271.81 1197.60,269.73 1197.94,264.40 1198.00,262.30 1198.30,253.46 1198.44,248.58 1198.60,247.27 1198.90,252.81 1198.94,255.32 1199.20,262.83 1199.44,267.49 1199.60,270.45 1199.94,273.42 1200.44,275.59 1200.94,275.42 1201.44,276.87 1201.94,277.25 1202.44,277.31 1202.94,276.64 1203.44,278.02 1203.94,277.43 1204.44,277.71 1204.94,278.06 1205.44,277.35 1205.94,277.03 1206.44,278.31 1206.94,277.42 1207.44,277.11 1207.94,277.26 1208.44,278.48 1208.94,278.13 1209.44,277.40 1209.94,277.32 1210.44,278.38 1210.94,278.06 1211.44,277.95 1211.94,277.32 1212.44,277.72 1212.94,278.47 1213.44,277.15 1213.94,277.74 1214.44,277.23 1214.94,278.55 1215.44,277.31 1215.94,278.50 1216.44,278.34 1216.94,278.19 1217.44,277.23 1217.94,278.14 1218.44,277.86 1218.94,277.86 1219.44,277.38 1219.94,277.89 1220.44,278.30 1220.94,277.36 1221.44,278.40 1221.94,277.77 1222.44,277.55 1222.94,277.52 1223.44,277.83 1223.94,278.09 1224.44,277.98 1224.94,278.43 1225.44,277.90 1225.94,277.90 1226.44,278.57 1226.94,277.49 1227.44,277.21 1227.94,277.65 1228.44,277.63 1228.94,277.36 1229.44,277.77 1229.94,277.24 1230.44,278.48 1230.94,277.87 1231.44,278.42 1231.94,278.17 1232.44,278.21 1232.94,278.25 1233.44,277.61 1233.94,278.21 1234.44,277.48 1234.94,277.97 1235.44,278.03 1235.94,278.28 1236.44,277.43 1236.94,277.67 1237.44,278.35 1237.94,278.32 1238.44,278.56 1238.94,277.36 1239.44,277.49 1239.94,277.34 1240.44,278.21 1240.94,278.24 1241.44,278.10 1241.94,278.29 1242.44,277.92 1242.94,277.98 1243.44,278.48 1243.94,278.10 1244.44,278.11 1244.94,278.02 1245.44,277.89 1245.94,278.25 1246.44,278.00 1246.94,277.38 1247.44,277.79 1247.94,277.79 1248.44,277.80 1248.94,277.98 1249.44,277.70 1249.94,277.74 1250.44,277.79 1250.94,277.72 1251.44,278.56 1251.94,277.32 1252.44,277.22 1252.94,278.21 1253.44,277.75 1253.94,277.82 1254.44,278.02 1254.94,277.71 1255.44,277.53 1255.94,277.22 1256.44,278.42 1256.94,278.51 1257.44,277.60 1257.94,277.85 1258.44,277.65 1258.94,277.28 1259.44,278.45 1259.94,278.37 1260.44,277.53 1260.94,277.55 1261.44,278.17 1261.94,278.31 1262.44,277.85 1262.94,277.74 1263.44,277.52 1263.94,278.31 1264.44,278.41 1264.94,278.40 1265.44,277.36 1265.94,278.03 1266.44,278.58 1266.94,278.20 1267.44,277.84 1267.94,277.40 1268.44,277.28 1268.94,278.22 1269.44,277.29 1269.94,278.33 1270.44,278.13 1270.94,277.86 1271.44,278.45 1271.94,278.50 1272.44,278.06 1272.94,277.34 1273.44,278.02 1273.94,277.79 1274.44,277.55 1274.94,278.50 1275.44,278.22 1275.94,277.37 1276.44,277.52 1276.94,277.68 1277.44,278.00 1277.94,277.65 1278.44,277.81 1278.94,278.34 1279.44,277.45 1279.94,278.21 1280.44,277.66 1280.94,278.52 1281.44,278.53 1281.94,277.66 1282.44,278.05 1282.94,277.35 1283.44,277.77 1283.94,278.07 1284.44,278.09 1284.94,277.68 1285.44,277.25 1285.94,277.37 1286.44,277.98 1286.94,277.44" fill="none" stroke="#2C55A8" stroke-width="2.9" stroke-linejoin="round" />
<polyline points="756.85,301.33 757.35,301.76 757.85,302.16 758.36,301.62 758.86,301.25 759.36,301.72 759.86,301.28 760.36,301.99 760.86,301.12 761.36,301.27 761.86,301.51 762.36,302.17 762.86,301.13 763.36,301.17 763.86,301.08 764.36,301.20 764.86,301.36 765.36,301.45 765.86,301.96 766.36,301.46 766.86,301.56 767.36,301.45 767.86,301.98 768.37,302.16 768.87,301.49 769.37,302.19 769.87,301.25 770.37,302.27 770.87,301.63 771.37,301.85 771.87,301.43 772.37,301.28 772.87,301.09 773.37,302.14 773.87,301.40 774.37,301.88 774.87,301.54 775.37,301.64 775.87,301.19 776.37,301.15 776.87,301.37 777.37,301.85 777.87,301.66 778.37,300.90 778.88,301.89 779.38,301.50 779.88,300.99 780.38,301.26 780.88,301.19 781.38,302.05 781.88,301.67 782.38,301.35 782.88,301.25 783.38,301.30 783.88,301.29 784.38,301.38 784.88,302.00 785.38,302.00 785.88,301.87 786.38,302.14 786.88,301.81 787.38,301.06 787.88,300.96 788.38,301.13 788.88,301.26 789.38,301.64 789.88,302.05 790.39,301.72 790.89,301.50 791.39,301.24 791.89,302.27 792.39,301.95 792.89,301.37 793.39,300.96 793.89,302.27 794.39,301.26 794.89,302.08 795.39,301.06 795.89,301.81 796.39,301.40 796.89,302.14 797.39,301.31 797.89,301.04 798.39,301.17 798.89,302.02 799.39,302.27 799.89,301.80 800.40,301.85 800.90,301.29 801.40,301.28 801.90,301.02 802.40,302.27 802.90,300.96 803.40,301.75 803.90,301.39 804.40,301.16 804.90,301.51 805.40,302.20 805.90,301.24 806.40,301.13 806.90,301.78 807.40,301.82 807.90,301.61 808.40,301.15 808.90,302.12 809.40,301.05 809.90,301.14 810.40,301.23 810.91,301.61 811.41,301.56 811.91,301.67 812.41,301.91 812.91,302.15 813.41,301.55 813.91,300.95 814.41,302.06 814.91,300.92 815.41,301.34 815.91,301.09 816.41,301.74 816.91,301.99 817.41,301.07 817.91,301.31 818.41,302.08 818.91,301.86 819.41,301.04 819.91,301.85 820.41,302.00 820.91,301.46 821.42,301.11 821.92,301.81 822.42,301.34 822.92,301.08 823.42,301.12 823.92,301.45 824.42,301.07 824.92,301.43 825.42,301.66 825.92,301.66 826.42,301.46 826.92,302.01 827.42,301.01 827.92,301.35 828.42,302.20 828.92,302.10 829.42,302.18 829.92,301.96 830.42,301.64 830.92,301.99 831.43,301.69 831.93,301.05 832.43,301.24 832.93,301.02 833.43,302.11 833.93,301.34 834.43,301.45 834.93,301.64 835.43,301.02 835.93,301.87 836.43,301.99 836.93,301.99 837.43,302.11 837.93,301.32 838.43,301.08 838.93,301.94 839.43,301.85 839.93,301.39 840.43,301.35 840.93,301.09 841.43,302.03 841.94,301.51 842.44,302.00 842.94,301.34 843.44,301.31 843.94,301.58 844.44,301.90 844.94,302.09 845.44,301.34 845.94,301.82 846.44,301.41 846.94,302.04 847.44,301.89 847.94,301.60 848.44,301.32 848.94,301.19 849.44,302.03 849.94,301.89 850.44,301.18 850.95,300.84 851.45,300.96 851.95,301.99 852.45,300.63 852.95,301.61 853.45,301.06 853.95,300.84 854.45,300.35 854.95,299.21 855.10,298.95 855.45,296.72 855.50,297.58 855.80,294.55 855.95,293.85 856.10,294.31 856.40,295.30 856.45,295.83 856.70,297.26 856.95,298.88 857.10,298.23 857.45,299.11 857.95,300.13 858.45,301.25 858.95,300.57 859.45,301.22 859.95,301.63 860.45,300.81 860.95,301.36 861.46,301.89 861.96,301.66 862.46,301.13 862.96,301.16 863.46,300.71 863.96,301.29 864.00,301.00 864.40,300.24 864.46,299.59 864.70,299.68 864.96,299.00 865.00,299.43 865.30,299.17 865.46,300.23 865.60,300.25 865.96,300.50 866.00,300.71 866.46,301.43 866.96,301.24 867.46,301.96 867.96,300.68 868.46,301.97 868.96,301.74 869.46,301.44 869.96,301.95 870.46,300.98 870.96,301.25 871.46,301.77 871.97,301.93 872.47,301.29 872.97,302.16 873.47,301.67 873.97,300.82 874.47,300.92 874.97,300.84 875.47,301.51 875.97,301.15 876.47,301.04 876.97,301.27 877.47,300.71 877.97,301.83 878.47,301.67 878.97,301.19 879.47,300.92 879.97,300.57 880.47,300.74 880.97,300.00 881.47,300.25 881.98,299.04 882.48,296.19 882.70,294.23 882.98,288.98 883.10,286.31 883.40,277.77 883.48,275.17 883.70,271.97 883.98,277.95 884.00,278.45 884.30,287.47 884.48,290.17 884.70,293.38 884.98,295.58 885.48,298.25 885.98,299.05 886.48,300.31 886.98,300.35 887.48,301.10 887.98,301.10 888.48,301.26 888.98,300.93 889.48,301.60 889.98,301.58 890.48,301.65 890.98,301.34 891.48,301.36 891.98,301.13 892.49,300.80 892.99,301.41 893.49,301.63 893.99,301.04 894.49,301.99 894.99,302.02 895.49,301.99 895.99,301.95 896.49,301.49 896.99,301.06 897.49,301.19 897.99,301.85 898.49,302.20 898.99,300.98 899.49,300.83 899.99,301.32 900.49,301.31 900.99,301.66 901.49,300.98 901.99,302.00 902.49,301.29 903.00,302.08 903.50,301.26 904.00,301.22 904.50,301.03 905.00,302.13 905.50,301.59 906.00,301.90 906.50,300.81 907.00,301.45 907.50,301.66 908.00,301.94 908.50,301.77 909.00,300.42 909.50,300.48 910.00,300.70 910.20,299.62 910.50,299.24 910.60,297.85 910.90,296.14 911.00,297.02 911.20,295.71 911.50,296.88 911.50,296.62 911.80,298.29 912.00,299.58 912.20,300.18 912.50,300.69 913.00,300.37 913.50,301.44 914.01,300.47 914.51,301.11 915.01,301.90 915.51,300.97 916.01,301.13 916.51,301.43 917.01,300.93 917.51,301.55 918.01,301.40 918.51,300.51 919.01,301.48 919.51,299.94 920.01,300.11 920.20,299.18 920.51,297.81 920.60,297.33 920.90,297.12 921.01,296.38 921.20,295.55 921.50,296.84 921.51,297.14 921.80,298.51 922.01,298.84 922.20,299.06 922.51,300.08 923.01,301.30 923.51,301.24 924.01,301.31 924.52,301.63 925.02,301.06 925.52,301.27 926.02,301.64 926.52,300.64 927.02,301.41 927.52,299.92 928.02,299.98 928.20,299.64 928.52,298.01 928.60,298.76 928.90,296.70 929.02,295.89 929.20,295.91 929.50,296.92 929.52,296.79 929.80,297.49 930.02,298.47 930.20,299.86 930.52,299.69 931.02,300.41 931.52,301.47 932.02,301.70 932.52,301.83 933.02,300.90 933.52,300.71 934.02,301.79 934.52,301.60 935.03,301.29 935.53,300.82 936.03,301.41 936.53,301.15 937.03,301.65 937.53,302.21 938.03,301.13 938.53,300.95 939.03,301.82 939.53,301.00 940.03,301.17 940.53,301.47 941.03,302.24 941.53,301.32 942.03,301.31 942.53,301.53 943.03,301.10 943.53,301.43 944.03,301.85 944.53,301.33 945.04,301.99 945.54,301.13 946.04,301.02 946.54,301.76 947.04,301.51 947.54,302.17 948.04,301.03 948.54,301.93 949.04,301.82 949.54,301.40 950.04,301.06 950.54,301.74 951.04,301.95 951.54,301.55 952.04,301.55 952.54,301.85 953.04,301.74 953.54,301.48 954.04,301.15 954.54,301.54 955.04,301.66 955.55,302.14 956.05,302.28 956.55,301.67 957.05,301.35 957.55,301.20 958.05,301.77 958.55,301.92 959.05,301.24 959.55,301.86 960.05,302.29 960.55,301.44 961.05,302.21 961.55,301.50 962.05,301.80 962.55,302.10 963.05,301.18 963.55,301.38 964.05,302.27 964.55,300.98 965.05,301.32 965.55,301.56 966.06,301.94 966.56,301.78 967.06,302.19 967.56,301.83 968.06,300.90 968.56,300.99 969.06,300.94 969.56,301.50 970.06,300.93 970.56,301.63 971.06,301.78 971.56,301.18 972.06,302.09 972.56,301.47 973.06,302.24 973.56,301.40 974.06,301.76 974.56,301.65 975.07,301.26 975.57,301.99 976.07,300.90 976.57,301.24 977.07,301.34 977.57,302.13 978.07,301.60 978.57,300.95 979.07,301.31 979.57,301.75 980.07,302.03 980.57,301.05 981.07,301.99 981.57,301.44 982.07,301.63 982.57,301.49 983.07,301.51 983.57,302.28 984.07,302.18 984.57,302.18 985.07,301.93 985.58,301.88 986.08,301.09 986.58,300.95 987.08,302.06 987.58,301.84 988.08,301.78 988.58,301.33 989.08,301.27 989.58,302.19 990.08,301.64 990.58,300.92 991.08,301.37 991.58,301.38 992.08,300.99 992.58,302.27 993.08,302.16 993.58,302.04 994.08,300.90 994.58,301.48 995.08,301.05 995.59,301.91 996.09,302.03 996.59,302.00 997.09,302.01 997.59,301.07 998.09,300.92 998.59,301.03 999.09,302.08 999.59,302.06 1000.09,301.62 1000.59,301.23 1001.09,302.10 1001.59,301.07 1002.09,301.35 1002.59,300.90 1003.09,302.27 1003.59,301.48 1004.09,301.98 1004.59,302.02 1005.09,301.71 1005.59,302.28 1006.10,301.98 1006.60,302.20 1007.10,302.25 1007.60,301.01 1008.10,301.95 1008.60,301.21 1009.10,301.35 1009.60,301.38 1010.10,302.28 1010.60,300.98 1011.10,301.51 1011.60,301.08 1012.10,302.29 1012.60,301.59 1013.10,301.88 1013.60,301.63 1014.10,301.97 1014.60,301.37 1015.10,301.48 1015.60,301.94 1016.10,301.88 1016.61,302.14 1017.11,301.33 1017.61,302.09 1018.11,301.93 1018.61,301.70 1019.11,301.47 1019.61,301.69 1020.11,301.01 1020.61,301.03 1021.11,301.33 1021.61,301.07 1022.11,300.97 1022.61,301.90 1023.11,301.92 1023.61,301.76 1024.11,301.19 1024.61,301.91 1025.11,302.05 1025.61,301.76 1026.11,301.22 1026.62,301.69 1027.12,301.45 1027.62,301.27 1028.12,301.11 1028.62,302.11 1029.12,301.78 1029.62,302.20 1030.12,301.14 1030.62,301.27 1031.12,301.61 1031.62,300.98 1032.12,301.32 1032.62,301.65 1033.12,301.57 1033.62,302.17 1034.12,301.71 1034.62,301.79 1035.12,301.72 1035.62,302.00 1036.12,301.41 1036.62,300.90 1037.12,302.27 1037.62,302.01 1038.13,301.08 1038.63,301.05 1039.13,301.21 1039.63,301.82 1040.13,301.08 1040.63,300.93 1041.13,301.59 1041.63,300.91 1042.13,301.26 1042.63,301.43 1043.13,301.19 1043.63,300.90 1044.13,301.26 1044.63,301.24 1045.13,301.35 1045.63,301.48 1046.13,301.40 1046.63,301.35 1047.13,300.92 1047.63,302.07 1048.13,301.93 1048.64,301.59 1049.14,300.90 1049.64,301.22 1050.14,302.16 1050.64,301.54 1051.14,301.19 1051.64,302.05 1052.14,302.15 1052.64,301.07 1053.14,301.60 1053.64,301.68 1054.14,301.06 1054.64,301.35 1055.14,301.76 1055.64,301.84 1056.14,301.78 1056.64,301.77 1057.14,301.43 1057.64,300.99 1058.14,300.92 1058.65,302.07 1059.15,302.11 1059.65,302.17 1060.15,301.00 1060.65,301.98 1061.15,301.14 1061.65,301.38 1062.15,301.18 1062.65,302.10 1063.15,302.04 1063.65,302.06 1064.15,301.43 1064.65,302.21 1065.15,301.26 1065.65,301.70 1066.15,301.84 1066.65,301.23 1067.15,301.43 1067.65,301.04 1068.15,302.01 1068.65,301.16 1069.16,301.09 1069.66,301.29 1070.16,301.79 1070.66,301.79 1071.16,301.63 1071.66,302.09 1072.16,301.95 1072.66,301.19 1073.16,301.65 1073.66,301.13 1074.16,301.24 1074.66,301.10 1075.16,301.01 1075.66,301.39 1076.16,302.14 1076.66,301.82 1077.16,301.02 1077.66,301.20 1078.16,301.73 1078.66,301.64 1079.16,300.93 1079.67,301.03 1080.17,301.69 1080.67,301.74 1081.17,301.01 1081.67,301.98 1082.17,301.23 1082.67,301.72 1083.17,301.64 1083.67,301.37 1084.17,302.22 1084.67,301.45 1085.17,301.49 1085.67,301.65 1086.17,302.07 1086.67,302.28 1087.17,301.97 1087.67,301.65 1088.17,301.90 1088.67,301.79 1089.17,302.24 1089.68,302.26 1090.18,301.96 1090.68,301.20 1091.18,301.69 1091.68,301.51 1092.18,301.22 1092.68,301.99 1093.18,301.21 1093.68,301.89 1094.18,301.58 1094.68,301.49 1095.18,301.89 1095.68,301.91 1096.18,302.28 1096.68,302.29 1097.18,302.01 1097.68,301.26 1098.18,301.83 1098.68,301.59 1099.18,302.21 1099.68,301.52 1100.19,301.39 1100.69,300.93 1101.19,301.55 1101.69,301.64 1102.19,301.32 1102.69,301.04 1103.19,301.57 1103.69,300.99 1104.19,301.13 1104.69,301.51 1105.19,301.38 1105.69,301.59 1106.19,301.63 1106.69,301.43 1107.19,301.07 1107.69,300.91 1108.19,301.67 1108.69,302.24 1109.19,301.27 1109.69,301.37 1110.19,301.32 1110.70,301.91 1111.20,301.56 1111.70,301.98 1112.20,300.87 1112.70,301.04 1113.20,301.13 1113.70,301.35 1114.20,301.38 1114.70,301.34 1115.20,302.13 1115.70,301.36 1116.20,301.49 1116.70,301.95 1117.20,301.36 1117.70,301.03 1118.20,300.82 1118.30,299.97 1118.70,298.58 1118.70,299.86 1119.00,298.29 1119.20,297.88 1119.30,297.10 1119.60,298.59 1119.70,298.41 1119.90,299.43 1120.20,299.72 1120.30,300.79 1120.71,300.56 1121.21,300.77 1121.71,301.82 1122.21,300.98 1122.71,301.11 1123.21,301.46 1123.71,302.18 1124.21,300.99 1124.71,301.14 1125.21,301.97 1125.71,300.97 1126.21,301.46 1126.71,301.98 1127.21,301.89 1127.71,302.01 1128.21,301.07 1128.71,302.16 1129.21,301.42 1129.71,302.06 1130.21,301.59 1130.71,302.19 1131.22,301.62 1131.72,301.32 1132.22,301.18 1132.72,301.68 1133.22,301.07 1133.72,301.26 1134.22,302.28 1134.72,301.90 1135.22,302.35 1135.72,301.42 1136.22,301.98 1136.72,302.10 1137.22,301.82 1137.72,302.37 1138.22,303.82 1138.40,303.77 1138.72,303.95 1138.80,304.20 1139.10,304.93 1139.22,305.16 1139.40,304.71 1139.70,303.79 1139.72,304.92 1140.00,303.58 1140.22,303.35 1140.40,302.95 1140.72,303.06 1141.23,302.70 1141.73,302.23 1142.23,302.05 1142.73,301.46 1143.23,302.18 1143.73,301.87 1144.23,301.50 1144.73,302.20 1145.23,302.32 1145.73,302.27 1146.23,302.34 1146.73,301.04 1147.23,301.47 1147.73,301.54 1148.23,301.26 1148.73,301.93 1149.23,302.14 1149.73,301.05 1150.23,301.55 1150.73,302.18 1151.23,302.04 1151.74,301.40 1152.24,300.88 1152.74,301.33 1153.24,301.35 1153.74,301.63 1154.24,300.65 1154.74,300.55 1155.24,301.13 1155.74,298.96 1156.00,299.06 1156.24,297.33 1156.40,297.38 1156.70,295.03 1156.74,295.50 1157.00,293.71 1157.24,295.33 1157.30,294.75 1157.60,296.39 1157.74,297.23 1158.00,298.30 1158.24,299.44 1158.74,301.08 1159.24,300.64 1159.74,301.37 1160.24,300.56 1160.74,301.32 1161.24,301.42 1161.74,300.84 1162.25,301.55 1162.75,301.38 1163.25,301.23 1163.75,301.95 1164.25,301.77 1164.75,300.98 1165.25,300.96 1165.75,300.89 1166.25,301.19 1166.75,301.72 1167.25,302.18 1167.75,302.19 1168.25,302.04 1168.75,301.00 1169.25,301.94 1169.75,301.90 1170.25,301.49 1170.75,302.22 1171.26,301.66 1171.76,300.98 1172.26,301.12 1172.76,300.99 1173.26,301.66 1173.76,301.67 1174.26,301.99 1174.76,300.79 1175.26,300.78 1175.76,302.11 1176.26,301.10 1176.76,301.09 1177.26,301.91 1177.76,300.82 1178.26,301.74 1178.76,301.84 1179.26,301.32 1179.76,301.31 1180.26,300.36 1180.76,301.06 1181.26,300.87 1181.77,300.79 1182.27,299.95 1182.77,298.53 1183.27,297.03 1183.77,293.86 1183.80,292.67 1184.20,285.30 1184.27,283.64 1184.50,276.81 1184.77,270.25 1184.80,269.90 1185.10,277.05 1185.27,282.13 1185.40,285.48 1185.77,292.96 1185.80,293.76 1186.27,296.91 1186.77,298.83 1187.27,299.95 1187.77,301.04 1188.27,300.88 1188.77,300.45 1189.27,301.16 1189.77,300.90 1190.27,301.19 1190.77,301.58 1191.27,300.66 1191.77,301.38 1192.28,301.14 1192.78,301.56 1193.28,301.89 1193.78,301.41 1194.28,301.65 1194.78,301.19 1195.28,301.15 1195.78,301.52 1196.28,301.56 1196.78,301.13 1197.28,301.90 1197.78,301.53 1198.28,301.33 1198.78,301.20 1199.28,302.02 1199.78,302.11 1200.28,302.16 1200.78,301.20 1201.28,300.96 1201.78,301.74 1202.29,300.90 1202.79,302.06 1203.29,301.82 1203.79,301.34 1204.29,301.49 1204.79,301.83 1205.29,301.10 1205.79,301.38 1206.29,301.98 1206.79,301.83 1207.29,301.70 1207.79,301.02 1208.29,301.18 1208.79,301.24 1209.29,300.92 1209.79,301.78 1210.29,301.68 1210.79,302.18 1211.29,301.66 1211.79,302.17 1212.29,301.54 1212.80,301.61 1213.30,301.28 1213.80,301.54 1214.30,302.20 1214.80,301.57 1215.30,300.89 1215.80,301.38 1216.30,301.16 1216.80,301.76 1217.30,301.60 1217.80,301.55 1218.30,302.19 1218.80,301.96 1219.30,301.01 1219.80,300.93 1220.30,301.87 1220.80,301.73 1221.30,301.80 1221.80,301.59 1222.30,300.94 1222.81,301.52 1223.31,302.06 1223.81,301.73 1224.31,300.95 1224.81,301.07 1225.31,302.16 1225.81,301.66 1226.31,301.12 1226.81,301.88 1227.31,302.19 1227.81,302.10 1228.31,301.80 1228.81,302.02 1229.31,301.02 1229.81,301.54 1230.31,302.03 1230.81,301.37 1231.31,301.10 1231.81,302.11 1232.31,301.88 1232.81,300.90 1233.32,300.98 1233.82,301.67 1234.32,302.23 1234.82,301.76 1235.32,302.12 1235.82,301.04 1236.32,301.70 1236.82,301.15 1237.32,301.36 1237.82,301.10 1238.32,301.54 1238.82,300.96 1239.32,301.81 1239.82,301.80 1240.32,302.16 1240.82,301.97 1241.32,301.00 1241.82,302.11 1242.32,301.66 1242.82,302.21 1243.32,301.59 1243.83,301.01 1244.33,301.88 1244.83,301.14 1245.33,302.27 1245.83,301.65 1246.33,302.16 1246.83,301.59 1247.33,301.35 1247.83,301.82 1248.33,301.89 1248.83,301.54 1249.33,301.28 1249.83,301.49 1250.33,301.90 1250.83,301.22 1251.33,301.12 1251.83,301.57 1252.33,301.82 1252.83,300.99 1253.33,301.28 1253.84,302.26 1254.34,301.27 1254.84,301.98 1255.34,301.33 1255.84,301.02 1256.34,301.58 1256.84,302.11 1257.34,301.99 1257.84,300.96 1258.34,301.88 1258.84,301.77 1259.34,301.57 1259.84,301.83 1260.34,301.63 1260.84,301.15 1261.34,301.87 1261.84,301.08 1262.34,301.33 1262.84,302.09 1263.34,301.69 1263.84,301.61 1264.35,301.89 1264.85,301.59 1265.35,301.44 1265.85,301.67 1266.35,300.93 1266.85,301.39 1267.35,300.95 1267.85,302.29 1268.35,302.17 1268.85,301.81 1269.35,301.12 1269.85,302.10 1270.35,301.29 1270.85,302.02 1271.35,301.81 1271.85,301.75 1272.35,301.94 1272.85,301.27 1273.35,302.07" fill="none" stroke="#E8292B" stroke-width="2.9" stroke-linejoin="round" />
<polyline points="745.38,321.66 745.88,321.96 746.38,322.07 746.88,321.25 747.38,321.47 747.88,321.40 748.38,321.00 748.88,322.12 749.38,321.86 749.88,321.58 750.38,321.66 750.88,322.13 751.38,320.99 751.88,321.40 752.38,321.86 752.88,321.65 753.38,321.59 753.88,321.26 754.38,321.21 754.88,321.83 755.38,321.37 755.88,322.21 756.38,322.16 756.88,322.25 757.38,321.28 757.88,321.62 758.38,321.04 758.88,321.40 759.38,321.00 759.88,321.60 760.38,322.24 760.88,321.96 761.38,321.41 761.88,321.28 762.38,322.20 762.88,320.97 763.38,322.08 763.88,322.09 764.38,320.99 764.88,322.23 765.38,321.80 765.88,321.44 766.38,321.49 766.88,321.75 767.38,321.63 767.88,322.11 768.38,322.15 768.88,321.35 769.38,320.91 769.88,321.99 770.38,321.80 770.88,321.81 771.38,321.00 771.88,321.00 772.38,322.15 772.88,321.40 773.38,321.56 773.88,322.26 774.38,321.17 774.88,321.78 775.38,320.98 775.88,321.68 776.38,321.93 776.88,321.11 777.38,321.96 777.88,322.25 778.38,322.05 778.88,322.00 779.38,322.22 779.88,321.90 780.38,321.66 780.88,322.05 781.38,322.02 781.88,321.77 782.38,321.83 782.88,321.14 783.38,321.37 783.88,321.35 784.38,322.10 784.88,321.99 785.38,321.30 785.88,322.28 786.38,320.98 786.88,320.98 787.38,321.35 787.88,321.00 788.38,322.22 788.88,321.39 789.38,321.44 789.88,322.09 790.38,321.64 790.88,321.77 791.38,321.51 791.88,321.54 792.38,322.23 792.88,321.28 793.38,321.63 793.88,321.56 794.38,321.09 794.88,321.10 795.38,321.60 795.88,322.01 796.38,321.50 796.88,320.97 797.38,322.20 797.88,321.08 798.38,322.13 798.88,320.95 799.38,321.80 799.88,321.09 800.38,321.25 800.88,321.48 801.38,321.95 801.88,321.50 802.38,321.47 802.88,321.45 803.38,321.62 803.88,321.28 804.38,322.22 804.88,321.15 805.38,321.07 805.88,321.66 806.38,321.38 806.88,321.90 807.38,320.94 807.88,321.83 808.38,321.40 808.88,322.18 809.38,321.31 809.88,321.49 810.38,321.33 810.88,321.63 811.38,321.28 811.88,321.82 812.38,321.46 812.88,321.87 813.38,321.29 813.88,321.52 814.38,321.66 814.88,321.89 815.38,321.79 815.88,321.48 816.38,321.00 816.88,321.04 817.38,321.08 817.88,321.14 818.38,321.14 818.88,321.80 819.38,321.35 819.88,322.15 820.38,321.20 820.88,321.22 821.38,321.13 821.88,321.08 822.38,321.83 822.88,321.68 823.38,321.22 823.88,322.00 824.38,321.81 824.88,321.47 825.38,321.72 825.88,321.78 826.38,321.48 826.88,320.99 827.38,321.37 827.88,322.18 828.38,321.38 828.88,321.75 829.38,320.98 829.88,321.94 830.38,322.06 830.88,321.37 831.38,321.36 831.88,321.56 832.38,321.19 832.88,321.13 833.38,321.01 833.88,321.79 834.38,321.53 834.88,322.15 835.38,322.15 835.88,322.02 836.38,322.11 836.88,321.95 837.38,320.79 837.88,320.92 838.38,322.08 838.88,321.91 839.38,321.51 839.88,321.46 840.38,321.13 840.88,321.00 841.38,320.45 841.88,320.74 842.38,319.86 842.88,318.66 843.10,318.99 843.38,317.18 843.50,316.88 843.80,313.91 843.88,313.78 844.10,312.71 844.38,314.56 844.40,313.79 844.70,316.54 844.88,317.54 845.10,318.21 845.38,318.76 845.88,320.21 846.38,320.70 846.88,321.36 847.38,320.64 847.88,320.70 848.38,320.91 848.88,321.63 849.38,320.83 849.88,321.37 850.38,320.47 850.88,320.42 851.38,321.07 851.88,320.30 852.00,319.59 852.38,319.24 852.40,319.85 852.70,318.17 852.88,317.99 853.00,317.72 853.30,318.33 853.38,317.94 853.60,319.77 853.88,320.03 854.00,319.92 854.38,320.30 854.88,320.49 855.38,321.69 855.88,321.65 856.38,321.05 856.88,321.39 857.38,321.33 857.88,320.83 858.38,320.58 858.88,321.54 859.38,320.69 859.88,321.19 860.38,320.33 860.88,320.18 861.38,320.10 861.88,320.24 862.10,319.80 862.38,319.57 862.50,318.72 862.80,317.37 862.88,316.37 863.10,317.34 863.38,317.23 863.40,317.80 863.70,317.76 863.88,319.45 864.10,319.46 864.38,319.54 864.88,320.20 865.38,319.90 865.88,320.64 866.38,320.09 866.88,320.65 867.38,319.73 867.88,320.19 868.38,319.71 868.88,319.28 869.38,318.74 869.88,316.39 870.38,314.39 870.88,308.87 871.38,297.19 871.40,296.49 871.80,269.63 871.88,259.78 872.10,227.40 872.38,194.65 872.40,194.62 872.70,228.37 872.88,255.59 873.00,269.72 873.38,295.68 873.40,296.52 873.88,309.00 874.38,313.90 874.88,316.46 875.38,318.51 875.88,319.22 876.38,319.66 876.88,320.54 877.38,319.66 877.88,319.86 878.38,320.66 878.88,320.28 879.38,321.43 879.88,320.46 880.38,321.64 880.88,320.78 881.38,320.71 881.88,321.62 882.38,321.55 882.88,321.22 883.38,321.51 883.88,321.49 884.38,322.07 884.88,321.49 885.38,321.58 885.88,321.52 886.38,321.51 886.88,321.98 887.38,321.28 887.88,322.26 888.38,322.84 888.88,322.99 889.20,323.02 889.38,322.98 889.60,322.88 889.88,323.17 889.90,323.81 890.20,324.41 890.38,324.34 890.50,323.30 890.80,323.78 890.88,323.75 891.20,322.90 891.38,323.22 891.88,321.83 892.38,321.73 892.88,321.77 893.38,321.91 893.88,321.38 894.38,321.05 894.88,321.68 895.38,320.83 895.88,320.59 896.38,319.89 896.88,319.51 897.38,318.33 897.80,315.20 897.88,314.78 898.20,309.85 898.38,305.03 898.50,303.46 898.80,297.81 898.88,298.63 899.10,303.45 899.38,309.14 899.40,309.24 899.80,314.97 899.88,315.61 900.38,319.14 900.88,319.82 901.38,319.75 901.88,320.41 902.38,320.96 902.88,320.64 903.38,320.92 903.88,321.83 904.38,321.24 904.88,320.99 905.38,321.53 905.88,320.88 906.38,321.47 906.88,321.66 907.38,320.89 907.88,321.55 908.38,321.23 908.88,321.84 909.38,321.67 909.88,322.09 910.38,321.67 910.88,321.08 911.38,321.09 911.88,321.82 912.38,321.97 912.88,320.93 913.38,321.43 913.88,321.25 914.38,321.51 914.88,322.08 915.38,321.64 915.88,321.90 916.38,321.93 916.88,321.25 917.38,321.73 917.88,321.39 918.38,321.53 918.88,321.61 919.38,321.80 919.88,321.11 920.38,322.04 920.88,321.10 921.38,321.31 921.88,322.06 922.38,322.25 922.88,321.39 923.38,322.21 923.88,320.93 924.38,322.21 924.88,321.16 925.38,320.93 925.88,321.95 926.38,321.11 926.88,321.93 927.38,320.89 927.88,321.05 928.38,321.38 928.88,321.00 929.38,321.54 929.88,321.37 930.38,321.92 930.88,321.57 931.38,322.24 931.88,322.06 932.38,321.12 932.88,322.17 933.38,322.14 933.88,321.68 934.38,321.62 934.88,321.12 935.38,321.34 935.88,321.19 936.38,321.16 936.88,321.75 937.38,321.34 937.88,321.96 938.38,321.69 938.88,322.05 939.38,321.01 939.88,322.07 940.38,321.60 940.88,321.77 941.38,321.22 941.88,321.86 942.38,321.46 942.88,321.90 943.38,321.71 943.88,321.09 944.38,321.31 944.88,321.94 945.38,320.91 945.88,321.77 946.38,321.65 946.88,321.89 947.38,321.35 947.88,321.56 948.38,321.56 948.88,321.94 949.38,320.99 949.88,321.61 950.38,321.25 950.88,321.72 951.38,321.25 951.88,321.18 952.38,321.22 952.88,322.14 953.38,321.40 953.88,322.12 954.38,321.92 954.88,321.27 955.38,321.67 955.88,320.90 956.38,322.20 956.88,321.78 957.38,321.05 957.88,321.62 958.38,321.59 958.88,321.83 959.38,321.30 959.88,322.17 960.38,321.77 960.88,321.00 961.38,322.04 961.88,322.13 962.38,321.32 962.88,321.89 963.38,322.10 963.88,322.13 964.38,320.99 964.88,322.07 965.38,321.24 965.88,322.02 966.38,321.86 966.88,321.55 967.38,322.16 967.88,322.02 968.38,322.29 968.88,322.24 969.38,321.70 969.88,321.92 970.38,321.83 970.88,321.46 971.38,321.59 971.88,321.61 972.38,321.20 972.88,321.26 973.38,322.08 973.88,322.08 974.38,321.87 974.88,321.86 975.38,321.61 975.88,321.70 976.38,321.83 976.88,320.91 977.38,321.52 977.88,322.25 978.38,321.18 978.88,321.55 979.38,321.00 979.88,321.25 980.38,322.05 980.88,320.94 981.38,322.01 981.88,322.01 982.38,322.11 982.88,321.26 983.38,322.20 983.88,321.42 984.38,321.53 984.88,322.23 985.38,321.66 985.88,321.85 986.38,321.05 986.88,320.90 987.38,321.27 987.88,321.04 988.38,322.05 988.88,321.25 989.38,322.24 989.88,321.85 990.38,321.16 990.88,321.89 991.38,321.34 991.88,321.63 992.38,321.00 992.88,322.06 993.38,322.00 993.88,321.71 994.38,321.86 994.88,321.37 995.38,321.08 995.88,321.35 996.38,321.93 996.88,321.68 997.38,321.09 997.88,321.23 998.38,321.56 998.88,320.92 999.38,320.96 999.88,321.53 1000.38,321.08 1000.88,322.14 1001.38,321.08 1001.88,321.95 1002.38,322.01 1002.88,321.34 1003.38,321.66 1003.88,322.29 1004.38,321.76 1004.88,321.44 1005.38,322.26 1005.88,321.26 1006.38,322.23 1006.88,321.33 1007.38,321.49 1007.88,321.34 1008.38,321.81 1008.88,322.13 1009.38,321.86 1009.88,321.15 1010.38,322.28 1010.88,321.91 1011.38,321.61 1011.88,322.09 1012.38,321.05 1012.88,321.73 1013.38,322.00 1013.88,321.98 1014.38,321.84 1014.88,320.98 1015.38,321.57 1015.88,321.27 1016.38,321.75 1016.88,321.45 1017.38,321.54 1017.88,321.65 1018.38,321.72 1018.88,322.14 1019.38,321.29 1019.88,321.28 1020.38,321.16 1020.88,321.05 1021.38,322.09 1021.88,322.18 1022.38,321.07 1022.88,321.40 1023.38,322.16 1023.88,322.11 1024.38,322.27 1024.88,322.29 1025.38,321.32 1025.88,320.99 1026.38,321.25 1026.88,321.60 1027.38,320.92 1027.88,321.25 1028.38,321.56 1028.88,321.85 1029.38,321.11 1029.88,321.07 1030.38,321.36 1030.88,321.02 1031.38,321.07 1031.88,321.04 1032.38,322.02 1032.88,322.13 1033.38,320.96 1033.88,322.02 1034.38,322.08 1034.88,321.81 1035.38,321.32 1035.88,322.05 1036.38,321.01 1036.88,320.96 1037.38,322.23 1037.88,321.21 1038.38,322.18 1038.88,321.95 1039.38,320.96 1039.88,321.03 1040.38,321.80 1040.88,321.10 1041.38,321.83 1041.88,321.84 1042.38,321.22 1042.88,321.56 1043.38,321.19 1043.88,322.12 1044.38,321.78 1044.88,321.86 1045.38,321.77 1045.88,320.98 1046.38,322.14 1046.88,321.99 1047.38,321.62 1047.88,321.72 1048.38,321.59 1048.88,321.95 1049.38,321.64 1049.88,321.29 1050.38,321.62 1050.88,321.20 1051.38,320.90 1051.88,321.63 1052.38,322.12 1052.88,321.90 1053.38,321.19 1053.88,321.61 1054.38,321.71 1054.88,321.71 1055.38,321.54 1055.88,321.61 1056.38,321.86 1056.88,322.13 1057.38,321.62 1057.88,321.99 1058.38,321.85 1058.88,321.06 1059.38,321.26 1059.88,321.34 1060.38,321.39 1060.88,321.58 1061.38,321.31 1061.88,322.29 1062.38,321.92 1062.88,321.42 1063.38,321.88 1063.88,322.19 1064.38,321.12 1064.88,321.78 1065.38,322.24 1065.88,321.42 1066.38,322.12 1066.88,322.02 1067.38,321.34 1067.88,321.10 1068.38,322.02 1068.88,321.48 1069.38,321.39 1069.88,321.54 1070.38,321.91 1070.88,322.15 1071.38,322.18 1071.88,321.97 1072.38,321.14 1072.88,321.41 1073.38,320.90 1073.88,321.18 1074.38,321.37 1074.88,321.14 1075.38,321.56 1075.88,321.08 1076.38,321.81 1076.88,321.47 1077.38,321.24 1077.88,321.85 1078.38,321.35 1078.88,320.93 1079.38,322.07 1079.88,321.95 1080.38,322.12 1080.88,321.30 1081.38,321.26 1081.88,321.87 1082.38,321.10 1082.88,322.25 1083.38,321.81 1083.88,321.66 1084.38,320.96 1084.88,321.29 1085.38,321.48 1085.88,322.26 1086.38,321.09 1086.88,321.72 1087.38,321.00 1087.88,322.25 1088.38,321.94 1088.88,322.03 1089.38,321.94 1089.88,321.14 1090.38,321.23 1090.88,320.94 1091.38,321.66 1091.88,321.00 1092.38,321.15 1092.88,321.13 1093.38,322.17 1093.88,321.99 1094.38,321.28 1094.88,322.24 1095.38,321.11 1095.88,321.08 1096.38,321.41 1096.88,322.01 1097.38,321.02 1097.88,321.98 1098.38,321.64 1098.88,321.99 1099.38,321.35 1099.88,320.93 1100.38,321.01 1100.88,321.88 1101.38,321.58 1101.88,321.94 1102.38,321.14 1102.88,321.25 1103.38,321.16 1103.88,322.05 1104.38,321.84 1104.88,321.07 1105.38,321.86 1105.88,320.90 1106.38,321.49 1106.88,321.19 1107.38,321.90 1107.88,321.83 1108.38,321.77 1108.88,321.08 1109.38,320.85 1109.88,321.68 1110.38,321.74 1110.88,320.76 1111.38,321.90 1111.88,321.96 1112.38,321.18 1112.88,321.36 1113.38,321.49 1113.88,321.81 1114.38,321.33 1114.88,321.01 1115.38,321.17 1115.88,320.48 1116.38,319.35 1116.88,319.17 1117.38,317.12 1117.70,314.67 1117.88,312.56 1118.10,308.56 1118.38,301.50 1118.40,301.70 1118.70,296.84 1118.88,298.43 1119.00,301.84 1119.30,308.42 1119.38,310.63 1119.70,315.24 1119.88,316.83 1120.38,318.59 1120.88,319.36 1121.38,321.04 1121.88,320.88 1122.38,321.16 1122.88,320.87 1123.38,320.64 1123.88,321.36 1124.38,321.18 1124.88,321.90 1125.38,321.62 1125.88,321.77 1126.38,321.54 1126.88,321.81 1127.38,320.96 1127.88,322.18 1128.38,321.61 1128.88,321.64 1129.38,321.07 1129.88,320.94 1130.38,321.81 1130.88,321.84 1131.38,321.76 1131.88,321.19 1132.38,321.51 1132.88,321.91 1133.38,321.73 1133.88,322.11 1134.38,320.96 1134.88,321.92 1135.38,320.85 1135.88,321.71 1136.38,321.57 1136.88,320.93 1137.38,321.40 1137.88,321.75 1138.38,322.02 1138.88,320.90 1139.38,321.49 1139.88,321.87 1140.38,320.90 1140.88,321.95 1141.38,321.97 1141.88,321.07 1142.38,320.78 1142.88,320.53 1143.38,320.37 1143.88,320.17 1144.38,319.58 1144.50,319.54 1144.88,317.25 1144.90,317.72 1145.20,315.12 1145.38,314.59 1145.50,313.50 1145.80,315.11 1145.88,315.07 1146.10,316.57 1146.38,318.94 1146.50,318.40 1146.88,319.64 1147.38,320.63 1147.88,320.97 1148.38,320.48 1148.88,320.71 1149.38,321.59 1149.88,321.26 1150.38,320.87 1150.88,321.44 1151.38,321.31 1151.88,322.21 1152.38,320.89 1152.88,321.09 1153.38,320.95 1153.88,321.63 1154.38,322.21 1154.88,321.96 1155.38,321.03 1155.88,321.64 1156.38,321.39 1156.88,322.26 1157.38,321.89 1157.88,321.75 1158.38,321.27 1158.88,321.52 1159.38,321.65 1159.88,321.45 1160.38,321.72 1160.88,321.06 1161.38,321.53 1161.88,322.33 1162.38,321.51 1162.88,321.67 1163.38,322.03 1163.88,322.12 1164.38,322.03 1164.88,321.54 1165.38,322.02 1165.88,321.33 1166.38,321.94 1166.88,321.13 1167.38,321.41 1167.88,321.44 1168.38,321.75 1168.88,322.38 1169.38,321.49 1169.88,322.86 1170.38,322.01 1170.88,323.59 1171.38,324.18 1171.88,324.63 1172.00,325.21 1172.38,326.29 1172.40,325.64 1172.70,326.84 1172.88,325.90 1173.00,326.98 1173.30,326.55 1173.38,326.58 1173.60,325.22 1173.88,324.42 1174.00,324.77 1174.38,324.08 1174.88,323.47 1175.38,322.29 1175.88,322.53 1176.38,322.89 1176.88,321.75 1177.38,322.44 1177.88,322.57 1178.38,322.11 1178.88,321.74 1179.38,321.68 1179.88,321.72 1180.38,321.22 1180.88,321.13 1181.38,321.40 1181.88,321.24 1182.38,322.25 1182.88,321.49 1183.38,322.20 1183.88,321.75 1184.38,322.22 1184.88,322.21 1185.38,321.95 1185.88,321.57 1186.38,321.28 1186.88,321.73 1187.38,321.37 1187.88,322.09 1188.38,320.99 1188.88,321.82 1189.38,321.40 1189.88,321.51 1190.38,321.68 1190.88,322.30 1191.38,322.31 1191.88,321.42 1192.38,322.26 1192.88,322.26 1193.38,321.65 1193.88,321.70 1194.38,321.19 1194.88,322.02 1195.38,321.59 1195.88,321.98 1196.38,322.20 1196.88,321.78 1197.38,321.88 1197.88,321.68 1198.38,321.09 1198.88,321.55 1199.38,321.00 1199.88,321.16 1200.38,322.28 1200.88,321.44 1201.38,321.10 1201.88,321.52 1202.38,320.99 1202.88,321.76 1203.38,321.23 1203.88,321.21 1204.38,321.80 1204.88,322.20 1205.38,320.92 1205.88,321.91 1206.38,321.72 1206.88,321.59 1207.38,321.49 1207.88,320.92 1208.38,321.40 1208.88,321.64 1209.38,321.37 1209.88,322.30 1210.38,321.38 1210.88,322.09 1211.38,322.04 1211.88,322.02 1212.38,321.59 1212.88,321.60 1213.38,322.08 1213.88,321.07 1214.38,321.22 1214.88,320.92 1215.38,321.59 1215.88,321.54 1216.38,322.24 1216.88,322.21 1217.38,321.47 1217.88,321.60 1218.38,321.05 1218.88,321.96 1219.38,321.63 1219.88,321.14 1220.38,322.13 1220.88,320.96 1221.38,321.17 1221.88,321.57 1222.38,322.30 1222.88,321.10 1223.38,321.27 1223.88,322.01 1224.38,321.37 1224.88,322.20 1225.38,320.93 1225.88,321.23 1226.38,321.33 1226.88,322.09 1227.38,321.04 1227.88,321.84 1228.38,322.14 1228.88,322.26 1229.38,322.03 1229.88,320.97 1230.38,321.58 1230.88,321.21 1231.38,321.07 1231.88,321.24 1232.38,321.93 1232.88,321.71 1233.38,321.08 1233.88,321.30 1234.38,320.99 1234.88,322.20 1235.38,321.96 1235.88,321.56 1236.38,322.25 1236.88,322.27 1237.38,321.19 1237.88,321.26 1238.38,321.17 1238.88,321.78 1239.38,321.73 1239.88,321.63 1240.38,321.98 1240.88,321.64 1241.38,321.34 1241.88,321.84 1242.38,322.23 1242.88,320.97 1243.38,321.58 1243.88,321.10 1244.38,321.95 1244.88,321.50 1245.38,322.07 1245.88,321.84 1246.38,322.24 1246.88,321.71 1247.38,321.73 1247.88,322.26 1248.38,322.02 1248.88,321.37 1249.38,321.05 1249.88,322.19 1250.38,320.99 1250.88,322.19 1251.38,322.21 1251.88,321.83 1252.38,322.23 1252.88,321.75 1253.38,321.94 1253.88,321.73 1254.38,321.21 1254.88,321.01 1255.38,321.94 1255.88,321.53 1256.38,321.07 1256.88,321.68 1257.38,321.27 1257.88,321.27 1258.38,322.13 1258.88,321.77 1259.38,321.95 1259.88,322.04 1260.38,321.51 1260.88,321.53 1261.38,321.50 1261.88,321.40" fill="none" stroke="#2C55A8" stroke-width="2.9" stroke-linejoin="round" />
<polygon points="732.5,343.2 1250.70,343.2 1426.45,36.7 908.25,36.7" fill="none" stroke="#000" stroke-width="2.8" stroke-linejoin="round"/>
<line x1="832.70" y1="343.20" x2="836.14" y2="337.20" stroke="#000" stroke-width="2.7" stroke-linecap="butt"/>
<line x1="1008.45" y1="36.70" x2="1005.01" y2="42.70" stroke="#000" stroke-width="2.7" stroke-linecap="butt"/>
<line x1="986.90" y1="343.20" x2="990.34" y2="337.20" stroke="#000" stroke-width="2.7" stroke-linecap="butt"/>
<line x1="1162.65" y1="36.70" x2="1159.21" y2="42.70" stroke="#000" stroke-width="2.7" stroke-linecap="butt"/>
<line x1="1140.90" y1="343.20" x2="1144.34" y2="337.20" stroke="#000" stroke-width="2.7" stroke-linecap="butt"/>
<line x1="1316.65" y1="36.70" x2="1313.21" y2="42.70" stroke="#000" stroke-width="2.7" stroke-linecap="butt"/>
<line x1="895.17" y1="59.50" x2="900.67" y2="59.50" stroke="#000" stroke-width="2.7" stroke-linecap="butt"/>
<line x1="1413.37" y1="59.50" x2="1407.87" y2="59.50" stroke="#000" stroke-width="2.7" stroke-linecap="butt"/>
<line x1="843.11" y1="150.30" x2="848.61" y2="150.30" stroke="#000" stroke-width="2.7" stroke-linecap="butt"/>
<line x1="1361.31" y1="150.30" x2="1355.81" y2="150.30" stroke="#000" stroke-width="2.7" stroke-linecap="butt"/>
<line x1="791.56" y1="240.20" x2="797.06" y2="240.20" stroke="#000" stroke-width="2.7" stroke-linecap="butt"/>
<line x1="1309.76" y1="240.20" x2="1304.26" y2="240.20" stroke="#000" stroke-width="2.7" stroke-linecap="butt"/>
<line x1="738.92" y1="332.00" x2="744.42" y2="332.00" stroke="#000" stroke-width="2.7" stroke-linecap="butt"/>
<line x1="1257.12" y1="332.00" x2="1251.62" y2="332.00" stroke="#000" stroke-width="2.7" stroke-linecap="butt"/>
<g transform="translate(0,310.5) skewX(-30.77) translate(0,-310.5)">
<text transform="translate(735.75,311.80) rotate(-90)" x="-2.19" y="0" font-size="24" textLength="279.35" lengthAdjust="spacingAndGlyphs" fill="#000">NMR signals (arb.units)</text>
</g>
<text x="798.33" y="370.00" font-size="29" textLength="47.28" lengthAdjust="spacingAndGlyphs" fill="#000" >−97</text>
<text x="944.59" y="370.00" font-size="29" textLength="64.22" lengthAdjust="spacingAndGlyphs" fill="#000" >−100</text>
<text x="1097.50" y="370.00" font-size="29" textLength="63.84" lengthAdjust="spacingAndGlyphs" fill="#000" >−103</text>
<text x="1202.54" y="366.00" font-size="28.5" textLength="75.72" lengthAdjust="spacingAndGlyphs" fill="#000" >[ppm]</text>
<text x="717.39" y="27.82" font-size="39.5" textLength="9.17" lengthAdjust="spacingAndGlyphs" fill="#000" >(</text>
<text x="749.34" y="27.82" font-size="39.5" textLength="9.04" lengthAdjust="spacingAndGlyphs" fill="#000" >)</text>
<text x="729.24" y="29.33" font-size="37.78" textLength="17.16" lengthAdjust="spacingAndGlyphs" fill="#000" >c</text>
<circle cx="838.30" cy="488.60" r="11.1" fill="none" stroke="#777777" stroke-width="2.6"/>
<circle cx="911.63" cy="607.80" r="11.1" fill="none" stroke="#777777" stroke-width="2.6"/>
<circle cx="984.96" cy="607.80" r="11.1" fill="none" stroke="#777777" stroke-width="2.6"/>
<circle cx="1058.29" cy="548.20" r="11.1" fill="none" stroke="#777777" stroke-width="2.6"/>
<circle cx="1131.62" cy="548.20" r="11.1" fill="none" stroke="#777777" stroke-width="2.6"/>
<circle cx="1204.95" cy="548.20" r="11.1" fill="none" stroke="#777777" stroke-width="2.6"/>
<circle cx="1278.28" cy="548.20" r="11.1" fill="none" stroke="#777777" stroke-width="2.6"/>
<circle cx="1351.61" cy="548.20" r="11.1" fill="none" stroke="#777777" stroke-width="2.6"/>
<line x1="826.90" y1="515.60" x2="849.70" y2="515.60" stroke="#D32A4D" stroke-width="2.8" stroke-linecap="butt"/>
<line x1="838.30" y1="504.20" x2="838.30" y2="527.00" stroke="#D32A4D" stroke-width="2.8" stroke-linecap="butt"/>
<line x1="830.00" y1="507.30" x2="846.60" y2="523.90" stroke="#D32A4D" stroke-width="2.8" stroke-linecap="butt"/>
<line x1="830.00" y1="523.90" x2="846.60" y2="507.30" stroke="#D32A4D" stroke-width="2.8" stroke-linecap="butt"/>
<line x1="900.23" y1="621.70" x2="923.03" y2="621.70" stroke="#D32A4D" stroke-width="2.8" stroke-linecap="butt"/>
<line x1="911.63" y1="610.30" x2="911.63" y2="633.10" stroke="#D32A4D" stroke-width="2.8" stroke-linecap="butt"/>
<line x1="903.33" y1="613.40" x2="919.93" y2="630.00" stroke="#D32A4D" stroke-width="2.8" stroke-linecap="butt"/>
<line x1="903.33" y1="630.00" x2="919.93" y2="613.40" stroke="#D32A4D" stroke-width="2.8" stroke-linecap="butt"/>
<line x1="973.56" y1="611.10" x2="996.36" y2="611.10" stroke="#D32A4D" stroke-width="2.8" stroke-linecap="butt"/>
<line x1="984.96" y1="599.70" x2="984.96" y2="622.50" stroke="#D32A4D" stroke-width="2.8" stroke-linecap="butt"/>
<line x1="976.66" y1="602.80" x2="993.26" y2="619.40" stroke="#D32A4D" stroke-width="2.8" stroke-linecap="butt"/>
<line x1="976.66" y1="619.40" x2="993.26" y2="602.80" stroke="#D32A4D" stroke-width="2.8" stroke-linecap="butt"/>
<line x1="1046.89" y1="557.10" x2="1069.69" y2="557.10" stroke="#D32A4D" stroke-width="2.8" stroke-linecap="butt"/>
<line x1="1058.29" y1="545.70" x2="1058.29" y2="568.50" stroke="#D32A4D" stroke-width="2.8" stroke-linecap="butt"/>
<line x1="1049.99" y1="548.80" x2="1066.59" y2="565.40" stroke="#D32A4D" stroke-width="2.8" stroke-linecap="butt"/>
<line x1="1049.99" y1="565.40" x2="1066.59" y2="548.80" stroke="#D32A4D" stroke-width="2.8" stroke-linecap="butt"/>
<line x1="1120.22" y1="561.60" x2="1143.02" y2="561.60" stroke="#D32A4D" stroke-width="2.8" stroke-linecap="butt"/>
<line x1="1131.62" y1="550.20" x2="1131.62" y2="573.00" stroke="#D32A4D" stroke-width="2.8" stroke-linecap="butt"/>
<line x1="1123.32" y1="553.30" x2="1139.92" y2="569.90" stroke="#D32A4D" stroke-width="2.8" stroke-linecap="butt"/>
<line x1="1123.32" y1="569.90" x2="1139.92" y2="553.30" stroke="#D32A4D" stroke-width="2.8" stroke-linecap="butt"/>
<line x1="1193.55" y1="560.10" x2="1216.35" y2="560.10" stroke="#D32A4D" stroke-width="2.8" stroke-linecap="butt"/>
<line x1="1204.95" y1="548.70" x2="1204.95" y2="571.50" stroke="#D32A4D" stroke-width="2.8" stroke-linecap="butt"/>
<line x1="1196.65" y1="551.80" x2="1213.25" y2="568.40" stroke="#D32A4D" stroke-width="2.8" stroke-linecap="butt"/>
<line x1="1196.65" y1="568.40" x2="1213.25" y2="551.80" stroke="#D32A4D" stroke-width="2.8" stroke-linecap="butt"/>
<line x1="1266.88" y1="565.40" x2="1289.68" y2="565.40" stroke="#D32A4D" stroke-width="2.8" stroke-linecap="butt"/>
<line x1="1278.28" y1="554.00" x2="1278.28" y2="576.80" stroke="#D32A4D" stroke-width="2.8" stroke-linecap="butt"/>
<line x1="1269.98" y1="557.10" x2="1286.58" y2="573.70" stroke="#D32A4D" stroke-width="2.8" stroke-linecap="butt"/>
<line x1="1269.98" y1="573.70" x2="1286.58" y2="557.10" stroke="#D32A4D" stroke-width="2.8" stroke-linecap="butt"/>
<line x1="1340.21" y1="549.30" x2="1363.01" y2="549.30" stroke="#D32A4D" stroke-width="2.8" stroke-linecap="butt"/>
<line x1="1351.61" y1="537.90" x2="1351.61" y2="560.70" stroke="#D32A4D" stroke-width="2.8" stroke-linecap="butt"/>
<line x1="1343.31" y1="541.00" x2="1359.91" y2="557.60" stroke="#D32A4D" stroke-width="2.8" stroke-linecap="butt"/>
<line x1="1343.31" y1="557.60" x2="1359.91" y2="541.00" stroke="#D32A4D" stroke-width="2.8" stroke-linecap="butt"/>
<rect x="823.50" y="464.80" width="542.80" height="262.40" fill="none" stroke="#000" stroke-width="2.8" stroke-linejoin="round"/>
<line x1="838.30" y1="727.20" x2="838.30" y2="721.70" stroke="#000" stroke-width="2.6" stroke-linecap="butt"/>
<line x1="838.30" y1="464.80" x2="838.30" y2="470.30" stroke="#000" stroke-width="2.6" stroke-linecap="butt"/>
<line x1="911.63" y1="727.20" x2="911.63" y2="721.70" stroke="#000" stroke-width="2.6" stroke-linecap="butt"/>
<line x1="911.63" y1="464.80" x2="911.63" y2="470.30" stroke="#000" stroke-width="2.6" stroke-linecap="butt"/>
<line x1="984.96" y1="727.20" x2="984.96" y2="721.70" stroke="#000" stroke-width="2.6" stroke-linecap="butt"/>
<line x1="984.96" y1="464.80" x2="984.96" y2="470.30" stroke="#000" stroke-width="2.6" stroke-linecap="butt"/>
<line x1="1058.29" y1="727.20" x2="1058.29" y2="721.70" stroke="#000" stroke-width="2.6" stroke-linecap="butt"/>
<line x1="1058.29" y1="464.80" x2="1058.29" y2="470.30" stroke="#000" stroke-width="2.6" stroke-linecap="butt"/>
<line x1="1131.62" y1="727.20" x2="1131.62" y2="721.70" stroke="#000" stroke-width="2.6" stroke-linecap="butt"/>
<line x1="1131.62" y1="464.80" x2="1131.62" y2="470.30" stroke="#000" stroke-width="2.6" stroke-linecap="butt"/>
<line x1="1204.95" y1="727.20" x2="1204.95" y2="721.70" stroke="#000" stroke-width="2.6" stroke-linecap="butt"/>
<line x1="1204.95" y1="464.80" x2="1204.95" y2="470.30" stroke="#000" stroke-width="2.6" stroke-linecap="butt"/>
<line x1="1278.28" y1="727.20" x2="1278.28" y2="721.70" stroke="#000" stroke-width="2.6" stroke-linecap="butt"/>
<line x1="1278.28" y1="464.80" x2="1278.28" y2="470.30" stroke="#000" stroke-width="2.6" stroke-linecap="butt"/>
<line x1="1351.61" y1="727.20" x2="1351.61" y2="721.70" stroke="#000" stroke-width="2.6" stroke-linecap="butt"/>
<line x1="1351.61" y1="464.80" x2="1351.61" y2="470.30" stroke="#000" stroke-width="2.6" stroke-linecap="butt"/>
<line x1="823.50" y1="679.32" x2="829.00" y2="679.32" stroke="#000" stroke-width="2.6" stroke-linecap="butt"/>
<line x1="1366.30" y1="679.32" x2="1360.80" y2="679.32" stroke="#000" stroke-width="2.6" stroke-linecap="butt"/>
<line x1="823.50" y1="631.64" x2="829.00" y2="631.64" stroke="#000" stroke-width="2.6" stroke-linecap="butt"/>
<line x1="1366.30" y1="631.64" x2="1360.80" y2="631.64" stroke="#000" stroke-width="2.6" stroke-linecap="butt"/>
<line x1="823.50" y1="583.96" x2="829.00" y2="583.96" stroke="#000" stroke-width="2.6" stroke-linecap="butt"/>
<line x1="1366.30" y1="583.96" x2="1360.80" y2="583.96" stroke="#000" stroke-width="2.6" stroke-linecap="butt"/>
<line x1="823.50" y1="536.28" x2="829.00" y2="536.28" stroke="#000" stroke-width="2.6" stroke-linecap="butt"/>
<line x1="1366.30" y1="536.28" x2="1360.80" y2="536.28" stroke="#000" stroke-width="2.6" stroke-linecap="butt"/>
<line x1="823.50" y1="488.60" x2="829.00" y2="488.60" stroke="#000" stroke-width="2.6" stroke-linecap="butt"/>
<line x1="1366.30" y1="488.60" x2="1360.80" y2="488.60" stroke="#000" stroke-width="2.6" stroke-linecap="butt"/>
<rect x="1174.1" y="617.7" width="178.9" height="94.2" fill="#fff" stroke="#000" stroke-width="2.8"/>
<circle cx="1206.90" cy="640.90" r="11.1" fill="none" stroke="#777777" stroke-width="2.6"/>
<line x1="1195.50" y1="679.20" x2="1218.30" y2="679.20" stroke="#D32A4D" stroke-width="2.8" stroke-linecap="butt"/>
<line x1="1206.90" y1="667.80" x2="1206.90" y2="690.60" stroke="#D32A4D" stroke-width="2.8" stroke-linecap="butt"/>
<line x1="1198.60" y1="670.90" x2="1215.20" y2="687.50" stroke="#D32A4D" stroke-width="2.8" stroke-linecap="butt"/>
<line x1="1198.60" y1="687.50" x2="1215.20" y2="670.90" stroke="#D32A4D" stroke-width="2.8" stroke-linecap="butt"/>
<text x="1244.5" y="648.3" font-size="28.3" fill="#000">Tr(ρ<tspan font-size="18" dy="-10">2</tspan><tspan dy="10">)</tspan><tspan font-size="18" dy="10.5">th</tspan></text>
<text x="1244.5" y="690.4" font-size="28.3" fill="#000">Tr(ρ<tspan font-size="18" dy="-10">2</tspan><tspan dy="10">)</tspan><tspan font-size="18" dy="10">exp</tspan></text>
<text x="799.90" y="498.90" font-size="29" textLength="15.68" lengthAdjust="spacingAndGlyphs" fill="#000" >1</text>
<text x="774.98" y="546.58" font-size="29" textLength="40.48" lengthAdjust="spacingAndGlyphs" fill="#000" >0.8</text>
<text x="775.00" y="594.26" font-size="29" textLength="40.48" lengthAdjust="spacingAndGlyphs" fill="#000" >0.6</text>
<text x="774.56" y="641.94" font-size="29" textLength="40.49" lengthAdjust="spacingAndGlyphs" fill="#000" >0.4</text>
<text x="775.19" y="689.62" font-size="29" textLength="40.48" lengthAdjust="spacingAndGlyphs" fill="#000" >0.2</text>
<text x="799.55" y="737.30" font-size="29" textLength="15.75" lengthAdjust="spacingAndGlyphs" fill="#000" >0</text>
<text x="829.04" y="757.50" font-size="29" textLength="14.79" lengthAdjust="spacingAndGlyphs" fill="#000" >1</text>
<text x="902.71" y="757.50" font-size="29" textLength="14.83" lengthAdjust="spacingAndGlyphs" fill="#000" >2</text>
<text x="976.11" y="757.50" font-size="29" textLength="14.86" lengthAdjust="spacingAndGlyphs" fill="#000" >3</text>
<text x="1049.42" y="757.50" font-size="29" textLength="14.90" lengthAdjust="spacingAndGlyphs" fill="#000" >4</text>
<text x="1122.72" y="757.50" font-size="29" textLength="14.86" lengthAdjust="spacingAndGlyphs" fill="#000" >5</text>
<text x="1195.94" y="757.50" font-size="29" textLength="14.84" lengthAdjust="spacingAndGlyphs" fill="#000" >6</text>
<text x="1269.35" y="757.50" font-size="29" textLength="14.83" lengthAdjust="spacingAndGlyphs" fill="#000" >7</text>
<text x="1342.68" y="757.50" font-size="29" textLength="14.85" lengthAdjust="spacingAndGlyphs" fill="#000" >8</text>
<text x="989.55" y="789.20" font-size="31.8" textLength="234.99" lengthAdjust="spacingAndGlyphs" fill="#000" >Different states ρ</text>
<text transform="translate(765,641.3) rotate(-90)" x="0" y="0" font-size="28.3" fill="#000">Tr(ρ<tspan font-size="18" dy="-10">2</tspan><tspan dy="10">)</tspan></text>
<text x="716.92" y="452.93" font-size="38.96" textLength="9.55" lengthAdjust="spacingAndGlyphs" fill="#000" >(</text>
<text x="753.33" y="452.93" font-size="38.96" textLength="9.42" lengthAdjust="spacingAndGlyphs" fill="#000" >)</text>
<text x="729.31" y="453.72" font-size="39.22" textLength="21.02" lengthAdjust="spacingAndGlyphs" fill="#000" >d</text>
</svg></body></html>
